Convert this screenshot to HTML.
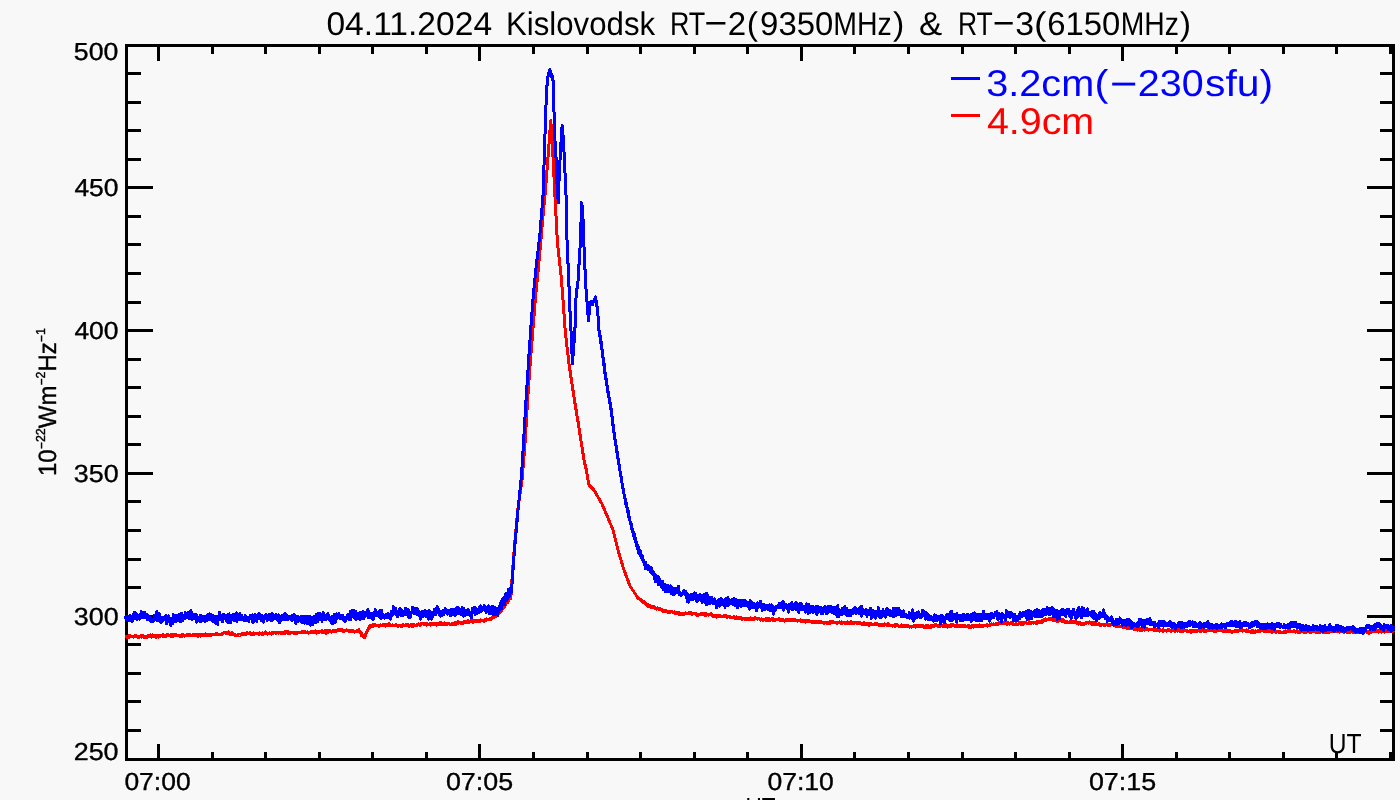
<!DOCTYPE html>
<html lang="en"><head><meta charset="utf-8"><title>04.11.2024 Kislovodsk RT-2 &amp; RT-3</title>
<style>html,body{margin:0;padding:0;background:#f8f8f8;overflow:hidden}svg{display:block;will-change:transform;-webkit-font-smoothing:antialiased}text{font-family:"Liberation Sans",Arial,sans-serif;text-rendering:geometricPrecision}</style>
</head><body>
<svg width="1400" height="800" viewBox="0 0 1400 800" font-family="Liberation Sans, Arial, sans-serif"><rect x="0" y="0" width="1400" height="800" fill="#f8f8f8"/>
<g fill="none" stroke="#000" stroke-width="3" shape-rendering="crispEdges">
<rect x="126.5" y="45.5" width="1267.0" height="714.0"/>
<path d="M158.5 45.5v15.5M158.5 759.5v-15.5M212.5 45.5v8M212.5 759.5v-8M265.5 45.5v8M265.5 759.5v-8M319.5 45.5v8M319.5 759.5v-8M372.5 45.5v8M372.5 759.5v-8M426.5 45.5v8M426.5 759.5v-8M479.5 45.5v15.5M479.5 759.5v-15.5M533.5 45.5v8M533.5 759.5v-8M587.5 45.5v8M587.5 759.5v-8M640.5 45.5v8M640.5 759.5v-8M694.5 45.5v8M694.5 759.5v-8M747.5 45.5v8M747.5 759.5v-8M801.5 45.5v15.5M801.5 759.5v-15.5M854.5 45.5v8M854.5 759.5v-8M908.5 45.5v8M908.5 759.5v-8M962.5 45.5v8M962.5 759.5v-8M1015.5 45.5v8M1015.5 759.5v-8M1069.5 45.5v8M1069.5 759.5v-8M1122.5 45.5v15.5M1122.5 759.5v-15.5M1176.5 45.5v8M1176.5 759.5v-8M1229.5 45.5v8M1229.5 759.5v-8M1283.5 45.5v8M1283.5 759.5v-8M1336.5 45.5v8M1336.5 759.5v-8M1390.5 45.5v8M1390.5 759.5v-8M126.5 73.5h14M1393.5 73.5h-14M126.5 102.5h14M1393.5 102.5h-14M126.5 130.5h14M1393.5 130.5h-14M126.5 159.5h14M1393.5 159.5h-14M126.5 187.5h26.5M1393.5 187.5h-26.5M126.5 216.5h14M1393.5 216.5h-14M126.5 244.5h14M1393.5 244.5h-14M126.5 273.5h14M1393.5 273.5h-14M126.5 302.5h14M1393.5 302.5h-14M126.5 330.5h26.5M1393.5 330.5h-26.5M126.5 359.5h14M1393.5 359.5h-14M126.5 387.5h14M1393.5 387.5h-14M126.5 416.5h14M1393.5 416.5h-14M126.5 444.5h14M1393.5 444.5h-14M126.5 473.5h26.5M1393.5 473.5h-26.5M126.5 501.5h14M1393.5 501.5h-14M126.5 530.5h14M1393.5 530.5h-14M126.5 559.5h14M1393.5 559.5h-14M126.5 587.5h14M1393.5 587.5h-14M126.5 616.5h26.5M1393.5 616.5h-26.5M126.5 644.5h14M1393.5 644.5h-14M126.5 673.5h14M1393.5 673.5h-14M126.5 701.5h14M1393.5 701.5h-14M126.5 730.5h14M1393.5 730.5h-14"/>
</g>
<g fill="none" stroke-width="3" stroke-linejoin="round" shape-rendering="crispEdges">
<polyline stroke="#ff0000" points="125.5,636.9 126.0,636.4 126.5,637.0 127.0,637.2 127.5,637.0 128.0,636.7 128.5,637.6 129.0,635.8 129.5,636.7 130.0,636.9 130.5,636.0 131.0,636.1 131.5,636.1 132.0,636.5 132.5,636.4 133.0,636.8 133.5,637.2 134.0,636.2 134.5,636.7 135.0,636.9 135.5,635.6 136.0,636.6 136.5,635.8 137.0,636.3 137.5,636.2 138.0,637.3 138.5,636.3 139.0,636.3 139.5,637.0 140.0,636.5 140.5,635.8 141.0,637.1 141.5,637.0 142.0,636.3 142.5,635.6 143.0,636.2 143.5,636.1 144.0,637.5 144.5,636.2 145.0,637.1 145.5,637.3 146.0,636.8 146.5,636.8 147.0,637.3 147.5,636.9 148.0,635.6 148.5,636.9 149.0,635.1 149.5,635.8 150.0,636.5 150.5,635.0 151.0,636.5 151.5,637.1 152.0,635.8 152.5,634.9 153.0,636.8 153.5,635.4 154.0,635.3 154.5,635.4 155.0,635.8 155.5,635.8 156.0,637.3 156.5,635.8 157.0,635.4 157.5,635.4 158.0,636.1 158.5,637.2 159.0,635.4 159.5,636.0 160.0,636.4 160.5,635.8 161.0,635.8 161.5,635.6 162.0,636.0 162.5,635.3 163.0,636.5 163.5,634.7 164.0,636.2 164.5,636.2 165.0,635.6 165.5,635.3 166.0,636.1 166.5,634.9 167.0,635.2 167.5,634.8 168.0,635.4 168.5,634.8 169.0,634.9 169.5,635.7 170.0,635.3 170.5,635.5 171.0,636.3 171.5,634.3 172.0,635.1 172.5,635.4 173.0,636.1 173.5,634.7 174.0,635.2 174.5,635.5 175.0,634.6 175.5,635.0 176.0,635.2 176.5,635.0 177.0,635.6 177.5,635.9 178.0,635.3 178.5,636.0 179.0,635.9 179.5,635.8 180.0,635.5 180.5,636.8 181.0,635.4 181.5,636.1 182.0,636.5 182.5,634.6 183.0,635.6 183.5,634.8 184.0,635.7 184.5,636.0 185.0,635.2 185.5,635.5 186.0,635.8 186.5,634.9 187.0,635.0 187.5,634.5 188.0,635.3 188.5,634.8 189.0,635.8 189.5,635.6 190.0,634.2 190.5,635.0 191.0,635.0 191.5,635.0 192.0,635.1 192.5,634.7 193.0,635.4 193.5,635.2 194.0,635.1 194.5,634.6 195.0,635.5 195.5,634.2 196.0,635.5 196.5,635.3 197.0,634.6 197.5,635.3 198.0,636.4 198.5,635.1 199.0,634.8 199.5,635.2 200.0,635.4 200.5,636.0 201.0,634.9 201.5,635.6 202.0,635.1 202.5,635.7 203.0,635.3 203.5,634.5 204.0,635.5 204.5,635.8 205.0,635.1 205.5,634.0 206.0,634.7 206.5,635.2 207.0,635.5 207.5,634.8 208.0,635.6 208.5,634.7 209.0,634.2 209.5,635.1 210.0,634.4 210.5,635.4 211.0,635.2 211.5,634.3 212.0,634.1 212.5,634.5 213.0,634.9 213.5,634.3 214.0,634.2 214.5,634.9 215.0,634.7 215.5,634.0 216.0,634.1 216.5,633.3 217.0,634.4 217.5,634.4 218.0,634.9 218.5,634.3 219.0,634.4 219.5,634.4 220.0,634.2 220.5,634.3 221.0,634.0 221.5,634.8 222.0,633.9 222.5,634.1 223.0,633.9 223.5,633.0 224.0,632.3 224.5,632.7 225.0,633.0 225.5,633.2 226.0,632.4 226.5,633.5 227.0,633.0 227.5,633.6 228.0,632.7 228.5,631.9 229.0,633.7 229.5,633.7 230.0,634.8 230.5,633.7 231.0,634.0 231.5,634.9 232.0,632.7 232.5,633.4 233.0,633.3 233.5,634.7 234.0,634.5 234.5,635.1 235.0,634.1 235.5,634.7 236.0,635.2 236.5,635.1 237.0,635.1 237.5,635.9 238.0,634.9 238.5,635.0 239.0,635.0 239.5,635.5 240.0,634.5 240.5,634.4 241.0,634.3 241.5,633.8 242.0,634.4 242.5,634.0 243.0,633.0 243.5,633.7 244.0,633.9 244.5,634.6 245.0,633.6 245.5,634.4 246.0,633.7 246.5,634.2 247.0,632.8 247.5,632.7 248.0,633.4 248.5,633.3 249.0,633.5 249.5,633.8 250.0,632.9 250.5,633.7 251.0,633.4 251.5,634.8 252.0,633.7 252.5,633.6 253.0,634.8 253.5,633.0 254.0,634.8 254.5,634.1 255.0,633.7 255.5,633.7 256.0,633.9 256.5,634.0 257.0,633.3 257.5,633.9 258.0,634.0 258.5,633.5 259.0,634.3 259.5,632.9 260.0,633.5 260.5,633.9 261.0,633.6 261.5,634.2 262.0,633.9 262.5,632.8 263.0,634.2 263.5,633.1 264.0,634.0 264.5,633.4 265.0,633.9 265.5,632.0 266.0,633.6 266.5,633.1 267.0,634.0 267.5,634.0 268.0,633.9 268.5,633.1 269.0,633.2 269.5,632.8 270.0,633.2 270.5,633.4 271.0,633.6 271.5,634.1 272.0,632.9 272.5,633.5 273.0,633.7 273.5,633.2 274.0,632.4 274.5,632.9 275.0,632.8 275.5,632.4 276.0,633.1 276.5,632.7 277.0,632.7 277.5,632.9 278.0,632.8 278.5,633.1 279.0,633.1 279.5,632.9 280.0,633.0 280.5,633.1 281.0,632.5 281.5,633.3 282.0,633.4 282.5,632.6 283.0,633.3 283.5,632.9 284.0,632.8 284.5,633.5 285.0,631.8 285.5,632.9 286.0,632.1 286.5,632.6 287.0,631.3 287.5,633.0 288.0,633.2 288.5,632.0 289.0,633.5 289.5,632.4 290.0,632.7 290.5,632.2 291.0,633.1 291.5,632.7 292.0,632.8 292.5,632.9 293.0,632.3 293.5,633.1 294.0,632.6 294.5,633.5 295.0,632.7 295.5,633.0 296.0,632.9 296.5,633.4 297.0,633.5 297.5,632.7 298.0,632.1 298.5,632.5 299.0,632.2 299.5,632.7 300.0,632.1 300.5,632.3 301.0,632.2 301.5,632.2 302.0,631.4 302.5,632.5 303.0,631.7 303.5,631.1 304.0,631.6 304.5,631.9 305.0,631.9 305.5,632.4 306.0,632.0 306.5,632.4 307.0,632.8 307.5,631.8 308.0,631.9 308.5,633.0 309.0,632.4 309.5,632.6 310.0,632.0 310.5,632.0 311.0,631.8 311.5,631.4 312.0,632.4 312.5,631.1 313.0,631.4 313.5,631.1 314.0,632.7 314.5,631.3 315.0,632.4 315.5,631.0 316.0,632.8 316.5,633.1 317.0,631.7 317.5,632.5 318.0,631.0 318.5,631.4 319.0,632.3 319.5,631.7 320.0,631.4 320.5,631.7 321.0,631.4 321.5,631.3 322.0,632.2 322.5,630.7 323.0,631.4 323.5,631.8 324.0,632.3 324.5,631.9 325.0,631.5 325.5,630.5 326.0,633.2 326.5,631.3 327.0,632.1 327.5,631.0 328.0,632.2 328.5,630.9 329.0,631.3 329.5,631.6 330.0,630.9 330.5,631.9 331.0,631.5 331.5,632.1 332.0,631.9 332.5,631.1 333.0,630.7 333.5,631.1 334.0,631.8 334.5,630.2 335.0,631.6 335.5,630.1 336.0,631.2 336.5,631.1 337.0,630.3 337.5,629.9 338.0,630.7 338.5,630.9 339.0,629.9 339.5,630.9 340.0,630.8 340.5,629.9 341.0,629.6 341.5,630.6 342.0,630.4 342.5,629.8 343.0,630.0 343.5,631.7 344.0,630.8 344.5,630.7 345.0,630.0 345.5,630.4 346.0,631.0 346.5,629.9 347.0,630.1 347.5,630.3 348.0,630.4 348.5,631.1 349.0,630.4 349.5,631.1 350.0,631.2 350.5,631.3 351.0,631.4 351.5,630.6 352.0,630.7 352.5,630.5 353.0,631.6 353.5,631.8 354.0,631.7 354.5,632.2 355.0,631.2 355.5,631.9 356.0,631.4 356.5,631.7 357.0,630.8 357.5,631.1 358.0,630.7 358.5,630.5 359.0,629.9 359.5,631.7 360.0,631.3 360.2,633.0 360.4,632.0 360.6,632.6 360.9,632.3 361.1,633.9 361.3,633.3 361.5,635.3 361.7,635.8 362.0,633.8 362.2,634.9 362.4,635.0 362.7,635.7 362.9,635.8 363.4,636.7 363.9,637.1 364.5,636.4 365.0,637.1 365.2,636.1 365.3,636.0 365.5,635.8 365.7,634.1 365.8,635.1 366.0,633.2 366.2,632.8 366.3,633.3 366.5,631.9 366.8,631.4 367.0,632.0 367.2,630.9 367.5,630.3 367.8,629.7 368.0,629.2 368.2,629.4 368.5,628.7 368.8,627.9 369.0,629.0 369.2,627.7 369.5,626.2 369.8,626.6 370.0,625.5 370.5,625.6 371.0,626.8 371.5,626.4 372.0,625.8 372.5,626.2 373.0,624.8 373.5,626.0 374.0,626.0 374.5,625.2 375.0,624.6 375.5,625.9 376.0,625.7 376.5,625.5 377.0,625.5 377.5,625.5 378.0,625.9 378.5,626.2 379.0,625.0 379.5,626.0 380.0,624.9 380.5,624.8 381.0,625.0 381.5,625.5 382.0,625.4 382.5,625.1 383.0,624.6 383.5,625.7 384.0,625.0 384.5,625.1 385.0,624.6 385.5,626.0 386.0,624.7 386.5,624.2 387.0,625.3 387.5,624.8 388.0,625.2 388.5,625.2 389.0,623.7 389.5,624.5 390.0,626.0 390.5,625.0 391.0,625.0 391.5,625.3 392.0,625.5 392.5,624.9 393.0,625.4 393.5,625.4 394.0,625.2 394.5,625.2 395.0,625.7 395.5,625.5 396.0,624.8 396.5,624.7 397.0,625.4 397.5,625.5 398.0,626.4 398.5,625.6 399.0,625.7 399.5,625.5 400.0,625.9 400.5,626.1 401.0,626.5 401.5,625.6 402.0,626.1 402.5,626.3 403.0,624.8 403.5,625.8 404.0,625.1 404.5,625.2 405.0,625.3 405.5,625.2 406.0,624.8 406.5,625.4 407.0,625.5 407.5,625.1 408.0,624.6 408.5,625.0 409.0,626.2 409.5,625.7 410.0,625.1 410.5,624.9 411.0,625.6 411.5,625.6 412.0,626.8 412.5,624.7 413.0,625.8 413.5,626.1 414.0,626.1 414.5,624.7 415.0,625.6 415.5,625.4 416.0,625.4 416.5,625.3 417.0,624.6 417.5,625.1 418.0,624.2 418.5,623.8 419.0,624.2 419.5,624.5 420.0,625.2 420.5,624.0 421.0,625.0 421.5,623.6 422.0,623.7 422.5,623.2 423.0,623.9 423.5,623.9 424.0,624.3 424.5,623.7 425.0,624.0 425.5,623.3 426.0,623.9 426.5,625.0 427.0,623.6 427.5,624.2 428.0,624.7 428.5,624.7 429.0,624.2 429.5,624.1 430.0,623.7 430.5,625.1 431.0,623.6 431.4,624.3 431.9,623.8 432.4,624.1 432.9,623.7 433.4,624.4 433.9,624.8 434.4,624.0 434.9,624.2 435.4,624.3 435.9,623.9 436.4,625.0 436.9,623.5 437.4,623.6 437.9,624.3 438.4,623.9 438.9,623.7 439.4,624.4 439.9,622.5 440.4,623.8 440.9,624.3 441.4,622.9 441.9,625.0 442.4,623.7 442.9,623.7 443.4,623.8 443.9,623.6 444.4,624.7 444.9,622.9 445.4,623.1 445.9,623.9 446.4,624.0 446.9,623.2 447.4,624.4 447.9,623.3 448.4,623.6 448.9,623.8 449.4,624.2 449.9,624.0 450.4,624.3 450.9,624.6 451.4,624.6 451.9,623.6 452.4,623.8 452.9,624.9 453.4,624.3 453.9,624.2 454.4,623.1 454.9,622.2 455.4,623.7 455.9,624.6 456.4,622.1 456.9,623.3 457.4,623.1 457.9,621.8 458.4,623.5 458.9,622.9 459.4,622.3 459.9,623.0 460.4,622.5 460.9,623.2 461.4,623.6 461.9,622.5 462.4,623.0 462.9,623.6 463.4,621.9 463.9,622.6 464.4,622.0 464.9,622.9 465.4,621.8 465.9,622.5 466.4,621.9 466.9,622.2 467.4,621.6 467.9,620.6 468.4,620.7 468.9,622.2 469.4,622.2 469.9,621.2 470.4,621.5 470.9,620.7 471.4,620.8 471.9,620.4 472.4,621.1 472.9,622.3 473.4,620.6 473.9,621.8 474.4,621.5 474.9,621.5 475.4,620.2 475.9,620.4 476.4,621.6 476.9,620.0 477.4,620.8 477.9,620.7 478.4,620.8 478.9,621.3 479.4,620.5 479.9,621.4 480.4,621.3 480.9,619.9 481.4,620.9 481.9,620.6 482.4,620.8 482.9,620.3 483.4,620.6 483.9,621.3 484.4,620.5 484.9,619.6 485.4,620.1 486.0,620.2 486.5,618.8 487.0,619.3 487.5,619.1 488.0,619.7 488.5,619.0 489.0,619.0 489.5,619.3 490.0,619.3 490.4,618.6 490.9,619.7 491.3,618.7 491.8,618.7 492.2,617.8 492.6,617.6 493.1,616.9 493.5,616.1 493.9,617.8 494.4,616.9 494.8,616.2 495.3,616.4 495.7,616.8 496.1,616.1 496.4,616.3 496.8,614.5 497.1,615.1 497.5,614.6 497.9,615.2 498.2,614.4 498.6,614.1 498.9,614.1 499.3,613.4 499.6,611.8 500.0,613.1 500.3,612.3 500.6,611.4 500.9,611.3 501.2,611.5 501.4,610.7 501.7,609.7 502.0,609.7 502.3,608.5 502.6,608.8 502.9,608.0 503.2,607.9 503.5,606.2 503.8,606.0 504.1,607.8 504.4,605.9 504.7,605.5 505.0,605.5 505.2,604.6 505.6,604.5 505.9,602.9 506.3,603.5 506.6,603.1 507.0,601.7 507.3,601.4 507.7,602.3 508.0,601.0 508.3,600.6 508.6,600.9 508.8,600.0 509.1,598.6 509.4,599.2 509.7,598.8 509.9,598.4 510.2,598.9 510.5,598.0 510.6,596.9 510.6,598.3 510.7,596.3 510.8,595.0 510.8,595.0 510.9,594.1 510.9,593.8 511.0,594.5 511.1,594.0 511.1,593.5 511.2,593.0 511.2,592.5 511.2,592.0 511.3,591.5 511.3,591.0 511.3,590.5 511.3,590.0 511.4,589.5 511.4,589.0 511.4,588.5 511.4,588.0 511.4,587.5 511.5,587.0 511.5,586.5 511.5,586.0 511.5,585.5 511.6,585.0 511.6,584.5 511.6,584.0 511.7,583.5 511.7,583.0 511.8,582.5 511.8,582.0 511.8,581.5 511.9,581.0 511.9,580.5 511.9,580.0 512.0,579.5 512.0,579.0 512.0,578.5 512.1,578.0 512.1,577.5 512.1,577.0 512.2,576.5 512.2,576.0 512.3,575.5 512.3,575.0 512.3,574.5 512.4,574.0 512.4,573.5 512.4,573.0 512.5,572.5 512.5,572.0 512.5,571.5 512.6,571.0 512.6,570.5 512.7,570.0 512.7,569.5 512.7,569.0 512.8,568.5 512.8,568.0 512.8,567.5 512.9,567.0 512.9,566.5 512.9,566.0 513.0,565.5 513.0,565.0 513.1,564.5 513.1,564.0 513.1,563.5 513.2,563.0 513.2,562.5 513.2,562.0 513.3,561.5 513.3,561.0 513.3,560.5 513.4,560.0 513.4,559.5 513.5,559.0 513.5,558.5 513.5,558.0 513.6,557.5 513.6,557.0 513.6,556.5 513.7,556.0 513.7,555.5 513.7,555.0 513.8,554.5 513.8,554.0 513.8,553.5 513.9,553.0 513.9,552.5 514.0,552.0 514.0,551.5 514.0,551.0 514.1,550.5 514.1,550.0 514.1,549.5 514.2,549.0 514.2,548.5 514.3,548.0 514.3,547.5 514.4,547.0 514.4,546.5 514.5,546.0 514.5,545.5 514.6,545.0 514.6,544.5 514.6,544.0 514.7,543.5 514.7,543.0 514.8,542.5 514.8,542.0 514.9,541.5 514.9,541.0 515.0,540.5 515.0,540.0 515.0,539.5 515.1,539.0 515.1,538.5 515.2,538.0 515.2,537.5 515.3,537.0 515.3,536.5 515.4,536.0 515.4,535.5 515.5,535.0 515.5,534.5 515.5,534.0 515.6,533.5 515.6,533.0 515.7,532.5 515.7,532.0 515.8,531.5 515.8,531.0 515.9,530.5 515.9,530.0 515.9,529.5 516.0,529.0 516.0,528.5 516.1,528.0 516.1,527.5 516.2,527.0 516.2,526.5 516.3,526.0 516.3,525.5 516.4,525.0 516.4,524.5 516.4,524.0 516.5,523.5 516.5,523.0 516.6,522.5 516.6,522.0 516.7,521.5 516.7,521.0 516.8,520.5 516.8,520.0 516.8,519.5 516.9,519.0 516.9,518.5 517.0,518.0 517.0,517.5 517.1,517.0 517.1,516.5 517.2,516.0 517.2,515.5 517.2,515.0 517.3,514.5 517.3,514.0 517.4,513.5 517.4,513.0 517.5,512.5 517.5,512.0 517.6,511.5 517.6,511.0 517.7,510.5 517.7,510.0 517.8,509.5 517.8,509.0 517.9,508.5 518.0,508.0 518.1,507.5 518.1,507.0 518.2,506.6 518.3,506.1 518.3,505.6 518.4,505.1 518.5,504.6 518.5,504.1 518.6,503.6 518.7,503.1 518.8,502.6 518.8,502.1 518.9,501.6 519.0,501.1 519.0,500.7 519.1,500.2 519.2,499.7 519.3,499.2 519.3,498.7 519.4,498.2 519.5,497.7 519.5,497.2 519.6,496.7 519.7,496.2 519.7,495.7 519.8,495.2 519.9,494.8 520.0,494.3 520.0,493.8 520.1,493.3 520.2,492.8 520.2,492.3 520.3,491.8 520.4,491.3 520.4,490.8 520.5,490.3 520.6,489.8 520.7,489.3 520.7,488.9 520.8,488.4 520.9,487.9 520.9,487.4 521.0,486.9 521.1,486.4 521.2,485.9 521.2,485.4 521.3,484.9 521.4,484.4 521.4,483.9 521.5,483.4 521.6,483.0 521.6,482.5 521.7,482.0 521.8,481.5 521.9,481.0 521.9,480.5 522.0,480.0 522.0,479.5 522.1,479.0 522.1,478.5 522.2,478.0 522.2,477.5 522.2,477.0 522.3,476.5 522.3,476.0 522.4,475.5 522.4,475.0 522.4,474.5 522.5,474.0 522.5,473.5 522.6,473.0 522.6,472.5 522.6,472.0 522.7,471.5 522.7,471.0 522.8,470.5 522.8,470.0 522.8,469.5 522.9,469.0 522.9,468.5 523.0,468.0 523.0,467.5 523.0,467.0 523.1,466.5 523.1,466.0 523.2,465.5 523.2,465.0 523.2,464.5 523.3,464.0 523.3,463.5 523.4,463.0 523.4,462.5 523.4,462.0 523.5,461.5 523.5,461.0 523.6,460.5 523.6,460.0 523.6,459.5 523.7,459.0 523.7,458.5 523.8,458.0 523.8,457.5 523.8,457.0 523.9,456.5 523.9,456.0 524.0,455.5 524.0,455.0 524.0,454.5 524.1,454.0 524.1,453.5 524.2,453.0 524.2,452.5 524.2,452.0 524.3,451.5 524.3,451.0 524.4,450.5 524.4,450.0 524.4,449.5 524.5,449.0 524.5,448.5 524.6,448.0 524.6,447.5 524.6,447.0 524.7,446.5 524.7,446.0 524.8,445.5 524.8,445.0 524.8,444.5 524.9,444.0 524.9,443.5 525.0,443.0 525.0,442.5 525.0,442.0 525.1,441.5 525.1,441.0 525.2,440.5 525.2,440.0 525.2,439.5 525.3,439.0 525.3,438.5 525.3,438.0 525.3,437.5 525.4,437.0 525.4,436.5 525.4,436.0 525.5,435.5 525.5,435.0 525.5,434.5 525.5,434.0 525.6,433.5 525.6,433.0 525.6,432.5 525.7,432.0 525.7,431.5 525.7,431.0 525.7,430.5 525.8,430.0 525.8,429.5 525.8,429.0 525.9,428.5 525.9,428.0 525.9,427.5 525.9,427.0 526.0,426.5 526.0,426.0 526.0,425.5 526.1,425.0 526.1,424.5 526.1,424.0 526.1,423.5 526.2,423.0 526.2,422.5 526.2,422.0 526.3,421.5 526.3,421.0 526.3,420.5 526.4,420.0 526.4,419.5 526.4,419.0 526.4,418.5 526.5,418.0 526.5,417.5 526.5,417.0 526.6,416.5 526.6,416.0 526.6,415.5 526.6,415.0 526.7,414.5 526.7,414.0 526.7,413.5 526.8,413.0 526.8,412.5 526.8,412.0 526.8,411.5 526.9,411.0 526.9,410.5 526.9,410.0 527.0,409.5 527.0,409.0 527.0,408.5 527.0,408.0 527.1,407.5 527.1,407.0 527.1,406.5 527.2,406.0 527.2,405.5 527.2,405.0 527.2,404.5 527.3,404.0 527.3,403.5 527.3,403.0 527.4,402.5 527.4,402.0 527.4,401.5 527.4,401.0 527.5,400.5 527.5,400.0 527.5,399.5 527.6,399.0 527.6,398.5 527.6,398.0 527.7,397.5 527.7,397.0 527.8,396.5 527.8,396.0 527.8,395.5 527.9,395.0 527.9,394.5 527.9,394.0 528.0,393.5 528.0,393.0 528.0,392.5 528.1,392.0 528.1,391.5 528.2,391.0 528.2,390.5 528.2,390.0 528.3,389.5 528.3,389.0 528.3,388.5 528.4,388.0 528.4,387.5 528.4,387.0 528.5,386.5 528.5,386.0 528.6,385.5 528.6,385.0 528.6,384.5 528.7,384.0 528.7,383.5 528.7,383.0 528.8,382.5 528.8,382.0 528.8,381.5 528.9,381.0 528.9,380.5 529.0,380.0 529.0,379.5 529.0,379.0 529.1,378.5 529.1,378.0 529.1,377.5 529.2,377.0 529.2,376.5 529.2,376.0 529.3,375.5 529.3,375.0 529.3,374.5 529.4,374.0 529.4,373.5 529.5,373.0 529.5,372.5 529.5,372.0 529.6,371.5 529.6,371.0 529.6,370.5 529.7,370.0 529.7,369.5 529.7,369.0 529.8,368.5 529.8,368.0 529.9,367.5 529.9,367.0 529.9,366.5 530.0,366.0 530.0,365.5 530.0,365.0 530.1,364.5 530.1,364.0 530.1,363.5 530.2,363.0 530.2,362.5 530.3,362.0 530.3,361.5 530.3,361.0 530.4,360.5 530.4,360.0 530.4,359.5 530.5,359.0 530.5,358.5 530.6,358.0 530.6,357.5 530.6,357.0 530.7,356.5 530.7,356.0 530.8,355.5 530.8,355.0 530.8,354.5 530.9,354.0 530.9,353.5 531.0,353.0 531.0,352.5 531.0,352.0 531.1,351.5 531.1,351.0 531.2,350.5 531.2,350.0 531.2,349.5 531.3,349.0 531.3,348.5 531.4,348.0 531.4,347.5 531.4,347.0 531.5,346.5 531.5,346.0 531.6,345.5 531.6,345.0 531.6,344.5 531.7,344.0 531.7,343.5 531.8,343.0 531.8,342.5 531.8,342.0 531.9,341.5 531.9,341.0 532.0,340.5 532.0,340.0 532.0,339.5 532.1,339.0 532.1,338.5 532.2,338.0 532.2,337.5 532.2,337.0 532.3,336.5 532.3,336.0 532.4,335.5 532.4,335.0 532.4,334.5 532.5,334.0 532.5,333.5 532.6,333.0 532.6,332.5 532.6,332.0 532.7,331.5 532.7,331.0 532.8,330.5 532.8,330.0 532.8,329.5 532.9,329.0 532.9,328.5 533.0,328.0 533.0,327.5 533.0,327.0 533.1,326.5 533.1,326.0 533.2,325.5 533.2,325.0 533.2,324.5 533.3,324.0 533.3,323.5 533.4,323.0 533.4,322.5 533.4,322.0 533.5,321.5 533.5,321.0 533.6,320.5 533.6,320.0 533.6,319.5 533.7,319.0 533.7,318.5 533.8,318.0 533.8,317.5 533.8,317.0 533.9,316.5 533.9,316.0 534.0,315.5 534.0,315.0 534.0,314.5 534.1,314.0 534.1,313.5 534.2,313.0 534.2,312.5 534.2,312.0 534.3,311.5 534.3,311.0 534.4,310.5 534.4,310.0 534.4,309.5 534.5,309.0 534.5,308.5 534.6,308.0 534.6,307.5 534.6,307.0 534.7,306.5 534.7,306.0 534.8,305.5 534.8,305.0 534.8,304.5 534.9,304.0 534.9,303.5 535.0,303.0 535.0,302.5 535.0,302.0 535.1,301.5 535.1,301.0 535.2,300.5 535.2,300.0 535.2,299.5 535.3,299.0 535.3,298.5 535.4,298.0 535.4,297.5 535.4,297.0 535.5,296.5 535.5,296.0 535.6,295.5 535.6,295.0 535.7,294.5 535.7,294.0 535.8,293.5 535.8,293.0 535.9,292.5 535.9,292.0 536.0,291.5 536.0,291.0 536.1,290.5 536.1,290.0 536.2,289.6 536.2,289.1 536.3,288.6 536.3,288.1 536.4,287.6 536.4,287.1 536.5,286.6 536.5,286.1 536.6,285.6 536.6,285.1 536.7,284.6 536.7,284.1 536.8,283.6 536.8,283.1 536.9,282.6 536.9,282.1 537.0,281.6 537.0,281.1 537.1,280.6 537.1,280.1 537.2,279.6 537.2,279.2 537.3,278.7 537.3,278.2 537.4,277.7 537.4,277.2 537.5,276.7 537.5,276.2 537.6,275.7 537.6,275.2 537.7,274.7 537.7,274.2 537.8,273.7 537.8,273.2 537.9,272.7 537.9,272.2 538.0,271.7 538.0,271.2 538.1,270.7 538.1,270.2 538.2,269.7 538.2,269.2 538.3,268.8 538.3,268.2 538.4,267.8 538.4,267.2 538.5,266.8 538.5,266.2 538.6,265.8 538.6,265.2 538.7,264.8 538.7,264.2 538.7,263.8 538.8,263.2 538.8,262.8 538.9,262.2 538.9,261.8 539.0,261.2 539.0,260.8 539.1,260.2 539.1,259.8 539.1,259.2 539.2,258.8 539.2,258.2 539.3,257.8 539.3,257.2 539.4,256.8 539.4,256.2 539.5,255.8 539.5,255.2 539.5,254.8 539.6,254.2 539.6,253.8 539.7,253.2 539.7,252.8 539.8,252.2 539.8,251.8 539.8,251.2 539.9,250.8 539.9,250.2 540.0,249.8 540.0,249.2 540.1,248.8 540.1,248.2 540.2,247.8 540.2,247.2 540.2,246.8 540.3,246.2 540.3,245.8 540.4,245.2 540.4,244.8 540.5,244.2 540.5,243.8 540.6,243.2 540.6,242.8 540.6,242.2 540.7,241.8 540.7,241.2 540.8,240.8 540.8,240.2 540.9,239.8 540.9,239.2 541.0,238.8 541.0,238.2 541.0,237.8 541.1,237.2 541.1,236.8 541.2,236.2 541.2,235.8 541.3,235.2 541.3,234.8 541.4,234.2 541.4,233.8 541.4,233.3 541.5,232.8 541.5,232.3 541.6,231.8 541.6,231.3 541.7,230.8 541.7,230.3 541.8,229.8 541.8,229.3 541.9,228.8 541.9,228.3 541.9,227.8 542.0,227.3 542.0,226.8 542.1,226.3 542.1,225.8 542.2,225.3 542.2,224.8 542.3,224.3 542.3,223.8 542.4,223.3 542.4,222.8 542.4,222.3 542.5,221.8 542.5,221.3 542.6,220.8 542.6,220.3 542.7,219.8 542.7,219.3 542.8,218.8 542.8,218.3 542.9,217.8 542.9,217.3 542.9,216.8 543.0,216.3 543.0,215.9 543.1,215.4 543.1,214.9 543.2,214.4 543.2,213.9 543.3,213.4 543.3,212.9 543.4,212.4 543.4,211.9 543.4,211.4 543.5,210.9 543.5,210.4 543.6,209.9 543.6,209.4 543.7,208.9 543.7,208.4 543.8,207.9 543.8,207.4 543.9,206.9 543.9,206.4 543.9,205.9 544.0,205.4 544.0,204.9 544.1,204.4 544.1,203.9 544.2,203.4 544.2,202.9 544.3,202.4 544.3,201.9 544.4,201.4 544.4,200.9 544.4,200.4 544.5,199.9 544.5,199.4 544.6,198.9 544.6,198.5 544.7,198.0 544.7,197.5 544.8,197.0 544.8,196.5 544.9,196.0 544.9,195.5 544.9,195.0 545.0,194.5 545.0,194.0 545.1,193.5 545.1,193.0 545.2,192.5 545.2,192.0 545.3,191.5 545.3,191.0 545.4,190.5 545.4,190.0 545.4,189.5 545.5,189.0 545.5,188.5 545.6,188.0 545.6,187.5 545.6,187.0 545.7,186.5 545.7,186.0 545.7,185.5 545.8,185.0 545.8,184.5 545.9,184.0 545.9,183.5 545.9,183.0 546.0,182.5 546.0,182.0 546.1,181.5 546.1,181.0 546.1,180.5 546.2,180.0 546.2,179.5 546.3,179.0 546.3,178.5 546.3,178.0 546.4,177.5 546.4,177.0 546.4,176.5 546.5,176.0 546.5,175.5 546.6,175.0 546.6,174.5 546.6,174.0 546.7,173.5 546.7,173.0 546.8,172.5 546.8,172.0 546.8,171.5 546.9,171.0 546.9,170.5 547.0,170.0 547.0,169.5 547.0,169.0 547.1,168.5 547.1,168.0 547.1,167.5 547.2,167.0 547.2,166.5 547.3,166.0 547.3,165.5 547.3,165.0 547.4,164.5 547.4,164.0 547.5,163.5 547.5,163.0 547.5,162.5 547.6,162.0 547.6,161.5 547.6,161.0 547.7,160.5 547.7,160.0 547.8,159.5 547.8,159.0 547.8,158.5 547.9,158.0 547.9,157.5 548.0,157.0 548.0,156.5 548.0,156.0 548.1,155.5 548.1,155.0 548.2,154.5 548.2,154.0 548.2,153.5 548.3,153.0 548.3,152.5 548.3,152.0 548.4,151.5 548.4,151.0 548.5,150.5 548.5,150.0 548.5,149.5 548.6,149.0 548.6,148.5 548.6,148.0 548.7,147.5 548.7,147.0 548.8,146.5 548.8,146.0 548.8,145.5 548.9,145.1 548.9,144.6 549.0,144.1 549.0,143.6 549.0,143.1 549.1,142.6 549.1,142.1 549.1,141.6 549.2,141.1 549.2,140.6 549.2,140.1 549.3,139.6 549.3,139.1 549.4,138.6 549.4,138.1 549.4,137.6 549.5,137.1 549.5,136.6 549.5,136.1 549.6,135.6 549.6,135.2 549.7,134.7 549.7,134.2 549.7,133.7 549.8,133.2 549.8,132.7 549.9,132.2 549.9,131.7 549.9,131.2 550.0,130.7 550.0,130.2 550.0,129.7 550.1,129.2 550.1,128.7 550.1,128.2 550.2,127.7 550.2,127.2 550.3,126.7 550.3,126.2 550.3,125.7 550.4,125.2 550.4,124.8 550.5,124.3 550.5,123.8 550.5,123.3 550.6,122.8 550.6,122.3 550.6,121.8 550.7,121.3 550.7,120.8 550.8,120.3 550.8,120.8 550.8,121.3 550.8,121.8 550.9,122.3 550.9,122.8 550.9,123.3 551.0,123.8 551.0,124.3 551.0,124.8 551.1,125.2 551.1,125.7 551.1,126.2 551.2,126.7 551.2,127.2 551.2,127.7 551.2,128.2 551.3,128.7 551.3,129.2 551.3,129.7 551.4,130.2 551.4,130.7 551.4,131.2 551.5,131.7 551.5,132.2 551.5,132.7 551.6,133.2 551.6,133.7 551.6,134.2 551.6,134.7 551.7,135.2 551.7,135.6 551.7,136.1 551.8,136.6 551.8,137.1 551.8,137.6 551.9,138.1 551.9,138.6 551.9,139.1 552.0,139.6 552.0,140.1 552.0,140.6 552.0,141.1 552.1,141.6 552.1,142.1 552.1,142.6 552.2,143.1 552.2,143.6 552.2,144.1 552.3,144.6 552.3,145.1 552.3,145.5 552.4,146.0 552.4,146.5 552.4,147.0 552.4,147.5 552.5,148.0 552.5,148.5 552.5,149.0 552.6,149.5 552.6,150.0 552.6,150.5 552.6,151.0 552.7,151.5 552.7,152.0 552.7,152.5 552.8,153.0 552.8,153.5 552.8,154.0 552.8,154.5 552.9,155.0 552.9,155.5 552.9,156.0 552.9,156.5 553.0,157.0 553.0,157.5 553.0,158.0 553.0,158.5 553.1,159.0 553.1,159.5 553.1,160.0 553.1,160.5 553.1,161.0 553.2,161.5 553.2,162.0 553.2,162.5 553.2,163.0 553.3,163.5 553.3,164.0 553.3,164.5 553.4,165.0 553.4,165.5 553.4,166.0 553.4,166.5 553.5,167.0 553.5,167.5 553.5,168.0 553.5,168.5 553.6,169.0 553.6,169.5 553.6,170.0 553.6,170.5 553.6,171.0 553.7,171.5 553.7,172.0 553.7,172.5 553.8,173.0 553.8,173.5 553.8,174.0 553.8,174.5 553.9,175.0 553.9,175.5 553.9,176.0 553.9,176.5 554.0,177.0 554.0,177.5 554.0,178.0 554.0,178.5 554.1,179.0 554.1,179.5 554.1,180.0 554.1,180.5 554.1,181.0 554.2,181.5 554.2,182.0 554.2,182.5 554.2,183.0 554.3,183.5 554.3,184.0 554.3,184.5 554.4,185.0 554.4,185.5 554.4,186.0 554.4,186.5 554.5,187.0 554.5,187.5 554.5,188.0 554.5,188.5 554.6,189.0 554.6,189.5 554.6,190.0 554.6,190.5 554.7,191.0 554.7,191.5 554.7,192.0 554.7,192.5 554.8,193.0 554.8,193.5 554.8,194.0 554.8,194.5 554.9,195.0 554.9,195.5 554.9,196.0 554.9,196.5 555.0,197.0 555.0,197.5 555.0,198.0 555.1,198.5 555.1,199.0 555.1,199.5 555.1,200.0 555.2,200.5 555.2,201.0 555.2,201.5 555.2,202.0 555.3,202.5 555.3,203.0 555.3,203.5 555.3,204.0 555.4,204.5 555.4,205.0 555.4,205.5 555.5,206.0 555.5,206.5 555.5,207.0 555.5,207.5 555.6,208.0 555.6,208.5 555.6,209.0 555.6,209.5 555.7,210.0 555.7,210.5 555.7,211.0 555.7,211.5 555.8,212.0 555.8,212.5 555.8,213.0 555.9,213.5 555.9,214.0 555.9,214.5 555.9,215.0 556.0,215.5 556.0,216.0 556.0,216.5 556.0,217.0 556.1,217.5 556.1,218.0 556.1,218.5 556.1,219.0 556.2,219.5 556.2,220.0 556.2,220.5 556.3,221.0 556.3,221.5 556.3,222.0 556.3,222.5 556.4,223.0 556.4,223.5 556.4,224.0 556.4,224.5 556.5,225.0 556.5,225.5 556.5,226.0 556.5,226.5 556.6,227.0 556.6,227.5 556.6,228.0 556.7,228.5 556.7,229.0 556.7,229.5 556.7,230.0 556.8,230.5 556.8,231.0 556.8,231.5 556.8,232.0 556.9,232.5 556.9,233.0 556.9,233.5 556.9,234.0 557.0,234.5 557.0,235.0 557.0,235.5 557.1,236.0 557.1,236.5 557.1,237.0 557.1,237.5 557.2,238.0 557.2,238.5 557.2,239.0 557.2,239.5 557.3,240.0 557.3,240.5 557.3,241.0 557.3,241.5 557.4,242.0 557.4,242.5 557.5,243.0 557.5,243.5 557.6,244.0 557.6,244.5 557.7,245.0 557.7,245.5 557.8,246.0 557.8,246.5 557.9,247.0 557.9,247.5 558.0,248.0 558.1,248.5 558.1,249.0 558.2,249.5 558.2,250.0 558.3,250.5 558.3,251.0 558.4,251.5 558.4,252.0 558.5,252.5 558.6,253.0 558.6,253.5 558.7,254.0 558.7,254.5 558.8,255.0 558.8,255.5 558.9,256.0 558.9,256.5 559.0,257.0 559.0,257.5 559.1,258.0 559.2,258.5 559.2,259.0 559.3,259.5 559.3,260.0 559.4,260.5 559.4,261.0 559.5,261.5 559.5,262.0 559.6,262.5 559.7,263.0 559.7,263.5 559.8,264.0 559.8,264.5 559.9,265.0 559.9,265.5 560.0,266.0 560.0,266.5 560.1,267.0 560.1,267.5 560.2,268.0 560.3,268.5 560.3,269.0 560.4,269.5 560.4,270.0 560.5,270.5 560.5,271.0 560.6,271.5 560.6,272.0 560.7,272.5 560.8,273.0 560.8,273.5 560.9,274.0 560.9,274.5 561.0,275.0 561.0,275.5 561.1,276.0 561.1,276.5 561.2,277.0 561.2,277.5 561.3,278.0 561.3,278.5 561.4,279.0 561.4,279.5 561.4,280.0 561.5,280.5 561.5,281.0 561.6,281.5 561.6,282.0 561.6,282.5 561.7,283.0 561.7,283.5 561.7,284.0 561.8,284.5 561.8,285.0 561.9,285.5 561.9,286.0 561.9,286.5 562.0,287.0 562.0,287.5 562.0,288.0 562.1,288.5 562.1,289.0 562.2,289.5 562.2,290.0 562.2,290.5 562.3,291.0 562.3,291.5 562.3,292.0 562.4,292.5 562.4,293.0 562.5,293.5 562.5,294.0 562.5,294.5 562.6,295.0 562.6,295.5 562.7,296.0 562.7,296.5 562.7,297.0 562.8,297.5 562.8,298.0 562.8,298.5 562.9,299.0 562.9,299.5 563.0,300.0 563.0,300.5 563.0,301.0 563.1,301.5 563.1,302.0 563.1,302.5 563.2,303.0 563.2,303.5 563.3,304.0 563.3,304.5 563.3,305.0 563.4,305.5 563.4,306.0 563.4,306.5 563.5,307.0 563.5,307.5 563.6,308.0 563.6,308.5 563.6,309.0 563.7,309.5 563.7,310.0 563.7,310.5 563.8,311.0 563.8,311.5 563.9,312.0 563.9,312.5 563.9,313.0 564.0,313.5 564.0,314.0 564.0,314.5 564.1,315.0 564.1,315.5 564.1,316.0 564.2,316.5 564.2,317.0 564.2,317.5 564.3,318.0 564.3,318.5 564.3,319.0 564.4,319.5 564.4,320.0 564.4,320.5 564.5,321.0 564.5,321.5 564.6,322.0 564.6,322.5 564.6,323.0 564.7,323.5 564.7,324.0 564.7,324.5 564.8,325.0 564.8,325.5 564.8,326.0 564.9,326.5 564.9,327.0 564.9,327.5 565.0,328.0 565.0,328.5 565.0,329.0 565.1,329.5 565.1,330.0 565.2,330.5 565.2,331.0 565.3,331.5 565.3,332.0 565.4,332.5 565.4,333.0 565.5,333.5 565.6,334.0 565.6,334.5 565.7,335.0 565.7,335.5 565.8,336.0 565.8,336.5 565.9,337.0 566.0,337.5 566.0,338.0 566.1,338.5 566.1,339.0 566.2,339.5 566.2,340.0 566.3,340.5 566.4,341.0 566.4,341.5 566.5,342.0 566.5,342.5 566.6,343.0 566.6,343.5 566.7,344.0 566.8,344.5 566.8,345.0 566.9,345.5 566.9,346.0 567.0,346.5 567.0,347.0 567.1,347.5 567.2,348.0 567.2,348.5 567.3,349.0 567.3,349.5 567.4,350.0 567.5,350.5 567.5,351.0 567.6,351.5 567.6,352.0 567.7,352.5 567.7,353.0 567.8,353.5 567.9,354.0 567.9,354.5 568.0,355.0 568.0,355.5 568.1,356.0 568.1,356.5 568.2,357.0 568.3,357.5 568.3,358.0 568.4,358.5 568.4,359.0 568.5,359.5 568.5,360.0 568.6,360.5 568.7,361.0 568.7,361.5 568.8,362.0 568.8,362.5 568.9,363.0 568.9,363.5 569.0,364.0 569.1,364.5 569.1,365.0 569.2,365.5 569.3,366.0 569.4,366.5 569.4,367.0 569.5,367.5 569.6,367.9 569.7,368.4 569.7,368.9 569.8,369.4 569.9,369.9 570.0,370.4 570.0,370.9 570.1,371.4 570.2,371.9 570.3,372.4 570.3,372.9 570.4,373.4 570.5,373.9 570.6,374.4 570.6,374.8 570.7,375.3 570.8,375.8 570.8,376.3 570.9,376.8 571.0,377.3 571.1,377.8 571.1,378.3 571.2,378.8 571.3,379.3 571.4,379.8 571.4,380.3 571.5,380.8 571.6,381.3 571.7,381.8 571.7,382.2 571.8,382.7 571.9,383.2 572.0,383.7 572.0,384.2 572.1,384.7 572.2,385.2 572.3,385.7 572.3,386.2 572.4,386.7 572.5,387.2 572.6,387.7 572.6,388.2 572.7,388.7 572.8,389.2 572.8,389.6 572.9,390.1 573.0,390.6 573.1,391.1 573.1,391.6 573.2,392.1 573.3,392.6 573.4,393.1 573.4,393.6 573.5,394.1 573.6,394.6 573.7,395.1 573.7,395.6 573.8,396.1 573.9,396.5 574.0,397.0 574.0,397.5 574.1,398.0 574.2,398.5 574.3,399.0 574.3,399.5 574.4,400.0 574.5,400.5 574.6,401.0 574.6,401.5 574.7,402.0 574.8,402.4 574.9,402.9 575.0,403.4 575.1,403.9 575.1,404.4 575.2,404.9 575.3,405.4 575.4,405.9 575.5,406.4 575.5,406.9 575.6,407.3 575.7,407.8 575.8,408.3 575.9,408.8 576.0,409.3 576.0,409.8 576.1,410.3 576.2,410.8 576.3,411.3 576.4,411.8 576.4,412.2 576.5,412.7 576.6,413.2 576.7,413.7 576.8,414.2 576.8,414.7 576.9,415.2 577.0,415.7 577.1,416.2 577.2,416.7 577.3,417.1 577.3,417.6 577.4,418.1 577.5,418.6 577.6,419.1 577.7,419.6 577.7,420.1 577.8,420.6 577.9,421.1 578.0,421.6 578.1,422.0 578.2,422.5 578.2,423.0 578.3,423.5 578.4,424.0 578.5,424.5 578.6,425.0 578.6,425.5 578.7,426.0 578.8,426.5 578.9,427.0 578.9,427.5 579.0,427.9 579.1,428.4 579.2,428.9 579.2,429.4 579.3,429.9 579.4,430.4 579.5,430.9 579.6,431.4 579.6,431.9 579.7,432.4 579.8,432.9 579.9,433.4 579.9,433.9 580.0,434.4 580.1,434.8 580.2,435.3 580.2,435.8 580.3,436.3 580.4,436.8 580.5,437.3 580.5,437.8 580.6,438.3 580.7,438.8 580.8,439.3 580.9,439.8 580.9,440.3 581.0,440.8 581.1,441.3 581.2,441.8 581.2,442.2 581.3,442.7 581.4,443.2 581.5,443.7 581.5,444.2 581.6,444.7 581.7,445.2 581.8,445.7 581.9,446.2 581.9,446.7 582.0,447.2 582.1,447.7 582.2,448.2 582.2,448.7 582.3,449.2 582.4,449.6 582.5,450.1 582.5,450.6 582.6,451.1 582.7,451.6 582.8,452.1 582.8,452.6 582.9,453.1 583.0,453.6 583.1,454.1 583.2,454.6 583.2,455.1 583.3,455.6 583.4,456.1 583.5,456.5 583.5,457.0 583.6,457.5 583.7,458.0 583.8,458.5 583.8,459.0 583.9,459.5 584.0,460.0 584.1,460.5 584.2,461.0 584.3,461.4 584.5,461.9 584.6,462.4 584.7,462.9 584.8,463.3 584.9,463.8 585.0,464.3 585.1,464.8 585.3,465.2 585.4,465.7 585.5,466.2 585.6,466.7 585.7,467.1 585.8,467.6 585.9,468.1 586.1,468.6 586.2,469.0 586.3,469.5 586.4,470.0 586.5,470.5 586.6,471.0 586.6,471.5 586.7,472.0 586.8,472.5 586.9,473.0 587.0,473.5 587.0,474.0 587.1,474.5 587.2,475.0 587.3,475.5 587.4,476.0 587.4,476.5 587.5,477.0 587.6,477.5 587.7,478.0 587.8,478.5 587.8,479.0 587.9,479.5 588.0,480.0 588.1,480.5 588.2,481.0 588.3,481.5 588.4,482.0 588.5,482.5 588.6,483.0 588.7,483.5 588.8,484.0 588.9,484.5 589.0,485.0 589.4,485.4 589.7,485.7 590.1,486.1 590.4,486.4 590.8,486.8 591.1,487.1 591.5,487.5 591.9,487.9 592.2,488.2 592.6,488.6 592.9,488.9 593.3,489.3 593.6,489.6 594.0,490.0 594.2,490.4 594.5,490.9 594.8,491.3 595.0,491.8 595.2,492.2 595.5,492.6 595.8,493.1 596.0,493.5 596.2,493.9 596.5,494.4 596.8,494.8 597.0,495.2 597.2,495.7 597.5,496.1 597.8,496.6 598.0,497.0 598.2,497.4 598.5,497.9 598.8,498.3 599.0,498.8 599.2,499.2 599.5,499.6 599.8,500.1 600.0,500.5 600.2,500.9 600.5,501.4 600.8,501.8 601.0,502.2 601.2,502.7 601.5,503.1 601.8,503.6 602.0,504.0 602.2,504.5 602.4,504.9 602.6,505.4 602.8,505.9 603.0,506.3 603.2,506.8 603.4,507.3 603.6,507.7 603.8,508.2 604.0,508.7 604.2,509.1 604.4,509.6 604.6,510.1 604.8,510.5 605.0,511.0 605.2,511.5 605.4,511.9 605.6,512.4 605.8,512.9 606.0,513.3 606.2,513.8 606.4,514.3 606.6,514.7 606.8,515.2 607.0,515.7 607.2,516.1 607.4,516.6 607.6,517.1 607.8,517.5 608.0,518.0 608.2,518.5 608.4,518.9 608.6,519.4 608.8,519.8 609.0,520.3 609.2,520.8 609.3,521.2 609.5,521.7 609.7,522.2 609.9,522.6 610.1,523.1 610.3,523.5 610.5,524.0 610.7,524.5 610.9,524.9 611.1,525.4 611.3,525.8 611.5,526.3 611.7,526.8 611.8,527.2 612.0,527.7 612.2,528.2 612.4,528.6 612.6,529.1 612.8,529.5 613.0,530.0 613.1,530.5 613.2,531.0 613.4,531.5 613.5,532.0 613.6,532.4 613.7,532.9 613.9,533.4 614.0,533.9 614.1,534.4 614.2,534.9 614.3,535.4 614.5,535.9 614.6,536.3 614.7,536.8 614.8,537.3 615.0,537.8 615.1,538.3 615.2,538.8 615.3,539.3 615.4,539.8 615.6,540.2 615.7,540.7 615.8,541.2 615.9,541.7 616.0,542.2 616.2,542.7 616.3,543.2 616.4,543.7 616.5,544.1 616.7,544.6 616.8,545.1 616.9,545.6 617.0,546.1 617.1,546.6 617.3,547.1 617.4,547.6 617.5,548.0 617.6,548.5 617.8,549.0 617.9,549.5 618.0,550.0 618.1,550.5 618.3,551.0 618.4,551.4 618.6,551.9 618.7,552.4 618.9,552.9 619.0,553.3 619.1,553.8 619.3,554.3 619.4,554.8 619.6,555.2 619.7,555.7 619.9,556.2 620.0,556.7 620.1,557.1 620.3,557.6 620.4,558.1 620.6,558.6 620.7,559.0 620.9,559.5 621.0,560.0 621.1,560.5 621.3,561.0 621.4,561.4 621.6,561.9 621.7,562.4 621.9,562.9 622.0,563.3 622.1,563.8 622.3,564.3 622.4,564.8 622.6,565.2 622.7,565.7 622.9,566.2 623.0,566.7 623.1,567.1 623.3,567.6 623.4,568.1 623.6,568.6 623.7,569.0 623.9,569.5 624.0,570.0 624.2,570.5 624.4,570.9 624.5,571.4 624.7,571.9 624.9,572.4 625.1,572.8 625.2,573.3 625.4,573.8 625.6,574.2 625.8,574.7 625.9,575.2 626.1,575.6 626.3,576.1 626.5,576.6 626.6,577.1 626.8,577.5 627.0,578.0 627.2,578.5 627.4,578.9 627.5,579.4 627.7,579.9 627.9,580.4 628.1,580.8 628.2,581.3 628.4,581.8 628.6,582.2 628.8,582.7 628.9,583.2 629.1,583.6 629.3,584.1 629.5,584.6 629.6,585.1 629.8,585.5 630.0,586.0 630.3,586.4 630.6,586.8 630.8,587.2 631.1,587.7 631.4,588.1 631.7,588.5 631.9,588.9 632.2,589.3 632.5,589.7 632.8,590.1 633.0,590.6 633.3,591.0 633.6,591.4 633.9,591.8 634.1,592.2 634.4,592.6 634.7,593.0 635.0,593.4 635.2,593.9 635.5,594.3 635.8,594.7 636.1,595.1 636.3,595.5 636.6,595.9 636.9,596.3 637.2,596.8 637.4,597.2 637.7,597.6 638.0,598.0 638.4,598.3 638.8,598.6 639.2,598.9 639.6,599.2 640.0,600.0 640.4,600.1 640.8,600.5 641.2,600.0 641.6,601.0 642.0,601.8 642.4,601.6 642.8,602.0 643.2,602.6 643.6,601.6 644.0,602.9 644.4,602.4 644.8,603.6 645.2,603.2 645.6,604.1 646.0,603.7 646.4,604.8 646.8,605.6 647.2,605.4 647.6,605.7 648.0,605.4 648.4,604.8 648.8,606.9 649.2,607.0 649.6,606.6 650.0,605.7 650.5,606.5 651.0,606.8 651.5,607.9 652.0,606.2 652.4,606.2 652.9,606.7 653.4,607.6 653.9,607.4 654.4,606.9 654.9,607.3 655.4,608.4 655.9,608.8 656.3,608.3 656.8,609.0 657.3,608.1 657.8,607.9 658.3,608.1 658.8,609.4 659.3,608.1 659.8,609.0 660.2,609.9 660.7,609.9 661.2,609.7 661.7,610.4 662.2,609.7 662.7,611.0 663.2,610.3 663.7,611.1 664.1,611.5 664.6,611.1 665.1,610.6 665.6,611.2 666.1,610.8 666.6,611.2 667.1,611.7 667.6,611.7 668.0,612.2 668.5,611.8 669.0,612.2 669.5,611.5 670.0,612.4 670.5,612.0 671.0,612.0 671.5,611.9 672.0,611.4 672.5,612.3 673.0,612.5 673.5,612.7 674.0,612.7 674.5,611.9 675.0,613.5 675.5,613.0 676.0,612.2 676.5,613.5 677.0,613.3 677.5,612.7 678.0,612.5 678.5,612.6 679.0,614.2 679.5,613.6 680.0,614.3 680.5,613.8 681.0,614.6 681.5,613.1 682.0,614.2 682.5,613.2 683.0,613.5 683.5,614.7 684.0,613.0 684.5,614.2 685.0,613.9 685.5,612.9 686.0,613.5 686.5,613.1 687.0,613.7 687.5,613.1 688.0,613.0 688.5,613.3 689.0,612.8 689.5,613.6 690.0,613.2 690.5,613.6 691.0,612.9 691.5,613.6 692.0,614.4 692.5,613.5 693.0,613.4 693.5,613.2 694.0,613.2 694.5,613.9 695.0,613.2 695.5,613.5 696.0,614.3 696.5,614.3 697.0,614.5 697.5,615.8 698.0,614.6 698.5,614.2 699.0,614.8 699.5,614.5 700.0,614.3 700.5,614.7 701.0,613.9 701.5,614.1 702.0,613.6 702.5,614.6 703.0,614.6 703.5,614.4 704.0,614.8 704.5,613.5 705.0,614.5 705.5,615.5 706.0,613.1 706.5,613.8 707.0,614.4 707.5,614.4 708.0,614.2 708.5,615.3 709.0,614.6 709.5,614.9 710.0,615.0 710.5,614.5 711.0,613.5 711.5,614.6 712.0,614.9 712.5,615.9 713.0,615.2 713.5,616.4 714.0,615.7 714.5,615.9 715.0,616.2 715.5,616.8 716.0,615.7 716.5,617.2 717.0,615.7 717.5,615.1 718.0,616.0 718.4,616.4 718.9,615.6 719.4,616.2 719.9,615.8 720.4,616.2 720.9,616.6 721.4,616.1 721.9,616.8 722.4,616.3 722.9,616.8 723.4,616.7 723.9,615.6 724.4,615.6 724.9,616.5 725.4,615.4 725.9,616.6 726.4,616.5 726.9,617.3 727.3,617.3 727.8,616.2 728.3,616.3 728.8,616.2 729.3,616.5 729.8,616.3 730.3,617.3 730.8,617.0 731.3,617.4 731.8,617.3 732.3,617.8 732.8,617.9 733.3,616.9 733.8,616.7 734.3,617.2 734.8,618.4 735.3,617.6 735.7,617.5 736.2,618.3 736.7,616.9 737.2,618.6 737.7,617.1 738.2,618.0 738.7,618.0 739.2,617.4 739.7,618.2 740.2,617.7 740.7,618.4 741.2,619.0 741.7,618.0 742.2,619.4 742.7,618.6 743.2,619.0 743.7,618.9 744.2,618.5 744.6,619.1 745.1,619.3 745.6,618.4 746.1,619.3 746.6,619.2 747.1,619.0 747.6,619.7 748.1,618.5 748.6,619.1 749.1,618.3 749.6,618.6 750.1,619.6 750.6,618.0 751.1,618.7 751.6,619.0 752.1,619.2 752.6,618.9 753.1,618.1 753.6,618.5 754.1,619.7 754.6,618.5 755.1,617.6 755.6,618.3 756.1,619.0 756.6,618.2 757.1,618.2 757.6,619.0 758.1,618.7 758.6,618.7 759.1,618.6 759.6,619.4 760.1,619.5 760.6,620.3 761.1,619.7 761.6,618.8 762.1,619.3 762.6,620.4 763.1,619.8 763.6,619.5 764.1,619.9 764.6,619.6 765.1,619.7 765.6,620.0 766.0,618.8 766.5,620.5 767.0,620.3 767.5,619.0 768.0,619.8 768.5,620.1 769.0,618.8 769.5,620.5 770.0,619.6 770.5,620.2 771.0,620.1 771.5,618.8 772.0,618.6 772.5,620.0 773.0,618.8 773.5,620.7 774.0,619.9 774.5,619.6 775.0,619.7 775.5,620.1 776.0,620.0 776.5,619.7 777.0,619.9 777.5,619.5 778.0,619.4 778.5,619.5 779.0,618.8 779.5,619.7 780.0,620.1 780.5,620.1 781.0,619.3 781.5,620.2 782.0,619.4 782.5,619.6 783.0,620.1 783.5,620.3 784.0,621.0 784.5,621.3 785.0,620.4 785.5,620.0 786.0,620.7 786.5,619.9 787.0,619.7 787.5,620.5 788.0,620.2 788.5,619.5 789.0,619.7 789.5,619.8 790.0,620.3 790.5,620.3 791.0,619.5 791.5,620.8 792.0,620.8 792.5,620.3 793.0,619.6 793.5,620.3 794.0,620.5 794.5,620.1 795.0,619.5 795.5,620.4 796.0,620.4 796.5,620.2 797.0,620.7 797.5,621.0 798.0,620.2 798.5,620.6 799.0,620.6 799.5,620.1 800.0,620.0 800.5,619.9 801.0,620.5 801.5,621.8 802.0,620.9 802.5,621.6 803.0,620.9 803.5,620.4 804.0,621.3 804.5,620.3 805.0,620.4 805.5,622.1 806.0,621.3 806.5,620.7 807.0,620.4 807.5,620.6 808.0,621.8 808.5,621.4 809.0,621.5 809.5,620.9 810.0,621.2 810.5,621.6 811.0,621.3 811.5,621.4 812.0,622.3 812.5,622.6 813.0,622.2 813.5,622.3 814.0,622.7 814.5,621.2 815.0,621.1 815.5,622.3 816.0,622.9 816.5,622.1 817.0,621.8 817.5,621.2 818.0,622.5 818.5,621.4 819.0,622.7 819.5,622.0 820.0,621.7 820.5,622.3 821.0,621.9 821.5,622.4 822.0,622.6 822.5,622.9 823.0,623.0 823.5,622.6 824.0,623.1 824.5,622.1 825.0,622.1 825.5,622.5 826.0,622.1 826.5,623.0 827.0,623.5 827.5,623.2 828.0,622.2 828.5,623.1 829.0,622.5 829.5,622.8 830.0,623.5 830.5,621.7 831.0,622.3 831.5,621.9 832.0,621.7 832.5,621.2 833.0,622.8 833.5,622.4 834.0,622.3 834.4,622.5 834.9,622.5 835.4,622.4 835.9,623.0 836.4,622.8 836.9,623.2 837.4,622.9 837.9,622.7 838.4,622.8 838.9,622.4 839.4,622.4 839.9,622.0 840.4,622.8 840.9,623.2 841.4,621.9 841.9,622.9 842.4,623.3 842.9,622.6 843.4,622.3 843.9,623.0 844.4,622.5 844.9,623.4 845.4,622.1 845.9,623.0 846.4,623.4 846.9,623.3 847.4,621.9 847.9,622.6 848.4,622.8 848.9,622.4 849.4,623.9 849.9,622.5 850.4,623.1 850.9,621.7 851.4,621.8 851.9,623.3 852.4,623.2 852.9,623.0 853.4,622.8 853.9,623.2 854.4,622.9 854.9,622.2 855.4,622.8 855.9,622.8 856.4,623.2 856.9,622.8 857.4,622.8 857.9,623.1 858.4,623.2 858.9,622.9 859.4,623.5 859.9,622.4 860.3,622.9 860.8,623.6 861.3,623.1 861.8,624.3 862.3,624.1 862.8,623.4 863.3,623.6 863.8,624.4 864.3,622.8 864.8,624.0 865.3,624.1 865.8,623.9 866.3,623.4 866.8,624.2 867.3,624.1 867.8,623.9 868.3,623.1 868.8,623.9 869.3,625.4 869.8,624.3 870.3,623.9 870.8,624.5 871.3,623.7 871.8,624.5 872.3,624.9 872.8,624.4 873.3,624.5 873.8,624.8 874.3,625.0 874.8,624.5 875.3,623.4 875.8,624.8 876.3,623.5 876.8,624.9 877.2,624.4 877.7,624.0 878.2,624.4 878.7,625.0 879.2,625.3 879.7,624.8 880.2,624.6 880.7,625.3 881.2,625.0 881.7,624.9 882.2,624.9 882.7,625.4 883.2,624.6 883.7,625.3 884.2,624.8 884.7,624.0 885.2,624.3 885.7,624.9 886.2,624.8 886.7,624.4 887.2,625.3 887.7,624.4 888.2,623.4 888.7,624.5 889.2,625.7 889.7,625.3 890.2,625.2 890.7,625.2 891.2,625.9 891.7,625.5 892.2,625.5 892.7,626.2 893.2,625.7 893.7,626.0 894.2,626.1 894.6,624.6 895.1,626.2 895.6,625.7 896.1,625.7 896.6,625.7 897.1,624.6 897.6,625.2 898.1,625.7 898.6,625.9 899.1,626.5 899.6,626.6 900.1,626.2 900.6,626.4 901.1,625.7 901.6,624.8 902.1,626.0 902.6,626.1 903.1,626.0 903.6,625.6 904.1,626.4 904.6,625.7 905.1,626.2 905.6,625.5 906.1,626.0 906.6,626.2 907.1,626.0 907.6,626.5 908.1,625.9 908.6,626.4 909.1,627.1 909.6,626.9 910.1,627.0 910.6,626.3 911.1,627.1 911.5,627.3 912.0,626.0 912.5,626.7 913.0,626.2 913.5,626.0 914.0,626.0 914.5,625.1 915.0,626.9 915.5,627.1 916.0,626.3 916.5,625.1 917.0,625.1 917.5,626.0 918.0,626.1 918.5,626.0 919.0,625.4 919.5,625.3 920.0,625.9 920.5,626.8 921.0,625.4 921.5,626.0 922.0,626.0 922.5,626.5 923.0,625.8 923.5,626.2 924.0,626.8 924.5,627.5 925.0,627.2 925.5,626.2 926.0,625.4 926.4,626.5 926.9,627.7 927.4,626.6 927.9,625.8 928.4,626.9 928.9,627.1 929.4,626.8 929.9,626.1 930.4,627.6 930.9,625.9 931.4,625.7 931.9,625.8 932.4,626.2 932.9,626.5 933.4,626.1 933.9,626.3 934.4,625.1 934.9,625.4 935.4,624.3 935.9,624.6 936.4,624.7 936.9,625.8 937.4,626.2 937.9,626.2 938.3,625.4 938.8,625.3 939.3,625.7 939.8,625.5 940.3,626.4 940.8,624.6 941.3,625.8 941.8,625.6 942.3,626.0 942.8,626.5 943.3,626.2 943.8,625.8 944.3,626.1 944.8,626.4 945.3,625.4 945.8,624.5 946.3,626.0 946.8,624.9 947.3,627.2 947.8,625.8 948.3,625.4 948.8,626.4 949.3,626.3 949.8,625.4 950.3,625.6 950.8,626.2 951.3,625.0 951.8,624.2 952.3,625.4 952.8,625.0 953.2,625.2 953.7,625.0 954.2,625.8 954.7,626.3 955.2,625.3 955.7,625.1 956.2,625.7 956.7,626.0 957.2,624.7 957.7,626.3 958.2,626.7 958.7,626.3 959.2,625.0 959.7,626.1 960.2,626.8 960.7,626.8 961.2,625.7 961.7,625.9 962.2,626.6 962.7,626.5 963.2,625.6 963.7,625.6 964.2,625.4 964.7,626.2 965.2,626.5 965.7,626.0 966.2,626.9 966.7,626.4 967.2,626.1 967.7,626.2 968.2,625.8 968.7,627.1 969.2,626.9 969.7,626.0 970.1,626.9 970.6,627.7 971.1,626.8 971.6,626.0 972.1,625.6 972.6,626.7 973.1,625.0 973.6,627.0 974.1,625.0 974.6,626.5 975.1,626.6 975.6,626.3 976.1,626.3 976.6,625.5 977.1,626.1 977.6,625.8 978.1,625.4 978.6,626.3 979.1,626.5 979.6,624.9 980.1,626.9 980.6,625.9 981.1,625.3 981.6,626.2 982.1,626.4 982.6,625.9 983.1,626.5 983.6,626.0 984.1,625.6 984.6,626.0 985.1,625.7 985.6,625.7 986.1,625.6 986.6,624.7 987.2,625.1 987.7,626.0 988.2,625.8 988.7,625.0 989.2,625.1 989.7,624.8 990.2,624.8 990.7,625.2 991.2,623.9 991.7,624.5 992.2,625.0 992.7,624.9 993.2,624.4 993.7,623.9 994.2,624.3 994.7,624.0 995.2,624.0 995.7,624.8 996.2,623.8 996.7,623.3 997.2,623.4 997.7,624.8 998.2,624.3 998.7,624.0 999.2,622.8 999.7,623.1 1000.2,622.5 1000.7,623.3 1001.2,623.0 1001.7,623.3 1002.2,623.5 1002.7,622.8 1003.2,622.6 1003.7,623.2 1004.2,623.5 1004.6,623.7 1005.1,622.6 1005.6,623.0 1006.1,623.4 1006.6,623.1 1007.1,624.6 1007.6,622.4 1008.1,623.8 1008.6,623.6 1009.1,623.6 1009.6,624.2 1010.1,623.1 1010.6,623.9 1011.1,622.9 1011.6,623.1 1012.1,623.6 1012.6,623.4 1013.1,623.1 1013.6,624.7 1014.1,624.9 1014.6,624.8 1015.1,624.3 1015.6,624.3 1016.1,623.5 1016.6,624.9 1017.1,624.4 1017.6,624.4 1018.1,624.3 1018.6,624.0 1019.1,622.8 1019.6,622.4 1020.1,623.6 1020.6,624.2 1021.1,623.1 1021.5,622.5 1022.0,624.3 1022.5,623.0 1023.0,624.3 1023.5,623.4 1024.0,622.9 1024.5,623.3 1025.0,622.7 1025.5,622.4 1026.0,623.0 1026.5,623.3 1027.0,623.7 1027.5,623.7 1028.0,623.7 1028.5,623.9 1029.0,621.8 1029.5,623.9 1030.0,622.3 1030.5,623.4 1031.0,622.6 1031.5,623.3 1032.0,622.9 1032.5,622.9 1033.0,622.7 1033.5,623.0 1034.0,623.1 1034.5,622.8 1035.0,622.1 1035.5,623.3 1036.0,622.9 1036.5,623.1 1037.0,621.3 1037.5,623.0 1038.0,621.8 1038.5,622.4 1039.0,621.9 1039.5,622.3 1040.0,622.5 1040.5,621.2 1041.0,621.8 1041.4,621.9 1041.9,620.9 1042.4,622.3 1042.9,620.7 1043.4,621.1 1043.9,620.3 1044.3,619.5 1044.8,620.5 1045.3,620.2 1045.8,619.0 1046.3,620.3 1046.7,619.9 1047.2,620.0 1047.7,619.5 1048.2,619.4 1048.7,619.2 1049.2,618.3 1049.6,619.2 1050.1,618.5 1050.6,618.3 1051.1,618.7 1051.6,619.6 1052.1,619.6 1052.6,618.5 1053.1,620.3 1053.6,619.8 1054.1,619.6 1054.6,620.6 1055.1,620.2 1055.6,619.5 1056.1,619.1 1056.6,620.4 1057.1,621.5 1057.5,620.0 1058.0,621.3 1058.5,620.2 1059.0,620.0 1059.5,619.8 1060.0,620.3 1060.5,620.4 1061.0,620.3 1061.5,621.0 1062.0,620.1 1062.5,619.6 1063.0,621.5 1063.5,621.4 1064.0,621.8 1064.5,621.0 1065.0,621.2 1065.5,622.5 1066.0,621.7 1066.5,622.8 1067.0,621.2 1067.5,621.7 1068.0,622.4 1068.5,622.5 1069.0,622.7 1069.5,622.0 1070.0,622.2 1070.5,622.0 1071.0,621.3 1071.5,622.6 1072.0,621.7 1072.5,621.8 1073.0,623.0 1073.5,621.4 1074.0,622.4 1074.5,622.1 1075.0,622.8 1075.5,621.4 1076.0,622.6 1076.5,622.8 1077.0,623.8 1077.5,622.3 1078.0,623.7 1078.5,624.3 1079.0,622.1 1079.5,622.5 1080.0,623.8 1080.5,623.7 1081.0,624.4 1081.5,623.6 1082.0,624.1 1082.5,623.1 1083.0,623.2 1083.5,623.6 1084.0,624.8 1084.5,623.3 1085.0,623.3 1085.5,623.2 1086.0,623.9 1086.5,622.5 1087.0,622.5 1087.5,622.6 1088.0,622.0 1088.5,623.1 1089.0,622.8 1089.5,621.9 1090.1,622.5 1090.6,622.9 1091.1,623.2 1091.6,622.8 1092.1,624.2 1092.6,623.0 1093.1,623.9 1093.6,622.5 1094.1,624.5 1094.6,623.3 1095.1,624.5 1095.6,624.3 1096.1,623.9 1096.6,623.9 1097.1,624.7 1097.6,624.2 1098.1,624.4 1098.6,624.2 1099.1,623.7 1099.6,625.0 1100.1,625.1 1100.6,624.6 1101.1,625.4 1101.6,625.0 1102.1,624.8 1102.6,624.8 1103.1,624.2 1103.6,624.8 1104.1,624.6 1104.6,625.6 1105.1,624.6 1105.6,624.5 1106.1,624.3 1106.6,624.6 1107.2,624.4 1107.7,625.2 1108.2,625.9 1108.7,624.0 1109.2,624.0 1109.7,624.6 1110.2,625.2 1110.7,624.8 1111.2,624.4 1111.7,624.7 1112.2,624.0 1112.7,624.8 1113.2,624.5 1113.7,625.6 1114.2,625.7 1114.7,626.0 1115.2,626.1 1115.7,626.0 1116.2,625.2 1116.7,625.1 1117.2,626.4 1117.7,626.9 1118.1,626.9 1118.6,626.4 1119.1,627.0 1119.6,626.7 1120.1,626.1 1120.6,626.2 1121.1,626.0 1121.6,626.9 1122.1,626.5 1122.5,626.5 1123.0,625.9 1123.5,627.5 1124.0,627.7 1124.5,627.5 1125.0,627.1 1125.5,627.1 1126.0,626.5 1126.4,627.4 1126.9,627.6 1127.4,628.4 1127.9,627.4 1128.4,627.2 1128.9,628.1 1129.4,627.5 1129.9,628.4 1130.4,627.6 1130.8,627.1 1131.3,628.6 1131.8,627.8 1132.3,627.8 1132.8,628.7 1133.3,628.1 1133.8,628.3 1134.3,629.3 1134.8,628.5 1135.3,628.4 1135.7,629.1 1136.2,628.8 1136.7,629.0 1137.2,629.1 1137.7,630.1 1138.2,629.4 1138.7,629.2 1139.2,628.8 1139.7,629.0 1140.2,630.3 1140.7,629.7 1141.2,628.9 1141.6,628.5 1142.1,630.2 1142.6,630.1 1143.1,629.3 1143.6,629.9 1144.1,629.9 1144.6,630.2 1145.1,628.9 1145.6,629.5 1146.1,630.0 1146.6,629.1 1147.1,628.8 1147.5,628.8 1148.0,629.3 1148.5,630.1 1149.0,629.1 1149.5,629.1 1150.0,629.7 1150.5,629.2 1151.0,629.0 1151.5,629.5 1152.0,629.9 1152.5,629.8 1153.0,629.3 1153.5,629.3 1154.0,630.4 1154.5,630.8 1155.0,629.9 1155.5,629.3 1156.0,630.0 1156.5,630.3 1157.0,630.6 1157.5,630.1 1158.0,629.9 1158.5,630.5 1159.0,630.4 1159.5,630.0 1160.0,631.1 1160.5,629.8 1161.0,630.0 1161.5,630.3 1162.0,630.9 1162.5,629.9 1163.0,631.1 1163.5,629.8 1164.0,630.0 1164.5,630.5 1165.0,630.7 1165.5,630.1 1166.0,630.2 1166.5,631.2 1167.0,630.6 1167.5,630.3 1168.0,629.4 1168.5,630.2 1169.0,629.5 1169.5,630.4 1170.0,630.3 1170.5,630.3 1171.0,631.1 1171.5,630.5 1172.0,630.6 1172.5,629.3 1173.0,630.4 1173.5,630.0 1174.0,629.5 1174.5,630.3 1175.0,631.2 1175.5,630.5 1176.0,629.9 1176.5,630.3 1177.0,629.3 1177.5,630.0 1178.0,631.1 1178.5,630.9 1179.0,629.7 1179.5,630.1 1180.0,631.5 1180.5,631.6 1181.0,630.8 1181.5,630.8 1182.0,630.8 1182.5,631.1 1183.0,629.5 1183.5,631.1 1184.0,629.6 1184.5,630.5 1185.0,630.4 1185.5,630.8 1186.0,630.6 1186.5,630.4 1187.0,631.2 1187.5,631.2 1188.0,631.2 1188.5,631.4 1189.0,631.2 1189.5,630.8 1190.0,630.5 1190.5,631.7 1191.0,632.1 1191.5,632.1 1192.0,630.2 1192.5,630.8 1193.0,631.0 1193.5,630.4 1194.0,631.9 1194.5,631.0 1195.0,631.1 1195.5,631.7 1196.0,630.9 1196.5,631.3 1197.0,631.1 1197.5,630.8 1198.0,630.9 1198.5,629.9 1199.0,631.0 1199.5,631.3 1200.0,631.4 1200.5,631.0 1201.0,631.3 1201.5,631.1 1202.0,630.9 1202.5,630.0 1203.0,630.3 1203.5,631.3 1204.0,631.0 1204.5,630.7 1205.0,631.4 1205.5,630.4 1206.0,631.5 1206.5,630.8 1207.0,630.9 1207.5,630.2 1208.0,629.8 1208.5,630.6 1209.0,629.9 1209.5,630.7 1210.0,628.9 1210.5,629.8 1211.0,630.8 1211.5,630.0 1212.0,629.9 1212.5,629.4 1213.0,630.1 1213.5,631.0 1214.0,630.1 1214.5,631.6 1215.0,629.8 1215.5,630.5 1216.0,630.8 1216.5,631.0 1217.0,629.5 1217.5,630.6 1218.0,629.5 1218.5,630.1 1219.0,630.1 1219.5,630.2 1220.0,629.7 1220.5,630.4 1221.0,630.5 1221.5,629.2 1222.0,630.2 1222.5,630.2 1223.0,631.2 1223.5,630.8 1224.0,630.3 1224.5,630.0 1225.0,631.6 1225.5,631.0 1226.0,631.4 1226.5,631.5 1227.0,631.9 1227.5,630.4 1228.0,631.7 1228.5,630.5 1229.0,631.2 1229.5,631.0 1230.0,630.0 1230.5,631.1 1231.0,631.4 1231.5,631.2 1232.0,632.3 1232.5,631.5 1233.0,631.3 1233.5,631.6 1234.0,631.1 1234.5,631.0 1235.0,631.2 1235.5,630.7 1236.0,630.5 1236.5,631.0 1237.0,630.6 1237.5,630.1 1238.0,631.0 1238.5,631.4 1239.0,630.0 1239.5,630.7 1240.0,630.0 1240.5,630.4 1241.0,629.7 1241.5,629.5 1242.0,630.9 1242.5,631.1 1243.0,631.1 1243.5,630.2 1244.0,630.5 1244.5,630.9 1245.0,630.1 1245.5,630.7 1246.0,631.2 1246.5,630.0 1247.0,630.6 1247.5,630.5 1248.0,631.6 1248.5,630.9 1249.0,631.4 1249.5,631.1 1250.0,631.1 1250.5,631.7 1251.0,632.1 1251.5,631.6 1252.0,632.1 1252.5,630.6 1253.0,631.7 1253.5,632.5 1254.0,631.8 1254.5,631.5 1255.0,632.6 1255.5,631.0 1256.0,631.8 1256.5,631.8 1257.0,631.4 1257.5,631.5 1258.0,631.8 1258.5,630.3 1259.0,630.4 1259.5,630.8 1260.0,631.2 1260.5,630.8 1261.0,630.3 1261.5,630.1 1262.0,630.5 1262.5,630.2 1263.0,630.9 1263.5,631.2 1264.0,630.3 1264.5,631.3 1265.0,630.6 1265.5,630.7 1266.0,631.2 1266.5,630.9 1267.0,631.1 1267.5,630.0 1268.0,631.4 1268.5,630.9 1269.0,630.9 1269.5,631.2 1270.0,630.9 1270.5,631.1 1271.0,630.1 1271.5,632.1 1272.0,630.3 1272.5,632.3 1273.0,631.9 1273.5,631.5 1274.0,631.5 1274.5,630.5 1275.0,631.3 1275.5,631.7 1276.0,632.6 1276.5,631.4 1277.0,631.0 1277.5,631.9 1278.0,631.7 1278.5,631.2 1279.0,631.9 1279.5,632.6 1280.0,632.6 1280.5,631.9 1281.0,632.2 1281.5,632.1 1282.0,632.1 1282.5,632.7 1283.0,632.9 1283.5,632.0 1284.0,633.0 1284.5,631.2 1285.0,632.5 1285.5,630.9 1286.0,632.0 1286.5,632.1 1287.0,631.4 1287.5,630.8 1288.0,630.5 1288.5,631.2 1289.0,631.3 1289.5,631.1 1290.0,630.5 1290.5,631.7 1291.0,631.5 1291.5,631.4 1292.0,631.4 1292.5,631.5 1293.0,631.3 1293.5,631.4 1294.0,630.9 1294.5,631.9 1295.0,631.4 1295.5,632.1 1296.0,631.6 1296.5,631.8 1297.0,630.8 1297.5,631.8 1298.0,632.6 1298.5,631.6 1299.0,632.6 1299.5,631.6 1300.0,632.6 1300.5,631.7 1301.0,632.0 1301.5,631.2 1302.0,630.7 1302.5,631.8 1303.0,631.1 1303.5,632.2 1304.0,631.6 1304.5,632.2 1305.0,632.1 1305.5,632.5 1306.0,631.2 1306.5,632.2 1307.0,631.3 1307.5,631.8 1308.0,631.7 1308.5,630.3 1309.0,631.8 1309.5,631.7 1310.0,631.1 1310.5,632.5 1311.0,631.2 1311.5,631.7 1312.0,630.9 1312.5,631.4 1313.0,631.6 1313.5,631.2 1314.0,631.5 1314.5,631.1 1315.0,630.5 1315.5,631.9 1316.0,631.9 1316.5,632.6 1317.0,631.5 1317.5,631.1 1318.0,631.4 1318.5,631.1 1319.0,632.2 1319.5,631.8 1320.0,631.6 1320.5,632.2 1321.0,631.0 1321.5,631.2 1322.0,631.7 1322.5,631.5 1323.0,632.3 1323.5,632.2 1324.0,632.4 1324.5,632.2 1325.0,632.0 1325.5,632.5 1326.0,631.9 1326.5,630.9 1327.0,632.3 1327.5,632.7 1328.0,632.2 1328.5,631.6 1329.0,632.4 1329.5,631.6 1330.0,630.9 1330.5,631.2 1331.0,631.1 1331.5,629.9 1332.0,631.3 1332.5,630.9 1333.0,630.1 1333.5,631.3 1334.0,630.5 1334.5,631.7 1335.0,630.3 1335.5,631.6 1336.0,631.9 1336.5,630.4 1337.0,631.2 1337.5,630.9 1338.0,631.1 1338.5,631.0 1339.0,632.0 1339.5,632.1 1340.0,631.3 1340.5,631.9 1341.0,631.3 1341.5,631.5 1342.0,631.1 1342.5,630.9 1343.0,632.0 1343.5,632.1 1344.0,632.3 1344.5,631.8 1345.0,631.9 1345.5,631.8 1346.0,631.7 1346.5,631.7 1347.0,632.8 1347.5,632.5 1348.0,632.4 1348.5,631.7 1349.0,633.0 1349.5,632.2 1350.0,632.2 1350.5,631.8 1351.0,632.0 1351.5,631.9 1352.0,631.6 1352.5,631.5 1353.0,632.9 1353.5,632.4 1354.0,631.5 1354.5,632.8 1355.0,632.3 1355.5,632.7 1356.0,632.3 1356.5,632.8 1357.0,632.5 1357.5,632.4 1358.0,631.7 1358.5,632.2 1359.0,633.0 1359.5,632.0 1360.0,632.1 1360.5,631.3 1361.0,631.5 1361.5,631.9 1362.0,630.9 1362.5,631.8 1363.0,632.0 1363.5,630.8 1364.0,631.6 1364.5,630.9 1365.0,631.6 1365.5,631.7 1366.0,631.5 1366.5,632.0 1367.0,631.8 1367.5,632.4 1368.0,632.2 1368.5,632.0 1369.0,631.6 1369.5,633.3 1370.0,632.3 1370.5,632.4 1371.0,632.1 1371.5,631.6 1372.0,631.8 1372.5,631.4 1373.0,631.3 1373.5,631.2 1374.0,631.4 1374.5,631.9 1375.0,630.4 1375.5,630.7 1376.0,630.5 1376.5,630.4 1377.0,630.9 1377.5,631.8 1378.0,631.4 1378.5,632.2 1379.0,630.9 1379.5,630.7 1380.0,630.8 1380.5,631.3 1381.0,631.9 1381.5,632.3 1382.0,631.6 1382.5,631.3 1383.0,631.1 1383.5,630.5 1384.0,631.6 1384.5,632.1 1385.0,630.3 1385.5,631.5 1386.0,630.9 1386.5,630.9 1387.0,630.8 1387.5,630.4 1388.0,631.9 1388.5,630.6 1389.0,630.7 1389.5,630.3 1390.0,631.8 1390.5,631.1 1391.0,631.2 1391.5,630.8 1392.0,630.3 1392.5,631.0 1393.0,630.7 1393.5,631.3 1394.0,630.6"/>
<polyline stroke="#0000ff" points="125.5,615.5 125.8,618.2 126.1,616.8 126.4,616.7 126.7,617.2 127.0,619.4 127.3,618.5 127.6,616.3 127.9,618.8 128.2,618.5 128.5,619.2 128.8,617.8 129.1,620.6 129.4,619.3 129.7,616.0 130.0,615.7 130.3,615.4 130.6,619.2 130.9,616.7 131.2,617.3 131.5,617.6 131.8,620.2 132.1,622.0 132.4,616.7 132.7,621.0 133.0,617.6 133.3,618.8 133.6,615.3 133.9,613.0 134.2,616.6 134.5,618.2 134.8,612.0 135.1,615.2 135.4,615.8 135.7,616.7 136.0,613.2 136.3,614.5 136.6,617.8 136.9,619.9 137.2,616.4 137.5,618.4 137.8,616.9 138.1,617.6 138.4,615.9 138.7,616.3 139.0,615.6 139.3,617.1 139.6,619.2 139.9,617.3 140.2,618.2 140.5,615.3 140.8,618.2 141.1,611.0 141.4,613.4 141.7,615.6 142.0,612.3 142.3,617.4 142.6,616.5 142.9,614.0 143.2,616.1 143.5,612.6 143.8,613.8 144.1,614.9 144.4,612.3 144.7,618.0 145.0,614.3 145.3,618.0 145.6,615.5 145.9,616.5 146.2,614.0 146.5,615.4 146.8,615.2 147.1,616.8 147.4,619.5 147.7,615.5 148.0,616.6 148.3,618.0 148.6,619.4 148.9,617.6 149.2,617.3 149.5,617.2 149.8,618.9 150.1,619.7 150.4,618.0 150.7,619.1 151.0,621.7 151.3,620.1 151.6,619.1 151.9,622.0 152.2,622.0 152.5,621.7 152.8,621.8 153.1,619.4 153.4,620.5 153.7,620.5 154.0,619.9 154.3,615.6 154.6,619.0 154.9,619.5 155.2,619.5 155.5,617.5 155.8,617.9 156.1,613.6 156.4,614.1 156.7,611.5 157.0,616.4 157.3,620.4 157.6,620.6 157.9,614.4 158.2,618.4 158.5,619.8 158.8,616.6 159.1,613.2 159.4,620.8 159.7,617.2 160.0,617.4 160.3,622.2 160.6,619.7 160.9,620.8 161.2,622.5 161.5,618.9 161.8,617.3 162.1,621.1 162.4,619.4 162.8,621.0 163.1,620.3 163.4,617.7 163.7,619.3 164.0,618.4 164.3,618.5 164.6,618.9 164.9,619.6 165.2,619.2 165.5,616.0 165.8,620.0 166.1,615.6 166.4,623.5 166.7,617.1 167.0,618.6 167.3,621.7 167.6,618.5 167.9,616.3 168.2,616.0 168.5,619.8 168.8,620.2 169.1,621.2 169.4,620.0 169.7,618.5 170.0,620.7 170.3,622.8 170.6,618.1 170.9,625.4 171.2,619.1 171.5,622.7 171.8,624.2 172.1,622.2 172.4,620.9 172.7,621.8 173.0,623.2 173.3,614.6 173.6,621.3 173.9,619.4 174.2,618.7 174.5,620.4 174.8,620.4 175.1,621.0 175.4,618.5 175.7,622.0 176.0,614.9 176.3,617.2 176.6,616.4 176.9,619.1 177.2,617.6 177.5,619.7 177.8,616.7 178.1,621.0 178.4,619.8 178.7,617.0 179.0,614.4 179.3,615.4 179.6,614.6 179.9,620.6 180.2,619.5 180.5,615.2 180.8,622.0 181.1,617.3 181.4,613.1 181.7,620.3 182.0,620.8 182.3,618.1 182.6,616.1 182.9,620.7 183.2,617.0 183.5,618.0 183.8,619.0 184.1,618.5 184.4,616.7 184.7,615.3 185.0,619.0 185.3,612.4 185.6,617.6 185.9,617.3 186.2,617.5 186.5,615.3 186.8,616.3 187.1,617.3 187.4,613.1 187.7,615.3 188.0,615.8 188.3,612.2 188.6,612.8 188.9,618.2 189.2,617.1 189.5,613.3 189.8,616.6 190.1,616.0 190.4,618.3 190.7,617.9 191.0,610.4 191.3,615.2 191.6,619.0 191.9,619.7 192.2,615.0 192.5,613.9 192.8,617.3 193.1,615.5 193.4,617.0 193.7,614.6 194.0,618.9 194.3,618.6 194.6,618.5 194.9,615.3 195.2,614.1 195.5,615.1 195.8,619.1 196.1,614.2 196.4,619.6 196.7,622.2 197.0,617.1 197.3,618.2 197.6,620.8 197.9,620.8 198.2,617.6 198.5,618.6 198.8,619.3 199.1,618.5 199.4,620.3 199.7,619.8 200.0,621.9 200.3,615.3 200.6,621.5 200.9,620.7 201.2,618.6 201.5,619.8 201.8,621.0 202.1,619.5 202.4,618.3 202.7,619.4 203.0,617.3 203.3,616.0 203.6,616.9 203.9,617.1 204.2,619.1 204.5,620.3 204.8,619.1 205.1,621.6 205.4,618.2 205.7,617.0 206.0,616.7 206.3,616.3 206.6,617.5 206.9,621.0 207.2,614.9 207.5,619.2 207.8,617.9 208.1,619.7 208.4,616.9 208.7,619.5 209.0,616.8 209.3,619.2 209.6,613.7 209.9,618.9 210.2,619.5 210.5,614.5 210.8,619.7 211.1,615.5 211.4,620.1 211.7,618.0 212.0,619.5 212.3,618.9 212.6,615.6 212.9,621.6 213.2,621.0 213.5,616.2 213.8,619.7 214.1,619.6 214.4,617.2 214.7,616.6 215.0,621.6 215.3,618.1 215.6,620.9 215.9,623.1 216.2,620.1 216.5,617.1 216.8,621.1 217.1,616.0 217.4,617.0 217.7,624.3 218.0,617.1 218.3,619.5 218.6,616.3 218.9,618.2 219.2,618.8 219.5,612.5 219.8,616.7 220.1,619.4 220.4,619.7 220.7,618.4 221.0,615.5 221.3,618.2 221.6,616.2 221.9,615.5 222.2,617.1 222.5,622.0 222.8,615.1 223.1,619.3 223.4,617.7 223.7,614.0 224.0,615.2 224.3,616.9 224.6,616.4 224.9,618.0 225.2,615.4 225.5,615.4 225.8,619.8 226.1,617.6 226.4,615.9 226.7,617.8 227.0,621.8 227.3,616.6 227.6,614.7 227.9,620.0 228.2,622.3 228.5,620.9 228.8,615.4 229.1,613.9 229.4,621.2 229.7,618.3 230.0,619.9 230.3,618.5 230.6,622.6 230.9,619.3 231.2,618.5 231.5,619.5 231.8,616.6 232.1,619.6 232.4,619.0 232.7,614.5 233.0,616.5 233.3,616.2 233.6,615.4 233.9,619.4 234.2,620.9 234.5,619.0 234.8,615.0 235.1,614.2 235.4,619.6 235.7,617.1 236.0,617.4 236.3,614.7 236.6,613.0 236.9,622.0 237.2,615.8 237.5,616.5 237.8,614.4 238.1,620.0 238.4,615.9 238.7,616.3 239.0,616.7 239.3,616.6 239.6,619.8 239.9,612.9 240.2,618.3 240.5,615.7 240.8,616.4 241.1,616.1 241.4,618.5 241.7,615.0 242.0,616.8 242.3,619.3 242.6,617.1 242.9,617.4 243.2,619.4 243.5,618.9 243.8,618.1 244.1,619.0 244.4,617.0 244.7,620.8 245.0,616.7 245.3,615.6 245.6,619.9 245.9,616.2 246.2,617.0 246.5,618.6 246.8,620.5 247.1,618.0 247.4,618.0 247.7,618.0 248.0,619.7 248.3,617.7 248.6,619.2 248.9,621.5 249.2,618.0 249.5,617.6 249.8,616.3 250.1,616.6 250.4,615.5 250.7,615.7 251.0,616.7 251.3,618.6 251.6,618.9 251.9,616.9 252.2,618.4 252.5,614.9 252.8,622.1 253.1,623.0 253.4,617.4 253.7,618.8 254.0,617.9 254.3,619.3 254.6,616.3 254.9,614.4 255.1,619.4 255.4,615.4 255.7,618.5 256.0,615.8 256.3,616.1 256.6,619.9 256.9,621.3 257.2,617.5 257.5,617.0 257.8,618.5 258.1,616.7 258.4,614.2 258.7,617.8 259.0,613.1 259.3,618.8 259.6,616.8 259.9,618.3 260.2,614.7 260.5,616.3 260.8,619.1 261.1,620.8 261.4,619.7 261.7,618.8 262.0,615.6 262.3,619.3 262.6,618.4 262.9,617.6 263.2,621.1 263.5,616.7 263.8,622.2 264.1,617.0 264.4,617.0 264.7,618.2 265.0,615.6 265.3,617.4 265.6,618.5 265.9,614.7 266.2,616.5 266.5,615.3 266.8,617.3 267.1,620.6 267.4,617.2 267.7,617.7 268.0,618.6 268.3,615.7 268.6,618.5 268.9,616.9 269.2,616.5 269.5,614.2 269.8,616.4 270.1,619.9 270.4,620.2 270.7,616.8 271.0,617.5 271.3,616.3 271.6,614.7 271.9,613.0 272.2,620.4 272.5,614.5 272.8,616.9 273.1,619.7 273.4,615.5 273.7,615.9 274.0,616.7 274.3,615.4 274.6,616.8 274.9,615.6 275.2,618.9 275.5,617.7 275.8,614.3 276.1,614.2 276.4,615.9 276.7,616.3 277.0,616.3 277.3,620.2 277.6,617.0 277.9,617.9 278.2,619.4 278.5,615.0 278.8,620.4 279.1,620.9 279.4,622.6 279.7,617.5 280.0,618.6 280.3,619.9 280.6,618.5 280.9,616.0 281.2,620.7 281.5,617.9 281.8,618.9 282.1,615.6 282.4,619.6 282.7,616.5 283.0,615.4 283.3,618.4 283.6,618.9 283.9,614.3 284.2,618.3 284.5,619.6 284.8,616.6 285.1,613.0 285.4,617.4 285.7,618.5 286.0,614.1 286.3,620.0 286.6,616.1 286.9,616.4 287.2,619.1 287.5,617.3 287.8,619.6 288.1,616.9 288.4,617.8 288.7,617.0 289.0,617.5 289.3,618.2 289.6,617.9 289.9,616.2 290.2,618.9 290.5,616.8 290.8,619.6 291.1,618.4 291.4,617.0 291.7,615.7 292.0,617.5 292.3,620.6 292.6,618.2 292.9,620.1 293.2,618.1 293.5,617.8 293.8,617.2 294.1,614.7 294.4,619.7 294.7,619.3 295.0,619.3 295.3,621.2 295.6,617.5 295.9,623.3 296.2,616.5 296.5,620.2 296.8,617.1 297.1,619.0 297.4,621.9 297.7,616.1 298.0,619.6 298.3,619.3 298.6,619.3 298.9,619.4 299.2,620.5 299.5,619.8 299.8,619.5 300.1,620.5 300.4,620.1 300.7,618.4 301.0,616.1 301.3,620.6 301.6,618.3 301.9,622.7 302.2,618.1 302.5,616.9 302.8,622.1 303.1,618.2 303.4,616.8 303.7,622.7 304.0,617.1 304.3,623.1 304.6,618.3 304.9,621.3 305.2,620.9 305.5,616.4 305.8,620.2 306.1,619.3 306.4,620.3 306.7,621.1 307.0,623.2 307.3,619.2 307.6,619.4 307.9,624.1 308.2,621.0 308.5,621.0 308.8,616.0 309.1,616.3 309.4,618.1 309.7,619.0 310.0,620.5 310.3,625.1 310.6,616.9 310.9,618.7 311.2,621.0 311.5,620.3 311.8,622.2 312.1,619.2 312.4,617.9 312.7,624.3 313.0,620.8 313.3,617.2 313.6,619.0 313.9,619.6 314.2,616.4 314.5,621.2 314.8,619.8 315.1,618.6 315.4,617.9 315.7,622.7 316.0,618.9 316.3,617.2 316.6,614.4 316.9,616.3 317.2,620.0 317.5,621.5 317.8,615.7 318.1,613.6 318.4,618.0 318.7,617.6 319.0,619.5 319.3,616.0 319.6,617.7 319.9,613.4 320.2,614.7 320.5,616.2 320.8,616.4 321.1,618.6 321.4,620.1 321.7,614.5 322.0,621.2 322.3,616.0 322.6,616.7 322.9,620.1 323.2,612.5 323.5,614.5 323.8,615.8 324.1,617.7 324.4,619.7 324.7,619.6 325.0,615.2 325.3,618.7 325.6,616.1 325.9,620.1 326.2,616.3 326.5,619.1 326.8,614.6 327.1,618.5 327.4,614.0 327.7,617.2 328.0,613.6 328.3,616.9 328.6,615.6 328.9,615.4 329.2,618.1 329.5,619.4 329.8,618.1 330.1,618.7 330.4,619.7 330.7,620.9 331.0,620.6 331.3,619.3 331.6,622.9 331.9,617.6 332.2,620.4 332.5,616.3 332.8,624.0 333.1,618.3 333.4,619.1 333.7,621.7 334.0,618.3 334.3,616.8 334.6,614.5 334.9,617.7 335.2,622.5 335.5,618.2 335.8,621.4 336.1,619.2 336.4,616.2 336.7,613.9 337.0,616.4 337.3,618.0 337.6,616.1 337.9,616.9 338.2,617.7 338.5,615.8 338.8,613.5 339.1,616.0 339.4,618.2 339.7,615.4 340.0,615.1 340.3,615.4 340.6,617.3 340.9,617.8 341.2,618.2 341.5,615.8 341.8,618.8 342.1,617.5 342.4,617.0 342.7,615.2 343.0,616.9 343.3,618.0 343.6,619.7 343.9,620.4 344.2,619.6 344.5,620.0 344.8,617.1 345.1,621.3 345.4,621.2 345.7,620.9 346.0,618.3 346.3,619.0 346.6,618.1 346.9,616.1 347.2,618.0 347.5,615.1 347.8,614.4 348.1,619.1 348.4,618.8 348.7,619.0 349.0,616.0 349.3,616.6 349.6,617.3 349.9,615.0 350.2,611.0 350.5,619.9 350.8,617.4 351.1,617.1 351.4,614.4 351.7,612.3 352.0,613.9 352.3,614.3 352.6,610.6 352.9,612.5 353.2,614.7 353.5,616.7 353.8,614.8 354.1,612.7 354.4,610.9 354.7,618.1 355.0,614.1 355.3,615.7 355.6,614.3 355.9,611.6 356.2,619.3 356.5,616.3 356.8,617.8 357.1,613.7 357.4,615.5 357.7,618.7 358.0,615.2 358.3,614.5 358.6,613.7 358.9,613.3 359.2,618.1 359.5,616.2 359.8,612.4 360.1,619.6 360.4,619.0 360.7,618.7 361.0,612.2 361.3,616.3 361.6,618.8 361.9,613.7 362.2,614.1 362.5,615.2 362.8,611.3 363.1,616.1 363.4,617.6 363.7,616.8 364.0,618.5 364.3,615.4 364.6,615.0 364.9,614.5 365.2,613.2 365.5,612.3 365.8,612.8 366.1,614.1 366.4,613.0 366.7,614.2 367.0,614.1 367.3,615.2 367.6,612.7 367.9,609.3 368.2,611.6 368.5,617.9 368.8,615.4 369.1,612.9 369.4,613.5 369.7,613.8 370.0,613.1 370.3,614.6 370.6,615.8 370.9,617.1 371.2,613.8 371.5,614.1 371.8,614.1 372.1,614.9 372.4,617.2 372.7,613.3 373.0,619.7 373.3,616.1 373.6,617.2 373.9,612.8 374.2,613.8 374.5,613.3 374.8,614.4 375.1,609.8 375.4,615.0 375.7,610.1 376.0,614.4 376.3,615.6 376.6,613.2 376.9,612.8 377.2,612.7 377.5,612.5 377.8,613.5 378.1,614.9 378.4,614.4 378.7,616.3 379.0,613.3 379.3,612.1 379.6,612.3 379.9,610.8 380.2,612.8 380.5,612.6 380.8,617.9 381.1,615.3 381.4,618.3 381.7,610.5 382.0,615.5 382.3,617.3 382.6,615.9 382.9,614.5 383.2,616.0 383.5,616.0 383.8,616.2 384.1,616.6 384.4,618.1 384.7,616.7 385.0,616.8 385.3,616.2 385.6,617.2 385.9,614.7 386.2,617.4 386.5,615.4 386.8,617.8 387.1,614.7 387.4,615.8 387.7,615.4 388.0,613.5 388.3,617.8 388.7,616.2 389.0,615.4 389.3,617.7 389.6,614.2 389.9,614.6 390.2,616.8 390.5,619.3 390.8,613.9 391.1,616.9 391.4,613.5 391.7,611.1 392.0,613.6 392.3,614.9 392.6,612.4 392.9,612.8 393.2,609.3 393.5,606.7 393.8,611.9 394.1,608.3 394.4,611.2 394.7,610.0 395.0,611.8 395.3,613.5 395.6,608.2 395.9,611.7 396.2,611.9 396.5,615.3 396.8,612.7 397.1,611.0 397.4,611.7 397.7,616.9 398.0,611.3 398.3,613.3 398.6,613.8 398.9,610.8 399.2,611.5 399.5,608.9 399.8,611.1 400.1,614.4 400.4,613.4 400.7,608.8 401.0,615.9 401.3,609.9 401.6,610.6 401.9,616.1 402.2,613.6 402.5,612.4 402.8,615.7 403.1,612.4 403.4,613.2 403.7,611.3 404.0,612.2 404.3,612.4 404.6,614.9 404.9,611.3 405.2,612.2 405.5,608.1 405.8,609.2 406.1,614.5 406.4,612.3 406.7,612.5 407.0,614.7 407.3,612.9 407.6,613.9 407.9,613.3 408.2,609.7 408.5,615.4 408.8,617.3 409.1,616.7 409.4,614.3 409.7,614.7 410.0,614.9 410.3,617.2 410.6,616.4 410.9,612.9 411.2,613.2 411.5,612.8 411.8,611.8 412.1,611.5 412.4,612.3 412.7,607.2 413.0,612.9 413.3,610.9 413.6,609.1 413.9,611.1 414.2,609.7 414.5,613.7 414.8,608.7 415.1,611.1 415.4,611.6 415.7,609.1 416.0,608.2 416.3,611.8 416.6,610.2 416.9,609.2 417.2,608.3 417.5,612.8 417.8,614.9 418.1,610.9 418.4,613.4 418.7,614.8 419.0,614.9 419.3,611.8 419.6,614.4 419.9,615.0 420.2,619.1 420.5,614.2 420.8,616.1 421.1,615.7 421.4,615.3 421.7,611.7 422.0,614.4 422.3,616.7 422.6,612.6 422.9,613.6 423.2,611.3 423.5,613.3 423.8,613.2 424.1,613.8 424.4,611.4 424.7,611.2 425.0,610.9 425.3,612.7 425.6,612.6 425.9,617.0 426.2,611.1 426.5,614.0 426.8,611.6 427.1,612.0 427.4,615.4 427.7,614.2 428.0,614.6 428.3,610.8 428.6,619.1 428.9,618.1 429.2,612.3 429.5,611.0 429.8,612.3 430.1,614.3 430.4,611.8 430.7,614.2 431.0,612.2 431.3,619.1 431.6,612.9 431.9,612.4 432.2,617.4 432.5,613.8 432.8,612.9 433.1,612.7 433.4,613.8 433.7,611.5 434.0,612.5 434.3,611.0 434.6,609.1 434.9,611.1 435.2,612.0 435.5,614.9 435.8,612.0 436.1,610.7 436.4,611.7 436.7,612.6 437.0,606.7 437.3,610.5 437.6,606.9 437.9,607.8 438.2,609.9 438.5,611.2 438.8,611.6 439.1,611.8 439.4,614.4 439.7,612.7 440.0,612.6 440.3,611.3 440.6,616.2 440.9,615.0 441.2,611.2 441.5,611.4 441.8,614.3 442.1,614.9 442.4,612.3 442.7,615.3 443.0,610.6 443.3,612.6 443.6,615.0 443.9,611.6 444.2,612.9 444.5,612.4 444.8,611.6 445.1,608.0 445.4,611.0 445.7,611.8 446.0,611.7 446.3,612.7 446.6,612.9 446.9,610.1 447.2,610.3 447.5,614.3 447.8,612.6 448.1,610.9 448.4,610.5 448.7,613.3 449.0,613.4 449.3,611.2 449.6,612.5 449.9,611.8 450.2,611.8 450.5,616.0 450.8,609.6 451.1,614.0 451.4,610.3 451.7,611.1 452.0,614.4 452.3,609.9 452.6,610.6 452.9,610.2 453.2,611.2 453.5,613.0 453.8,614.6 454.1,610.7 454.4,613.7 454.7,609.1 455.0,615.9 455.3,610.3 455.6,610.1 455.9,611.5 456.2,611.0 456.5,610.4 456.8,607.2 457.1,612.5 457.4,612.3 457.7,610.1 458.0,608.6 458.3,611.7 458.6,613.7 458.9,607.9 459.2,609.3 459.5,612.0 459.8,610.3 460.1,611.4 460.4,612.0 460.7,613.9 461.0,613.9 461.3,614.4 461.6,614.2 461.9,611.0 462.2,607.2 462.5,612.9 462.8,613.2 463.1,613.1 463.4,610.8 463.7,616.2 464.0,608.7 464.3,613.9 464.6,613.6 464.9,614.2 465.2,615.3 465.5,613.5 465.8,613.2 466.1,612.0 466.4,614.3 466.7,613.5 467.0,614.5 467.3,610.5 467.6,609.8 467.9,613.2 468.2,614.2 468.5,609.9 468.8,611.1 469.1,612.5 469.4,613.8 469.7,613.9 470.0,615.3 470.3,612.8 470.6,614.0 470.9,615.7 471.2,612.4 471.5,617.6 471.8,611.9 472.1,612.9 472.4,608.5 472.7,612.2 473.0,611.1 473.3,610.8 473.6,612.7 473.9,609.7 474.2,612.4 474.5,607.6 474.8,610.7 475.1,614.5 475.4,611.8 475.7,612.7 476.0,609.5 476.3,608.5 476.6,614.0 476.9,613.0 477.2,612.5 477.5,610.5 477.8,612.8 478.1,609.2 478.4,611.4 478.7,611.1 479.0,607.7 479.3,612.4 479.6,609.6 479.9,610.9 480.2,605.9 480.5,606.5 480.8,608.0 481.1,609.9 481.4,611.2 481.7,609.6 482.0,608.5 482.3,610.0 482.6,608.3 482.9,609.1 483.2,609.6 483.5,607.4 483.8,609.7 484.1,605.8 484.4,607.2 484.7,610.4 485.0,607.7 485.3,610.2 485.6,609.8 485.9,609.0 486.2,612.6 486.5,610.5 486.8,608.4 487.1,608.6 487.4,609.9 487.7,606.6 488.0,612.1 488.3,609.5 488.6,606.0 488.9,607.5 489.2,612.5 489.5,609.9 489.8,613.9 490.1,609.3 490.4,610.2 490.7,613.3 491.0,613.6 491.3,607.3 491.6,611.1 491.9,607.2 492.2,608.6 492.5,606.1 492.8,611.2 493.1,608.1 493.4,609.0 493.7,615.0 494.0,613.1 494.3,611.2 494.6,608.1 494.9,612.8 495.2,607.5 495.5,610.6 495.8,614.1 496.1,614.4 496.4,613.0 496.7,614.4 497.0,613.1 497.2,610.8 497.5,612.2 497.8,615.5 498.0,611.4 498.2,611.9 498.5,612.2 498.8,607.8 499.0,608.3 499.1,606.9 499.2,610.6 499.3,608.8 499.4,606.7 499.5,606.3 499.6,610.2 499.7,610.1 499.8,609.0 499.9,607.9 500.0,608.6 500.1,607.3 500.2,607.7 500.3,605.8 500.4,604.3 500.5,604.6 500.6,606.4 500.7,609.1 500.8,603.5 500.9,602.7 501.0,606.3 501.1,606.0 501.2,602.7 501.3,602.7 501.4,602.4 501.5,604.1 501.6,608.8 501.7,601.4 501.8,603.3 501.9,601.3 502.0,602.4 502.1,602.7 502.2,602.2 502.4,599.3 502.6,599.1 502.7,602.9 502.9,601.3 503.1,601.0 503.3,601.6 503.4,598.6 503.6,602.5 503.8,598.0 504.0,597.3 504.1,597.2 504.3,598.8 504.5,604.4 504.7,598.7 504.8,599.0 505.0,601.4 505.2,597.1 505.5,594.7 505.7,596.1 506.0,596.4 506.2,593.4 506.5,596.0 506.7,596.5 507.0,600.3 507.2,597.3 507.5,595.6 507.7,593.9 508.0,593.1 508.2,590.5 508.5,593.8 508.7,589.0 509.0,593.2 509.2,596.8 509.5,592.4 509.7,593.9 510.0,591.0 510.1,588.7 510.2,592.9 510.3,591.6 510.4,592.9 510.5,592.0 510.6,592.8 510.8,590.3 510.9,592.2 511.0,593.0 511.1,589.5 511.2,589.7 511.3,592.4 511.3,589.7 511.4,589.4 511.4,589.1 511.5,588.8 511.5,588.5 511.5,588.2 511.6,587.8 511.6,587.5 511.6,587.2 511.7,586.9 511.7,586.6 511.8,586.3 511.8,586.0 511.8,585.7 511.8,585.4 511.9,585.1 511.9,584.8 511.9,584.5 511.9,584.2 512.0,583.9 512.0,583.6 512.0,583.3 512.0,583.0 512.0,582.7 512.1,582.4 512.1,582.1 512.1,581.8 512.1,581.5 512.1,581.2 512.2,580.9 512.2,580.6 512.2,580.3 512.2,580.0 512.3,579.7 512.3,579.4 512.3,579.1 512.3,578.8 512.3,578.5 512.4,578.2 512.4,577.9 512.4,577.6 512.4,577.3 512.5,577.0 512.5,576.7 512.5,576.4 512.5,576.1 512.5,575.8 512.6,575.5 512.6,575.2 512.6,574.9 512.6,574.6 512.6,574.3 512.7,574.0 512.7,573.7 512.7,573.4 512.7,573.1 512.8,572.8 512.8,572.5 512.8,572.2 512.8,571.9 512.8,571.6 512.9,571.3 512.9,571.0 512.9,570.7 512.9,570.4 512.9,570.1 513.0,569.8 513.0,569.5 513.0,569.2 513.0,568.9 513.1,568.6 513.1,568.3 513.1,568.0 513.1,567.7 513.1,567.4 513.2,567.1 513.2,566.8 513.2,566.5 513.2,566.2 513.3,565.9 513.3,565.6 513.3,565.3 513.3,565.0 513.3,564.7 513.4,564.4 513.4,564.1 513.4,563.8 513.4,563.5 513.4,563.2 513.5,562.9 513.5,562.6 513.5,562.3 513.5,562.0 513.6,561.7 513.6,561.4 513.6,561.1 513.6,560.8 513.6,560.5 513.7,560.2 513.7,559.9 513.7,559.6 513.7,559.3 513.8,559.0 513.8,558.7 513.8,558.4 513.8,558.1 513.8,557.8 513.9,557.5 513.9,557.2 513.9,556.9 513.9,556.6 513.9,556.3 514.0,556.0 514.0,555.7 514.0,555.4 514.0,555.1 514.1,554.8 514.1,554.5 514.1,554.2 514.1,553.9 514.1,553.6 514.2,553.3 514.2,553.0 514.2,552.7 514.2,552.4 514.2,552.1 514.3,551.8 514.3,551.5 514.3,551.2 514.3,550.9 514.4,550.6 514.4,550.3 514.4,550.0 514.4,549.7 514.5,549.4 514.5,549.1 514.5,548.8 514.5,548.5 514.6,548.2 514.6,547.9 514.6,547.6 514.6,547.3 514.7,547.0 514.7,546.7 514.7,546.4 514.7,546.1 514.8,545.8 514.8,545.5 514.8,545.2 514.9,544.9 514.9,544.6 514.9,544.3 514.9,544.0 515.0,543.7 515.0,543.4 515.0,543.1 515.0,542.8 515.1,542.5 515.1,542.2 515.1,541.9 515.2,541.6 515.2,541.3 515.2,541.0 515.2,540.7 515.3,540.4 515.3,540.1 515.3,539.9 515.3,539.6 515.4,539.3 515.4,539.0 515.4,538.7 515.4,538.4 515.5,538.1 515.5,537.8 515.5,537.5 515.6,537.2 515.6,536.9 515.6,536.6 515.6,536.3 515.7,536.0 515.7,535.7 515.7,535.4 515.7,535.1 515.8,534.8 515.8,534.5 515.8,534.2 515.9,533.9 515.9,533.6 515.9,533.3 515.9,533.0 516.0,532.7 516.0,532.4 516.0,532.1 516.0,531.8 516.1,531.5 516.1,531.2 516.1,530.9 516.1,530.6 516.2,530.3 516.2,530.0 516.2,529.7 516.3,529.4 516.3,529.1 516.3,528.8 516.3,528.5 516.4,528.2 516.4,527.9 516.4,527.6 516.4,527.3 516.5,527.0 516.5,526.7 516.5,526.4 516.5,526.1 516.6,525.8 516.6,525.5 516.6,525.2 516.7,524.9 516.7,524.6 516.7,524.3 516.7,524.0 516.8,523.7 516.8,523.4 516.8,523.1 516.8,522.8 516.9,522.5 516.9,522.2 516.9,521.9 517.0,521.6 517.0,521.3 517.0,521.0 517.0,520.7 517.1,520.4 517.1,520.1 517.1,519.9 517.1,519.6 517.2,519.3 517.2,519.0 517.2,518.7 517.2,518.4 517.3,518.1 517.3,517.8 517.3,517.5 517.4,517.2 517.4,516.9 517.4,516.6 517.4,516.3 517.5,516.0 517.5,515.7 517.5,515.4 517.5,515.1 517.6,514.8 517.6,514.5 517.6,514.2 517.7,513.9 517.7,513.6 517.7,513.3 517.7,513.0 517.8,512.7 517.8,512.4 517.8,512.1 517.8,511.8 517.9,511.5 517.9,511.2 517.9,510.9 517.9,510.6 518.0,510.3 518.0,510.0 518.0,509.7 518.1,509.4 518.1,509.1 518.1,508.8 518.1,508.5 518.2,508.2 518.2,507.9 518.2,507.6 518.3,507.3 518.3,507.0 518.3,506.7 518.4,506.4 518.4,506.1 518.4,505.8 518.4,505.5 518.5,505.2 518.5,504.9 518.5,504.6 518.6,504.3 518.6,504.0 518.6,503.7 518.7,503.4 518.7,503.1 518.7,502.8 518.7,502.5 518.8,502.2 518.8,501.9 518.8,501.6 518.9,501.3 518.9,501.0 518.9,500.7 519.0,500.4 519.0,500.1 519.0,499.8 519.0,499.5 519.1,499.2 519.1,498.9 519.1,498.6 519.2,498.3 519.2,498.0 519.2,497.7 519.3,497.4 519.3,497.1 519.3,496.8 519.3,496.5 519.4,496.2 519.4,495.9 519.4,495.6 519.5,495.3 519.5,495.0 519.5,494.7 519.6,494.4 519.6,494.1 519.6,493.8 519.6,493.5 519.7,493.2 519.7,492.9 519.7,492.6 519.8,492.4 519.8,492.1 519.8,491.8 519.9,491.5 519.9,491.2 519.9,490.9 519.9,490.6 520.0,490.3 520.0,490.0 520.0,489.7 520.1,489.4 520.1,489.1 520.1,488.8 520.2,488.5 520.2,488.2 520.2,487.9 520.2,487.6 520.3,487.3 520.3,487.0 520.3,486.7 520.4,486.4 520.4,486.1 520.4,485.8 520.5,485.5 520.5,485.2 520.5,484.9 520.5,484.6 520.6,484.3 520.6,484.0 520.6,483.7 520.7,483.4 520.7,483.1 520.7,482.8 520.8,482.5 520.8,482.2 520.8,481.9 520.8,481.6 520.9,481.3 520.9,481.0 520.9,480.7 521.0,480.4 521.0,480.1 521.0,479.8 521.1,479.5 521.1,479.2 521.1,478.9 521.1,478.6 521.2,478.3 521.2,478.0 521.2,477.7 521.3,477.4 521.3,477.1 521.3,476.8 521.4,476.5 521.4,476.2 521.4,475.9 521.4,475.6 521.5,475.3 521.5,475.0 521.5,474.7 521.5,474.4 521.6,474.1 521.6,473.8 521.6,473.5 521.6,473.2 521.6,472.9 521.6,472.6 521.7,472.3 521.7,472.0 521.7,471.7 521.7,471.4 521.7,471.1 521.8,470.8 521.8,470.5 521.8,470.2 521.8,469.9 521.8,469.6 521.8,469.3 521.9,469.0 521.9,468.7 521.9,468.4 521.9,468.1 521.9,467.8 521.9,467.5 522.0,467.2 522.0,466.9 522.0,466.6 522.0,466.3 522.0,466.0 522.1,465.7 522.1,465.4 522.1,465.1 522.1,464.8 522.1,464.5 522.1,464.2 522.2,463.9 522.2,463.6 522.2,463.3 522.2,463.0 522.2,462.7 522.3,462.4 522.3,462.1 522.3,461.8 522.3,461.5 522.3,461.2 522.3,460.9 522.4,460.6 522.4,460.3 522.4,460.0 522.4,459.7 522.4,459.4 522.5,459.1 522.5,458.8 522.5,458.5 522.5,458.2 522.5,457.9 522.5,457.6 522.6,457.4 522.6,457.1 522.6,456.8 522.6,456.5 522.6,456.2 522.6,455.9 522.7,455.6 522.7,455.3 522.7,455.0 522.7,454.7 522.7,454.4 522.8,454.1 522.8,453.8 522.8,453.5 522.8,453.2 522.8,452.9 522.8,452.6 522.9,452.3 522.9,452.0 522.9,451.7 522.9,451.4 522.9,451.1 523.0,450.8 523.0,450.5 523.0,450.2 523.0,449.9 523.0,449.6 523.0,449.3 523.1,449.0 523.1,448.7 523.1,448.4 523.1,448.1 523.1,447.8 523.2,447.5 523.2,447.2 523.2,446.9 523.2,446.6 523.2,446.3 523.2,446.0 523.3,445.7 523.3,445.4 523.3,445.1 523.3,444.8 523.3,444.5 523.3,444.2 523.4,443.9 523.4,443.6 523.4,443.3 523.4,443.0 523.4,442.7 523.5,442.4 523.5,442.1 523.5,441.8 523.5,441.5 523.5,441.2 523.5,440.9 523.6,440.6 523.6,440.3 523.6,440.0 523.6,439.7 523.6,439.4 523.7,439.1 523.7,438.8 523.7,438.5 523.7,438.2 523.7,437.9 523.7,437.6 523.8,437.3 523.8,437.0 523.8,436.7 523.8,436.4 523.8,436.1 523.9,435.8 523.9,435.5 523.9,435.2 523.9,434.9 523.9,434.6 523.9,434.3 524.0,434.0 524.0,433.7 524.0,433.4 524.0,433.1 524.0,432.8 524.0,432.5 524.1,432.2 524.1,431.9 524.1,431.6 524.1,431.3 524.1,431.0 524.2,430.7 524.2,430.4 524.2,430.1 524.2,429.9 524.2,429.6 524.2,429.3 524.3,429.0 524.3,428.7 524.3,428.4 524.3,428.1 524.3,427.8 524.4,427.5 524.4,427.2 524.4,426.9 524.4,426.6 524.4,426.3 524.4,426.0 524.5,425.7 524.5,425.4 524.5,425.1 524.5,424.8 524.5,424.5 524.5,424.2 524.6,423.9 524.6,423.6 524.6,423.3 524.6,423.0 524.6,422.7 524.7,422.4 524.7,422.1 524.7,421.8 524.7,421.5 524.7,421.2 524.7,420.9 524.8,420.6 524.8,420.3 524.8,420.0 524.8,419.7 524.8,419.4 524.9,419.1 524.9,418.8 524.9,418.5 524.9,418.2 524.9,417.9 524.9,417.6 525.0,417.3 525.0,417.0 525.0,416.7 525.0,416.4 525.0,416.1 525.1,415.8 525.1,415.5 525.1,415.2 525.1,414.9 525.1,414.6 525.1,414.3 525.2,414.0 525.2,413.7 525.2,413.4 525.2,413.1 525.2,412.8 525.2,412.5 525.3,412.2 525.3,411.9 525.3,411.6 525.3,411.3 525.3,411.0 525.4,410.7 525.4,410.4 525.4,410.1 525.4,409.9 525.4,409.6 525.4,409.3 525.5,409.0 525.5,408.7 525.5,408.4 525.5,408.1 525.5,407.8 525.6,407.5 525.6,407.2 525.6,406.9 525.6,406.6 525.6,406.3 525.6,406.0 525.7,405.7 525.7,405.4 525.7,405.1 525.7,404.8 525.7,404.5 525.7,404.2 525.8,403.9 525.8,403.6 525.8,403.3 525.8,403.0 525.8,402.7 525.9,402.4 525.9,402.1 525.9,401.8 525.9,401.5 525.9,401.2 525.9,400.9 526.0,400.6 526.0,400.3 526.0,400.0 526.0,399.7 526.0,399.4 526.1,399.1 526.1,398.8 526.1,398.5 526.1,398.2 526.1,397.9 526.2,397.6 526.2,397.3 526.2,397.0 526.2,396.7 526.2,396.4 526.3,396.1 526.3,395.8 526.3,395.5 526.3,395.2 526.3,394.9 526.3,394.6 526.4,394.3 526.4,394.0 526.4,393.7 526.4,393.4 526.4,393.1 526.5,392.8 526.5,392.5 526.5,392.2 526.5,391.9 526.5,391.6 526.6,391.3 526.6,391.0 526.6,390.7 526.6,390.4 526.6,390.1 526.7,389.9 526.7,389.6 526.7,389.3 526.7,389.0 526.7,388.7 526.8,388.4 526.8,388.1 526.8,387.8 526.8,387.5 526.8,387.2 526.9,386.9 526.9,386.6 526.9,386.3 526.9,386.0 526.9,385.7 527.0,385.4 527.0,385.1 527.0,384.8 527.0,384.5 527.0,384.2 527.0,383.9 527.1,383.6 527.1,383.3 527.1,383.0 527.1,382.7 527.1,382.4 527.2,382.1 527.2,381.8 527.2,381.5 527.2,381.2 527.2,380.9 527.3,380.6 527.3,380.3 527.3,380.0 527.3,379.7 527.3,379.4 527.4,379.1 527.4,378.8 527.4,378.5 527.4,378.2 527.4,377.9 527.5,377.6 527.5,377.3 527.5,377.0 527.5,376.7 527.5,376.4 527.6,376.1 527.6,375.8 527.6,375.5 527.6,375.2 527.6,374.9 527.6,374.6 527.7,374.3 527.7,374.0 527.7,373.7 527.7,373.4 527.7,373.1 527.8,372.8 527.8,372.5 527.8,372.2 527.8,371.9 527.8,371.6 527.9,371.3 527.9,371.0 527.9,370.7 527.9,370.4 527.9,370.1 528.0,369.9 528.0,369.6 528.0,369.3 528.0,369.0 528.0,368.7 528.1,368.4 528.1,368.1 528.1,367.8 528.1,367.5 528.1,367.2 528.2,366.9 528.2,366.6 528.2,366.3 528.2,366.0 528.2,365.7 528.3,365.4 528.3,365.1 528.3,364.8 528.3,364.5 528.3,364.2 528.3,363.9 528.4,363.6 528.4,363.3 528.4,363.0 528.4,362.7 528.4,362.4 528.5,362.1 528.5,361.8 528.5,361.5 528.5,361.2 528.5,360.9 528.6,360.6 528.6,360.3 528.6,360.0 528.6,359.7 528.6,359.4 528.7,359.1 528.7,358.8 528.7,358.5 528.7,358.2 528.7,357.9 528.8,357.6 528.8,357.3 528.8,357.0 528.8,356.7 528.8,356.4 528.9,356.1 528.9,355.8 528.9,355.5 528.9,355.2 528.9,354.9 529.0,354.6 529.0,354.3 529.0,354.0 529.0,353.7 529.1,353.4 529.1,353.1 529.1,352.8 529.1,352.5 529.1,352.2 529.2,351.9 529.2,351.6 529.2,351.3 529.2,351.0 529.2,350.7 529.3,350.4 529.3,350.1 529.3,349.8 529.3,349.5 529.3,349.2 529.4,348.9 529.4,348.6 529.4,348.3 529.4,348.0 529.4,347.7 529.5,347.4 529.5,347.1 529.5,346.8 529.5,346.5 529.5,346.2 529.6,345.9 529.6,345.6 529.6,345.3 529.6,345.0 529.6,344.7 529.7,344.4 529.7,344.1 529.7,343.8 529.7,343.5 529.7,343.2 529.8,342.9 529.8,342.6 529.8,342.4 529.8,342.1 529.9,341.8 529.9,341.5 529.9,341.2 529.9,340.9 529.9,340.6 530.0,340.3 530.0,340.0 530.0,339.7 530.0,339.4 530.0,339.1 530.1,338.8 530.1,338.5 530.1,338.2 530.1,337.9 530.1,337.6 530.2,337.3 530.2,337.0 530.2,336.7 530.2,336.4 530.2,336.1 530.3,335.8 530.3,335.5 530.3,335.2 530.3,334.9 530.3,334.6 530.4,334.3 530.4,334.0 530.4,333.7 530.4,333.4 530.4,333.1 530.5,332.8 530.5,332.5 530.5,332.2 530.5,331.9 530.5,331.6 530.6,331.3 530.6,331.0 530.6,330.7 530.6,330.4 530.7,330.1 530.7,329.8 530.7,329.5 530.7,329.2 530.7,328.9 530.8,328.6 530.8,328.3 530.8,328.0 530.8,327.7 530.8,327.4 530.9,327.1 530.9,326.8 530.9,326.5 530.9,326.2 530.9,325.9 531.0,325.6 531.0,325.3 531.0,325.0 531.0,324.7 531.0,324.4 531.1,324.1 531.1,323.8 531.1,323.5 531.1,323.2 531.2,322.9 531.2,322.6 531.2,322.3 531.2,322.0 531.2,321.7 531.3,321.4 531.3,321.1 531.3,320.8 531.3,320.5 531.4,320.2 531.4,319.9 531.4,319.6 531.4,319.3 531.5,319.0 531.5,318.7 531.5,318.4 531.5,318.1 531.5,317.8 531.6,317.5 531.6,317.2 531.6,316.9 531.6,316.6 531.7,316.3 531.7,316.0 531.7,315.7 531.7,315.4 531.7,315.1 531.8,314.8 531.8,314.5 531.8,314.2 531.8,313.9 531.9,313.6 531.9,313.3 531.9,313.0 531.9,312.7 531.9,312.4 532.0,312.1 532.0,311.8 532.0,311.5 532.0,311.2 532.1,310.9 532.1,310.6 532.1,310.3 532.1,310.0 532.1,309.7 532.2,309.4 532.2,309.1 532.2,308.8 532.2,308.5 532.3,308.2 532.3,307.9 532.3,307.6 532.3,307.3 532.4,307.0 532.4,306.7 532.4,306.4 532.4,306.1 532.4,305.8 532.5,305.5 532.5,305.2 532.5,304.9 532.5,304.6 532.6,304.3 532.6,304.0 532.6,303.7 532.6,303.4 532.6,303.1 532.7,302.8 532.7,302.5 532.7,302.2 532.7,301.9 532.8,301.6 532.8,301.3 532.8,301.0 532.8,300.7 532.8,300.4 532.9,300.1 532.9,299.8 532.9,299.5 532.9,299.2 533.0,298.9 533.0,298.6 533.0,298.3 533.0,298.0 533.0,297.7 533.1,297.4 533.1,297.1 533.1,296.8 533.1,296.5 533.2,296.2 533.2,295.9 533.2,295.6 533.2,295.3 533.2,295.0 533.3,294.7 533.3,294.4 533.3,294.1 533.4,293.8 533.4,293.5 533.4,293.2 533.5,292.9 533.5,292.6 533.5,292.3 533.6,292.0 533.6,291.7 533.6,291.4 533.6,291.1 533.7,290.8 533.7,290.5 533.7,290.2 533.8,289.9 533.8,289.6 533.8,289.3 533.9,289.0 533.9,288.7 533.9,288.4 533.9,288.1 534.0,287.8 534.0,287.5 534.0,287.2 534.1,286.9 534.1,286.6 534.1,286.3 534.2,286.1 534.2,285.8 534.2,285.5 534.2,285.2 534.3,284.9 534.3,284.6 534.3,284.3 534.4,284.0 534.4,283.7 534.4,283.4 534.5,283.1 534.5,282.8 534.5,282.5 534.5,282.2 534.6,281.9 534.6,281.6 534.6,281.3 534.7,281.0 534.7,280.7 534.7,280.4 534.8,280.1 534.8,279.8 534.8,279.5 534.8,279.2 534.9,278.9 534.9,278.6 534.9,278.3 535.0,278.0 535.0,277.7 535.0,277.4 535.1,277.1 535.1,276.8 535.1,276.5 535.1,276.2 535.2,275.9 535.2,275.6 535.2,275.3 535.3,275.0 535.3,274.7 535.3,274.4 535.4,274.1 535.4,273.8 535.4,273.5 535.4,273.2 535.5,272.9 535.5,272.6 535.5,272.3 535.6,272.0 535.6,271.7 535.6,271.4 535.7,271.1 535.7,270.8 535.7,270.5 535.7,270.2 535.8,269.9 535.8,269.6 535.8,269.3 535.9,269.0 535.9,268.8 535.9,268.5 536.0,268.2 536.0,267.9 536.0,267.6 536.1,267.3 536.1,267.0 536.1,266.7 536.2,266.4 536.2,266.1 536.2,265.8 536.3,265.5 536.3,265.2 536.3,264.9 536.4,264.6 536.4,264.3 536.4,264.0 536.5,263.7 536.5,263.4 536.5,263.1 536.6,262.8 536.6,262.5 536.7,262.2 536.7,261.9 536.7,261.6 536.8,261.3 536.8,261.0 536.8,260.7 536.9,260.4 536.9,260.1 536.9,259.8 537.0,259.5 537.0,259.2 537.0,258.9 537.1,258.6 537.1,258.3 537.1,258.0 537.2,257.7 537.2,257.4 537.2,257.1 537.3,256.8 537.3,256.5 537.3,256.2 537.4,255.9 537.4,255.6 537.4,255.3 537.5,255.0 537.5,254.7 537.5,254.4 537.6,254.1 537.6,253.8 537.6,253.5 537.7,253.2 537.7,252.9 537.7,252.6 537.8,252.3 537.8,252.0 537.8,251.7 537.9,251.4 537.9,251.1 538.0,250.8 538.0,250.5 538.0,250.2 538.1,249.9 538.1,249.6 538.1,249.3 538.2,249.0 538.2,248.7 538.2,248.4 538.3,248.1 538.3,247.8 538.3,247.5 538.4,247.2 538.4,246.9 538.4,246.6 538.5,246.3 538.5,246.0 538.5,245.7 538.6,245.4 538.6,245.1 538.6,244.8 538.7,244.5 538.7,244.2 538.7,243.9 538.8,243.6 538.8,243.3 538.8,243.0 538.9,242.7 538.9,242.4 538.9,242.1 539.0,241.8 539.0,241.5 539.0,241.2 539.1,240.9 539.1,240.6 539.1,240.3 539.2,240.0 539.2,239.7 539.3,239.4 539.3,239.1 539.3,238.8 539.4,238.5 539.4,238.2 539.4,237.9 539.5,237.6 539.5,237.3 539.5,237.0 539.6,236.7 539.6,236.4 539.6,236.1 539.7,235.8 539.7,235.5 539.7,235.2 539.8,234.9 539.8,234.6 539.8,234.3 539.9,234.0 539.9,233.8 539.9,233.5 539.9,233.2 540.0,232.9 540.0,232.6 540.0,232.3 540.0,232.0 540.1,231.7 540.1,231.4 540.1,231.1 540.1,230.8 540.2,230.5 540.2,230.2 540.2,229.9 540.2,229.6 540.3,229.3 540.3,229.0 540.3,228.7 540.3,228.4 540.4,228.1 540.4,227.8 540.4,227.5 540.4,227.2 540.4,226.9 540.5,226.6 540.5,226.3 540.5,226.0 540.5,225.7 540.6,225.4 540.6,225.1 540.6,224.8 540.6,224.5 540.7,224.2 540.7,223.9 540.7,223.6 540.7,223.3 540.8,223.0 540.8,222.7 540.8,222.4 540.8,222.1 540.9,221.8 540.9,221.5 540.9,221.2 540.9,220.9 540.9,220.6 541.0,220.3 541.0,220.0 541.0,219.7 541.0,219.4 541.1,219.1 541.1,218.8 541.1,218.5 541.1,218.2 541.2,218.0 541.2,217.7 541.2,217.4 541.2,217.1 541.3,216.8 541.3,216.5 541.3,216.2 541.3,215.9 541.4,215.6 541.4,215.3 541.4,215.0 541.4,214.7 541.5,214.4 541.5,214.1 541.5,213.8 541.5,213.5 541.5,213.2 541.6,212.9 541.6,212.6 541.6,212.3 541.6,212.0 541.7,211.7 541.7,211.4 541.7,211.1 541.7,210.8 541.8,210.5 541.8,210.2 541.8,209.9 541.8,209.6 541.9,209.3 541.9,209.0 541.9,208.7 541.9,208.4 542.0,208.1 542.0,207.8 542.0,207.5 542.0,207.2 542.0,206.9 542.1,206.6 542.1,206.3 542.1,206.0 542.1,205.7 542.2,205.4 542.2,205.1 542.2,204.8 542.2,204.5 542.3,204.2 542.3,203.9 542.3,203.6 542.3,203.3 542.4,203.0 542.4,202.8 542.4,202.5 542.4,202.2 542.5,201.9 542.5,201.6 542.5,201.3 542.5,201.0 542.5,200.7 542.6,200.4 542.6,200.1 542.6,199.8 542.6,199.5 542.7,199.2 542.7,198.9 542.7,198.6 542.7,198.3 542.8,198.0 542.8,197.7 542.8,197.4 542.8,197.1 542.9,196.8 542.9,196.5 542.9,196.2 542.9,195.9 543.0,195.6 543.0,195.3 543.0,195.0 543.0,194.7 543.0,194.4 543.0,194.1 543.0,193.8 543.0,193.5 543.1,193.2 543.1,192.9 543.1,192.6 543.1,192.3 543.1,192.0 543.1,191.7 543.1,191.4 543.1,191.1 543.1,190.8 543.1,190.5 543.2,190.2 543.2,189.9 543.2,189.6 543.2,189.3 543.2,189.0 543.2,188.7 543.2,188.4 543.2,188.1 543.2,187.8 543.2,187.5 543.2,187.2 543.3,186.9 543.3,186.6 543.3,186.3 543.3,186.0 543.3,185.7 543.3,185.4 543.3,185.1 543.3,184.8 543.3,184.5 543.3,184.2 543.4,183.9 543.4,183.6 543.4,183.3 543.4,183.0 543.4,182.7 543.4,182.4 543.4,182.1 543.4,181.8 543.4,181.5 543.4,181.2 543.5,180.9 543.5,180.6 543.5,180.3 543.5,180.0 543.5,179.7 543.5,179.4 543.5,179.1 543.5,178.8 543.5,178.5 543.5,178.2 543.5,177.9 543.6,177.6 543.6,177.3 543.6,177.0 543.6,176.7 543.6,176.4 543.6,176.1 543.6,175.8 543.6,175.5 543.6,175.2 543.6,174.9 543.7,174.6 543.7,174.3 543.7,174.0 543.7,173.7 543.7,173.4 543.7,173.1 543.7,172.8 543.7,172.5 543.7,172.2 543.7,171.9 543.7,171.6 543.8,171.3 543.8,171.0 543.8,170.7 543.8,170.4 543.8,170.1 543.8,169.8 543.8,169.5 543.8,169.2 543.8,168.9 543.8,168.6 543.9,168.3 543.9,168.0 543.9,167.7 543.9,167.4 543.9,167.1 543.9,166.8 543.9,166.5 543.9,166.2 543.9,165.9 543.9,165.6 543.9,165.3 544.0,165.0 544.0,164.7 544.0,164.4 544.0,164.1 544.0,163.8 544.0,163.5 544.0,163.2 544.0,162.9 544.0,162.6 544.0,162.3 544.1,162.0 544.1,161.7 544.1,161.4 544.1,161.1 544.1,160.8 544.1,160.5 544.1,160.2 544.1,159.9 544.1,159.6 544.1,159.3 544.1,159.0 544.2,158.7 544.2,158.4 544.2,158.1 544.2,157.8 544.2,157.5 544.2,157.2 544.2,156.9 544.2,156.6 544.2,156.3 544.2,156.0 544.3,155.7 544.3,155.4 544.3,155.1 544.3,154.8 544.3,154.5 544.3,154.2 544.3,153.9 544.3,153.6 544.3,153.3 544.3,153.0 544.4,152.7 544.4,152.4 544.4,152.1 544.4,151.8 544.4,151.5 544.4,151.2 544.4,150.9 544.4,150.6 544.4,150.3 544.4,150.0 544.4,149.7 544.5,149.4 544.5,149.1 544.5,148.8 544.5,148.5 544.5,148.2 544.5,147.9 544.5,147.6 544.5,147.3 544.5,147.0 544.5,146.7 544.6,146.4 544.6,146.1 544.6,145.8 544.6,145.5 544.6,145.2 544.6,144.9 544.6,144.6 544.6,144.3 544.6,144.0 544.6,143.7 544.6,143.4 544.7,143.1 544.7,142.8 544.7,142.5 544.7,142.2 544.7,141.9 544.7,141.6 544.7,141.3 544.7,141.0 544.7,140.7 544.7,140.4 544.8,140.1 544.8,139.8 544.8,139.5 544.8,139.2 544.8,138.9 544.8,138.6 544.8,138.3 544.8,138.0 544.8,137.7 544.8,137.4 544.8,137.1 544.9,136.8 544.9,136.5 544.9,136.2 544.9,135.9 544.9,135.6 544.9,135.3 544.9,135.0 544.9,134.7 544.9,134.4 544.9,134.1 545.0,133.8 545.0,133.5 545.0,133.2 545.0,132.9 545.0,132.6 545.0,132.3 545.0,132.0 545.0,131.7 545.0,131.4 545.0,131.1 545.1,130.8 545.1,130.5 545.1,130.2 545.1,129.9 545.1,129.6 545.1,129.3 545.1,129.0 545.1,128.7 545.1,128.4 545.1,128.1 545.1,127.8 545.2,127.5 545.2,127.2 545.2,126.9 545.2,126.6 545.2,126.3 545.2,126.0 545.2,125.7 545.2,125.4 545.2,125.1 545.2,124.8 545.3,124.5 545.3,124.2 545.3,123.9 545.3,123.6 545.3,123.3 545.3,123.0 545.3,122.7 545.3,122.4 545.3,122.1 545.3,121.8 545.4,121.5 545.4,121.2 545.4,120.9 545.4,120.6 545.4,120.3 545.4,120.0 545.4,119.7 545.4,119.4 545.4,119.1 545.5,118.8 545.5,118.5 545.5,118.2 545.5,117.9 545.5,117.6 545.5,117.3 545.5,117.0 545.5,116.7 545.5,116.4 545.6,116.1 545.6,115.8 545.6,115.5 545.6,115.2 545.6,114.9 545.6,114.6 545.6,114.3 545.6,114.0 545.6,113.7 545.7,113.4 545.7,113.1 545.7,112.8 545.7,112.5 545.7,112.2 545.7,111.9 545.7,111.6 545.7,111.3 545.7,111.0 545.8,110.7 545.8,110.4 545.8,110.1 545.8,109.8 545.8,109.5 545.8,109.2 545.8,108.9 545.8,108.6 545.8,108.3 545.8,108.0 545.9,107.7 545.9,107.4 545.9,107.1 545.9,106.8 545.9,106.5 545.9,106.2 545.9,105.9 545.9,105.6 545.9,105.3 546.0,105.0 546.0,104.7 546.0,104.4 546.0,104.1 546.0,103.8 546.0,103.5 546.0,103.2 546.0,102.9 546.0,102.6 546.1,102.3 546.1,102.0 546.1,101.7 546.1,101.4 546.1,101.1 546.1,100.8 546.1,100.5 546.1,100.2 546.1,99.9 546.2,99.6 546.2,99.3 546.2,99.0 546.2,98.7 546.2,98.4 546.2,98.1 546.2,97.8 546.2,97.5 546.2,97.2 546.3,96.9 546.3,96.6 546.3,96.3 546.3,96.0 546.3,95.7 546.3,95.4 546.3,95.1 546.3,94.8 546.3,94.5 546.4,94.2 546.4,93.9 546.4,93.6 546.4,93.3 546.4,93.0 546.4,92.7 546.4,92.4 546.5,92.1 546.5,91.8 546.5,91.5 546.5,91.2 546.6,90.9 546.6,90.6 546.6,90.3 546.6,90.0 546.6,89.7 546.7,89.4 546.7,89.1 546.7,88.8 546.7,88.5 546.8,88.2 546.8,87.9 546.8,87.6 546.8,87.3 546.8,87.0 546.9,86.7 546.9,86.4 546.9,86.1 546.9,85.8 547.0,85.5 547.0,85.2 547.0,84.9 547.0,84.6 547.0,84.3 547.1,84.0 547.1,83.7 547.1,83.4 547.1,83.1 547.1,82.8 547.2,82.5 547.2,82.2 547.2,81.9 547.2,81.6 547.3,81.3 547.3,81.0 547.3,80.7 547.3,80.4 547.3,80.1 547.4,79.8 547.4,79.5 547.4,79.2 547.4,78.9 547.5,78.6 547.5,78.3 547.5,78.0 547.6,77.7 547.7,77.4 547.7,77.1 547.8,76.9 547.9,76.6 548.0,76.3 548.1,76.0 548.1,75.7 548.2,75.4 548.3,75.1 548.4,74.8 548.5,74.6 548.5,74.3 548.6,74.0 548.7,73.7 548.8,73.4 548.9,73.1 548.9,72.8 549.0,72.6 549.1,72.3 549.2,72.0 549.3,71.7 549.3,71.4 549.4,71.1 549.5,70.8 549.6,70.5 549.7,70.3 549.7,70.0 549.8,69.7 549.9,69.4 549.9,69.7 550.0,70.0 550.0,70.3 550.1,70.6 550.1,70.9 550.2,71.2 550.2,71.4 550.3,71.7 550.4,72.0 550.4,72.3 550.5,72.6 550.5,72.9 550.5,73.2 550.6,73.5 550.6,73.8 550.7,74.1 550.8,74.4 550.8,74.7 550.9,75.0 550.9,75.2 551.0,75.5 551.0,75.8 551.1,76.1 551.1,76.4 551.2,76.7 551.2,77.0 551.3,76.7 551.4,76.4 551.5,76.2 551.6,75.9 551.6,75.6 551.7,75.3 551.8,75.1 551.9,74.8 552.0,74.5 552.0,74.8 552.1,75.1 552.1,75.4 552.2,75.7 552.2,76.0 552.3,76.3 552.4,76.6 552.4,76.9 552.5,77.2 552.5,77.4 552.5,77.7 552.6,78.0 552.6,78.3 552.7,78.6 552.8,78.9 552.8,79.2 552.9,79.5 552.9,79.8 552.9,80.1 553.0,80.4 553.0,80.7 553.1,81.0 553.1,81.3 553.2,81.6 553.2,81.9 553.3,82.2 553.4,82.5 553.4,82.8 553.4,83.0 553.4,83.3 553.4,83.6 553.4,83.9 553.4,84.2 553.4,84.5 553.4,84.8 553.4,85.1 553.5,85.4 553.5,85.7 553.5,86.0 553.5,86.3 553.5,86.6 553.5,86.9 553.5,87.2 553.5,87.5 553.5,87.8 553.5,88.1 553.5,88.4 553.5,88.7 553.5,89.0 553.5,89.3 553.5,89.6 553.5,89.9 553.5,90.2 553.5,90.5 553.6,90.8 553.6,91.1 553.6,91.4 553.6,91.7 553.6,92.0 553.6,92.3 553.6,92.6 553.6,92.9 553.6,93.2 553.6,93.5 553.6,93.8 553.6,94.1 553.6,94.4 553.6,94.7 553.6,95.0 553.6,95.3 553.6,95.6 553.7,95.9 553.7,96.2 553.7,96.5 553.7,96.8 553.7,97.1 553.7,97.4 553.7,97.7 553.7,98.0 553.7,98.3 553.7,98.6 553.7,98.9 553.7,99.2 553.7,99.5 553.7,99.8 553.7,100.1 553.7,100.4 553.7,100.7 553.7,101.0 553.8,101.3 553.8,101.6 553.8,101.9 553.8,102.2 553.8,102.5 553.8,102.8 553.8,103.1 553.8,103.4 553.8,103.7 553.8,104.0 553.8,104.3 553.8,104.6 553.8,104.9 553.8,105.2 553.8,105.5 553.8,105.8 553.8,106.1 553.8,106.4 553.9,106.7 553.9,107.0 553.9,107.3 553.9,107.6 553.9,107.9 553.9,108.2 553.9,108.5 553.9,108.8 553.9,109.1 553.9,109.4 553.9,109.7 553.9,110.0 553.9,110.3 553.9,110.6 553.9,110.9 553.9,111.2 553.9,111.5 554.0,111.8 554.0,112.1 554.0,112.4 554.0,112.7 554.0,113.0 554.0,113.3 554.0,113.6 554.0,113.9 554.0,114.2 554.0,114.4 554.0,114.7 554.0,115.0 554.0,115.3 554.0,115.6 554.0,115.9 554.0,116.2 554.0,116.5 554.0,116.8 554.1,117.1 554.1,117.4 554.1,117.7 554.1,118.0 554.1,118.3 554.1,118.6 554.1,118.9 554.1,119.2 554.1,119.5 554.1,119.8 554.1,120.1 554.1,120.4 554.1,120.7 554.1,121.0 554.1,121.3 554.1,121.6 554.1,121.9 554.2,122.2 554.2,122.5 554.2,122.8 554.2,123.1 554.2,123.4 554.2,123.7 554.2,124.0 554.2,124.3 554.2,124.6 554.2,124.9 554.2,125.2 554.2,125.5 554.2,125.8 554.2,126.1 554.2,126.4 554.2,126.7 554.2,127.0 554.2,127.3 554.3,127.6 554.3,127.9 554.3,128.2 554.3,128.5 554.3,128.8 554.3,129.1 554.3,129.4 554.3,129.7 554.3,130.0 554.3,130.3 554.3,130.6 554.4,130.9 554.4,131.2 554.4,131.5 554.4,131.8 554.4,132.1 554.4,132.4 554.5,132.7 554.5,133.0 554.5,133.3 554.5,133.6 554.5,133.9 554.6,134.2 554.6,134.5 554.6,134.8 554.6,135.1 554.6,135.4 554.6,135.7 554.7,136.0 554.7,136.3 554.7,136.6 554.7,136.9 554.7,137.1 554.8,137.4 554.8,137.7 554.8,138.0 554.8,138.3 554.8,138.6 554.8,138.9 554.9,139.2 554.9,139.5 554.9,139.8 554.9,140.1 554.9,140.4 555.0,140.7 555.0,141.0 555.0,141.3 555.0,141.6 555.0,141.9 555.0,142.2 555.1,142.5 555.1,142.8 555.1,143.1 555.1,143.4 555.1,143.7 555.1,144.0 555.2,144.3 555.2,144.6 555.2,144.9 555.2,145.2 555.2,145.5 555.3,145.8 555.3,146.1 555.3,146.4 555.3,146.7 555.3,147.0 555.3,147.3 555.4,147.6 555.4,147.9 555.4,148.2 555.4,148.5 555.4,148.8 555.5,149.1 555.5,149.4 555.5,149.7 555.5,150.0 555.5,150.3 555.5,150.6 555.6,150.9 555.6,151.1 555.6,151.4 555.6,151.7 555.6,152.0 555.7,152.3 555.7,152.6 555.7,152.9 555.7,153.2 555.7,153.5 555.7,153.8 555.8,154.1 555.8,154.4 555.8,154.7 555.8,155.0 555.8,155.3 555.9,155.6 555.9,155.9 555.9,156.2 555.9,156.5 555.9,156.8 555.9,157.1 556.0,157.4 556.0,157.7 556.0,158.0 556.0,158.3 556.0,158.6 556.0,158.9 556.0,159.2 556.1,159.5 556.1,159.8 556.1,160.1 556.1,160.4 556.1,160.7 556.1,161.0 556.1,161.3 556.1,161.6 556.1,161.9 556.2,162.2 556.2,162.5 556.2,162.8 556.2,163.1 556.2,163.4 556.2,163.7 556.2,164.0 556.2,164.3 556.2,164.6 556.3,164.9 556.3,165.2 556.3,165.5 556.3,165.8 556.3,166.1 556.3,166.4 556.3,166.7 556.3,167.0 556.3,167.3 556.4,167.6 556.4,167.9 556.4,168.2 556.4,168.5 556.4,168.8 556.4,169.1 556.4,169.4 556.4,169.7 556.4,170.0 556.5,170.2 556.5,170.5 556.5,170.8 556.5,171.1 556.5,171.4 556.5,171.7 556.5,172.0 556.5,172.3 556.5,172.6 556.5,172.9 556.6,173.2 556.6,173.5 556.6,173.8 556.6,174.1 556.6,174.4 556.6,174.7 556.6,175.0 556.6,175.3 556.6,175.6 556.7,175.9 556.7,176.2 556.7,176.5 556.7,176.8 556.7,177.1 556.7,177.4 556.7,177.7 556.7,178.0 556.7,178.3 556.8,178.6 556.8,178.9 556.8,179.2 556.8,179.5 556.8,179.8 556.8,180.1 556.8,180.4 556.8,180.7 556.8,181.0 556.9,181.3 556.9,181.6 556.9,181.9 556.9,182.2 556.9,182.5 556.9,182.8 556.9,183.1 557.0,183.4 557.0,183.7 557.0,184.0 557.0,184.3 557.0,184.6 557.1,184.9 557.1,185.2 557.1,185.5 557.1,185.8 557.1,186.1 557.1,186.4 557.2,186.7 557.2,187.0 557.2,187.3 557.2,187.6 557.2,187.9 557.3,188.2 557.3,188.5 557.3,188.8 557.3,189.1 557.3,189.4 557.4,189.7 557.4,190.0 557.4,190.3 557.4,190.6 557.4,190.9 557.5,191.2 557.5,191.5 557.5,191.8 557.5,192.1 557.5,192.4 557.5,192.8 557.6,193.1 557.6,193.4 557.6,193.7 557.6,194.0 557.6,194.3 557.7,194.6 557.7,194.9 557.7,195.2 557.7,195.5 557.7,195.8 557.8,196.1 557.8,196.4 557.8,196.7 557.8,197.0 557.8,197.3 557.9,197.6 557.9,197.9 557.9,198.2 557.9,198.5 557.9,198.8 558.0,199.1 558.0,199.4 558.0,199.7 558.0,200.0 558.0,200.3 558.0,200.6 558.1,200.9 558.1,201.2 558.1,201.5 558.1,201.8 558.1,202.1 558.2,202.4 558.2,202.7 558.2,203.0 558.2,202.7 558.2,202.4 558.2,202.1 558.2,201.8 558.3,201.5 558.3,201.2 558.3,200.9 558.3,200.6 558.3,200.3 558.3,200.0 558.3,199.7 558.3,199.4 558.3,199.1 558.3,198.8 558.4,198.5 558.4,198.2 558.4,197.9 558.4,197.6 558.4,197.3 558.4,197.0 558.4,196.7 558.4,196.4 558.4,196.1 558.4,195.8 558.5,195.5 558.5,195.2 558.5,194.9 558.5,194.6 558.5,194.3 558.5,194.0 558.5,193.7 558.5,193.4 558.5,193.1 558.5,192.8 558.6,192.4 558.6,192.1 558.6,191.8 558.6,191.5 558.6,191.2 558.6,190.9 558.6,190.6 558.6,190.3 558.6,190.0 558.7,189.7 558.7,189.4 558.7,189.1 558.7,188.8 558.7,188.5 558.7,188.2 558.7,187.9 558.7,187.6 558.7,187.3 558.7,187.0 558.8,186.7 558.8,186.4 558.8,186.1 558.8,185.8 558.8,185.5 558.8,185.2 558.8,184.9 558.8,184.6 558.8,184.3 558.8,184.0 558.9,183.7 558.9,183.4 558.9,183.1 558.9,182.8 558.9,182.5 558.9,182.2 558.9,181.9 558.9,181.6 559.0,181.3 559.0,181.0 559.0,180.7 559.0,180.4 559.0,180.1 559.0,179.8 559.0,179.5 559.1,179.2 559.1,178.9 559.1,178.6 559.1,178.3 559.1,178.0 559.1,177.7 559.1,177.4 559.2,177.1 559.2,176.8 559.2,176.5 559.2,176.2 559.2,175.9 559.2,175.6 559.2,175.3 559.3,175.0 559.3,174.7 559.3,174.4 559.3,174.1 559.3,173.8 559.3,173.5 559.3,173.2 559.4,172.9 559.4,172.6 559.4,172.3 559.4,172.0 559.4,171.7 559.4,171.4 559.4,171.1 559.5,170.8 559.5,170.5 559.5,170.2 559.5,169.9 559.5,169.6 559.5,169.3 559.5,169.0 559.6,168.7 559.6,168.4 559.6,168.1 559.6,167.8 559.6,167.5 559.6,167.2 559.6,166.9 559.7,166.6 559.7,166.3 559.7,166.0 559.7,165.7 559.7,165.4 559.7,165.1 559.7,164.8 559.8,164.5 559.8,164.2 559.8,163.9 559.8,163.6 559.8,163.3 559.8,163.0 559.8,162.7 559.9,162.4 559.9,162.1 559.9,161.8 559.9,161.5 559.9,161.2 559.9,160.9 559.9,160.6 560.0,160.3 560.0,160.0 560.0,159.7 560.0,159.4 560.0,159.1 560.0,158.8 560.0,158.5 560.1,158.2 560.1,157.9 560.1,157.6 560.1,157.3 560.1,157.0 560.1,156.7 560.1,156.4 560.2,156.1 560.2,155.8 560.2,155.5 560.2,155.2 560.2,154.9 560.2,154.6 560.2,154.3 560.3,154.0 560.3,153.7 560.3,153.4 560.3,153.1 560.3,152.8 560.3,152.5 560.3,152.2 560.4,151.9 560.4,151.6 560.4,151.3 560.4,151.0 560.4,150.7 560.4,150.4 560.5,150.1 560.5,149.8 560.5,149.5 560.5,149.2 560.5,148.9 560.6,148.6 560.6,148.3 560.6,148.0 560.6,147.7 560.6,147.4 560.7,147.1 560.7,146.8 560.7,146.5 560.7,146.2 560.7,145.9 560.8,145.6 560.8,145.3 560.8,145.0 560.8,144.7 560.8,144.4 560.9,144.1 560.9,143.8 560.9,143.5 560.9,143.2 560.9,142.9 561.0,142.6 561.0,142.3 561.0,142.0 561.0,141.7 561.0,141.4 561.1,141.1 561.1,140.8 561.1,140.5 561.1,140.2 561.1,139.9 561.2,139.6 561.2,139.3 561.2,139.0 561.2,138.7 561.2,138.4 561.2,138.1 561.3,137.8 561.3,137.5 561.3,137.2 561.3,136.9 561.3,136.6 561.4,136.3 561.4,136.0 561.4,135.7 561.4,135.4 561.4,135.1 561.5,134.8 561.5,134.5 561.5,134.2 561.5,133.9 561.5,133.6 561.6,133.3 561.6,133.0 561.6,132.7 561.6,132.4 561.6,132.1 561.7,131.8 561.7,131.5 561.7,131.2 561.7,130.9 561.7,130.6 561.8,130.3 561.8,130.0 561.8,129.7 561.8,129.4 561.8,129.1 561.9,128.8 561.9,128.5 561.9,128.2 561.9,127.9 561.9,127.6 562.0,127.3 562.0,127.0 562.0,126.7 562.0,126.4 562.0,126.1 562.1,125.8 562.1,125.5 562.1,125.2 562.1,125.5 562.1,125.8 562.2,126.1 562.2,126.4 562.2,126.7 562.2,127.0 562.3,127.3 562.3,127.6 562.3,127.9 562.4,128.2 562.4,128.5 562.4,128.8 562.4,129.1 562.5,129.4 562.5,129.7 562.5,130.0 562.5,130.3 562.6,130.6 562.6,130.9 562.6,131.2 562.6,131.5 562.6,131.8 562.7,132.1 562.7,132.4 562.7,132.7 562.8,133.0 562.8,133.3 562.8,133.6 562.8,133.9 562.9,134.2 562.9,134.5 562.9,134.8 562.9,135.1 563.0,135.4 563.0,135.7 563.0,136.0 563.0,136.3 563.0,136.6 563.1,136.9 563.1,137.2 563.1,137.5 563.1,137.8 563.2,138.1 563.2,138.4 563.2,138.7 563.2,139.0 563.3,139.3 563.3,139.6 563.3,139.9 563.4,140.2 563.4,140.5 563.4,140.8 563.4,141.1 563.5,141.4 563.5,141.7 563.5,142.0 563.5,142.3 563.5,142.6 563.5,142.9 563.6,143.2 563.6,143.5 563.6,143.8 563.6,144.1 563.6,144.4 563.6,144.7 563.6,145.0 563.7,145.3 563.7,145.6 563.7,145.9 563.7,146.2 563.7,146.5 563.7,146.8 563.7,147.1 563.8,147.4 563.8,147.7 563.8,148.0 563.8,148.3 563.8,148.6 563.8,148.9 563.8,149.2 563.9,149.5 563.9,149.8 563.9,150.1 563.9,150.4 563.9,150.7 563.9,151.0 563.9,151.3 564.0,151.6 564.0,151.9 564.0,152.2 564.0,152.5 564.0,152.8 564.0,153.1 564.0,153.4 564.1,153.7 564.1,154.0 564.1,154.3 564.1,154.6 564.1,154.9 564.1,155.2 564.1,155.6 564.2,155.9 564.2,156.2 564.2,156.5 564.2,156.8 564.2,157.1 564.2,157.4 564.2,157.7 564.3,158.0 564.3,158.3 564.3,158.6 564.3,158.9 564.3,159.2 564.3,159.5 564.3,159.8 564.4,160.1 564.4,160.4 564.4,160.7 564.4,161.0 564.4,161.3 564.4,161.6 564.4,161.9 564.5,162.2 564.5,162.5 564.5,162.8 564.5,163.1 564.5,163.4 564.5,163.7 564.5,164.0 564.6,164.3 564.6,164.6 564.6,164.9 564.6,165.2 564.6,165.5 564.6,165.8 564.6,166.1 564.7,166.4 564.7,166.7 564.7,167.0 564.7,167.3 564.7,167.6 564.7,167.9 564.7,168.2 564.8,168.5 564.8,168.8 564.8,169.1 564.8,169.4 564.8,169.7 564.8,170.0 564.8,170.3 564.8,170.6 564.9,170.9 564.9,171.2 564.9,171.5 564.9,171.8 564.9,172.1 564.9,172.4 564.9,172.7 565.0,173.0 565.0,173.3 565.0,173.6 565.0,173.9 565.0,174.2 565.0,174.5 565.0,174.8 565.1,175.1 565.1,175.4 565.1,175.7 565.1,176.0 565.1,176.3 565.1,176.6 565.1,176.9 565.2,177.2 565.2,177.5 565.2,177.8 565.2,178.1 565.2,178.4 565.2,178.7 565.2,179.0 565.2,179.3 565.3,179.6 565.3,179.9 565.3,180.2 565.3,180.5 565.3,180.8 565.3,181.1 565.3,181.4 565.4,181.7 565.4,182.0 565.4,182.3 565.4,182.6 565.4,182.9 565.4,183.2 565.4,183.5 565.5,183.8 565.5,184.1 565.5,184.4 565.5,184.7 565.5,185.0 565.5,185.3 565.5,185.6 565.6,185.9 565.6,186.2 565.6,186.5 565.6,186.8 565.6,187.1 565.6,187.4 565.6,187.7 565.6,188.0 565.7,188.3 565.7,188.6 565.7,188.9 565.7,189.2 565.7,189.5 565.7,189.8 565.7,190.1 565.8,190.4 565.8,190.7 565.8,191.0 565.8,191.3 565.8,191.6 565.8,191.9 565.8,192.2 565.9,192.5 565.9,192.8 565.9,193.1 565.9,193.4 565.9,193.7 565.9,194.0 565.9,194.3 566.0,194.6 566.0,194.9 566.0,195.2 566.0,195.5 566.0,195.8 566.0,196.1 566.0,196.4 566.0,196.7 566.1,197.0 566.1,197.3 566.1,197.6 566.1,197.9 566.1,198.2 566.1,198.5 566.1,198.8 566.2,199.1 566.2,199.4 566.2,199.7 566.2,200.0 566.2,200.3 566.2,200.6 566.2,200.9 566.2,201.2 566.2,201.5 566.2,201.8 566.2,202.1 566.2,202.4 566.3,202.7 566.3,203.0 566.3,203.3 566.3,203.6 566.3,203.9 566.3,204.2 566.3,204.5 566.3,204.8 566.3,205.1 566.3,205.4 566.3,205.7 566.3,206.0 566.3,206.3 566.3,206.6 566.3,206.9 566.3,207.2 566.3,207.5 566.3,207.8 566.4,208.1 566.4,208.4 566.4,208.7 566.4,209.0 566.4,209.3 566.4,209.6 566.4,209.9 566.4,210.2 566.4,210.5 566.4,210.8 566.4,211.1 566.4,211.4 566.4,211.7 566.4,212.0 566.4,212.3 566.4,212.6 566.4,212.9 566.4,213.2 566.5,213.5 566.5,213.8 566.5,214.1 566.5,214.4 566.5,214.7 566.5,215.0 566.5,215.3 566.5,215.6 566.5,215.9 566.5,216.2 566.5,216.5 566.5,216.8 566.5,217.1 566.5,217.4 566.5,217.7 566.5,218.0 566.5,218.3 566.5,218.6 566.6,218.9 566.6,219.2 566.6,219.5 566.6,219.8 566.6,220.1 566.6,220.4 566.6,220.7 566.6,221.0 566.6,221.2 566.6,221.5 566.6,221.8 566.6,222.1 566.6,222.4 566.6,222.7 566.6,223.0 566.6,223.3 566.6,223.6 566.7,223.9 566.7,224.2 566.7,224.5 566.7,224.8 566.7,225.1 566.7,225.4 566.7,225.7 566.7,226.0 566.7,226.3 566.7,226.6 566.7,226.9 566.7,227.2 566.7,227.5 566.7,227.8 566.7,228.1 566.7,228.4 566.7,228.7 566.7,229.0 566.8,229.3 566.8,229.6 566.8,229.9 566.8,230.2 566.8,230.5 566.8,230.8 566.8,231.1 566.8,231.4 566.8,231.7 566.8,232.0 566.8,232.3 566.8,232.6 566.8,232.9 566.8,233.2 566.8,233.5 566.8,233.8 566.8,234.1 566.8,234.4 566.9,234.7 566.9,235.0 566.9,235.3 566.9,235.6 566.9,235.9 566.9,236.2 566.9,236.5 566.9,236.8 566.9,237.1 566.9,237.4 566.9,237.7 566.9,238.0 566.9,238.3 566.9,238.6 566.9,238.9 566.9,239.2 566.9,239.5 566.9,239.8 567.0,240.1 567.0,240.4 567.0,240.7 567.0,241.0 567.0,241.3 567.0,241.6 567.0,241.9 567.0,242.2 567.0,242.5 567.0,242.8 567.0,243.1 567.0,243.4 567.1,243.7 567.1,244.0 567.1,244.3 567.1,244.6 567.1,244.9 567.1,245.2 567.1,245.5 567.2,245.8 567.2,246.1 567.2,246.4 567.2,246.7 567.2,247.0 567.2,247.3 567.2,247.6 567.2,247.9 567.3,248.2 567.3,248.5 567.3,248.8 567.3,249.1 567.3,249.4 567.3,249.7 567.3,250.0 567.4,250.3 567.4,250.6 567.4,250.9 567.4,251.2 567.4,251.5 567.4,251.8 567.4,252.1 567.5,252.4 567.5,252.7 567.5,253.0 567.5,253.3 567.5,253.6 567.5,253.9 567.5,254.2 567.5,254.5 567.6,254.8 567.6,255.1 567.6,255.4 567.6,255.7 567.6,256.0 567.6,256.3 567.6,256.6 567.7,256.9 567.7,257.2 567.7,257.5 567.7,257.8 567.7,258.1 567.7,258.4 567.7,258.7 567.8,259.0 567.8,259.3 567.8,259.6 567.8,259.9 567.8,260.1 567.8,260.4 567.8,260.7 567.8,261.0 567.9,261.3 567.9,261.6 567.9,261.9 567.9,262.2 567.9,262.5 567.9,262.8 567.9,263.1 568.0,263.4 568.0,263.7 568.0,264.0 568.0,264.3 568.0,264.6 568.0,264.9 568.0,265.2 568.1,265.5 568.1,265.8 568.1,266.1 568.1,266.4 568.1,266.7 568.1,267.0 568.1,267.3 568.1,267.6 568.2,267.9 568.2,268.2 568.2,268.5 568.2,268.8 568.2,269.1 568.2,269.4 568.2,269.7 568.3,270.0 568.3,270.3 568.3,270.6 568.3,270.9 568.3,271.2 568.3,271.5 568.3,271.8 568.4,272.1 568.4,272.4 568.4,272.7 568.4,273.0 568.4,273.3 568.4,273.6 568.4,273.9 568.4,274.2 568.5,274.5 568.5,274.8 568.5,275.1 568.5,275.4 568.5,275.7 568.5,276.0 568.5,276.3 568.6,276.6 568.6,276.9 568.6,277.2 568.6,277.5 568.6,277.8 568.6,278.1 568.6,278.4 568.6,278.7 568.7,279.0 568.7,279.3 568.7,279.6 568.7,279.9 568.7,280.2 568.7,280.5 568.7,280.8 568.7,281.1 568.8,281.4 568.8,281.7 568.8,282.0 568.8,282.3 568.8,282.6 568.8,282.9 568.8,283.2 568.8,283.5 568.9,283.8 568.9,284.1 568.9,284.4 568.9,284.7 568.9,285.0 568.9,285.3 568.9,285.6 568.9,285.9 568.9,286.2 569.0,286.5 569.0,286.8 569.0,287.1 569.0,287.4 569.0,287.7 569.0,288.0 569.0,288.3 569.0,288.6 569.1,288.9 569.1,289.2 569.1,289.5 569.1,289.8 569.1,290.1 569.1,290.4 569.1,290.7 569.1,291.0 569.2,291.3 569.2,291.6 569.2,291.9 569.2,292.2 569.2,292.5 569.2,292.8 569.2,293.1 569.2,293.4 569.2,293.7 569.3,294.0 569.3,294.3 569.3,294.6 569.3,294.9 569.3,295.1 569.3,295.4 569.3,295.7 569.3,296.0 569.4,296.3 569.4,296.6 569.4,296.9 569.4,297.2 569.4,297.5 569.4,297.8 569.4,298.1 569.4,298.4 569.4,298.7 569.5,299.0 569.5,299.3 569.5,299.6 569.5,299.9 569.5,300.2 569.5,300.5 569.5,300.8 569.5,301.1 569.6,301.4 569.6,301.7 569.6,302.0 569.6,302.3 569.6,302.6 569.6,302.9 569.6,303.2 569.6,303.5 569.7,303.8 569.7,304.1 569.7,304.4 569.7,304.7 569.7,305.0 569.7,305.3 569.7,305.6 569.7,305.9 569.7,306.2 569.8,306.5 569.8,306.8 569.8,307.1 569.8,307.4 569.8,307.7 569.8,308.0 569.8,308.3 569.8,308.6 569.9,308.9 569.9,309.2 569.9,309.5 569.9,309.8 569.9,310.1 569.9,310.4 569.9,310.7 569.9,311.0 570.0,311.3 570.0,311.6 570.0,311.9 570.0,312.2 570.0,312.5 570.0,312.8 570.0,313.1 570.0,313.4 570.1,313.7 570.1,314.0 570.1,314.3 570.1,314.6 570.1,314.9 570.1,315.2 570.2,315.5 570.2,315.8 570.2,316.1 570.2,316.4 570.2,316.7 570.2,317.0 570.2,317.3 570.3,317.6 570.3,317.9 570.3,318.2 570.3,318.5 570.3,318.8 570.3,319.1 570.4,319.4 570.4,319.7 570.4,320.0 570.4,320.3 570.4,320.6 570.4,320.9 570.5,321.2 570.5,321.6 570.5,321.9 570.5,322.2 570.5,322.5 570.5,322.8 570.5,323.1 570.6,323.4 570.6,323.7 570.6,324.0 570.6,324.3 570.6,324.6 570.6,324.9 570.7,325.2 570.7,325.5 570.7,325.8 570.7,326.1 570.7,326.4 570.7,326.7 570.7,327.0 570.8,327.3 570.8,327.6 570.8,327.9 570.8,328.2 570.8,328.5 570.8,328.8 570.9,329.1 570.9,329.4 570.9,329.7 570.9,330.0 570.9,330.3 570.9,330.6 570.9,330.9 571.0,331.2 571.0,331.5 571.0,331.8 571.0,332.1 571.0,332.4 571.0,332.7 571.0,333.0 571.0,333.3 571.1,333.6 571.1,333.9 571.1,334.2 571.1,334.5 571.1,334.8 571.1,335.1 571.1,335.4 571.2,335.7 571.2,336.0 571.2,336.3 571.2,336.6 571.2,336.9 571.2,337.2 571.2,337.5 571.2,337.8 571.3,338.1 571.3,338.4 571.3,338.7 571.3,339.0 571.3,339.3 571.3,339.6 571.3,339.9 571.4,340.2 571.4,340.5 571.4,340.8 571.4,341.1 571.4,341.4 571.4,341.7 571.4,342.0 571.4,342.3 571.5,342.6 571.5,342.9 571.5,343.2 571.5,343.5 571.5,343.8 571.5,344.1 571.5,344.4 571.6,344.7 571.6,345.0 571.6,345.3 571.6,345.6 571.6,345.9 571.6,346.2 571.6,346.5 571.6,346.8 571.7,347.2 571.7,347.5 571.7,347.8 571.7,348.1 571.7,348.4 571.7,348.7 571.7,349.0 571.7,349.3 571.8,349.6 571.8,349.9 571.8,350.2 571.8,350.5 571.8,350.8 571.8,351.1 571.8,351.4 571.9,351.7 571.9,352.0 571.9,352.3 571.9,352.6 571.9,352.9 571.9,353.2 571.9,353.5 571.9,353.8 572.0,354.1 572.0,354.4 572.0,354.7 572.0,355.0 572.0,355.3 572.0,355.6 572.0,355.9 572.1,356.2 572.1,356.5 572.1,356.8 572.1,357.1 572.1,357.4 572.1,357.7 572.1,358.0 572.1,358.3 572.2,358.6 572.2,358.9 572.2,359.2 572.2,359.5 572.2,359.8 572.2,360.1 572.2,360.4 572.3,360.7 572.3,361.0 572.3,361.3 572.3,361.6 572.3,361.9 572.3,362.2 572.3,362.5 572.3,362.8 572.4,363.1 572.4,363.4 572.4,363.7 572.4,364.0 572.4,363.7 572.4,363.4 572.5,363.1 572.5,362.8 572.5,362.5 572.5,362.2 572.6,361.9 572.6,361.6 572.6,361.3 572.6,361.0 572.6,360.7 572.7,360.4 572.7,360.1 572.7,359.8 572.7,359.5 572.8,359.2 572.8,358.9 572.8,358.6 572.8,358.3 572.8,358.0 572.9,357.7 572.9,357.4 572.9,357.1 572.9,356.8 572.9,356.5 573.0,356.2 573.0,355.9 573.0,355.6 573.0,355.4 573.1,355.1 573.1,354.8 573.1,354.5 573.1,354.2 573.1,353.9 573.2,353.6 573.2,353.3 573.2,353.0 573.2,352.7 573.3,352.4 573.3,352.1 573.3,351.8 573.3,351.5 573.3,351.2 573.4,350.9 573.4,350.6 573.4,350.3 573.4,350.0 573.5,349.7 573.5,349.4 573.5,349.1 573.5,348.8 573.5,348.5 573.6,348.2 573.6,347.9 573.6,347.6 573.6,347.3 573.6,347.0 573.7,346.7 573.7,346.4 573.7,346.1 573.7,345.8 573.8,345.5 573.8,345.2 573.8,344.9 573.8,344.6 573.8,344.3 573.9,344.0 573.9,343.7 573.9,343.4 573.9,343.1 574.0,342.8 574.0,342.5 574.0,342.2 574.0,341.9 574.0,341.6 574.1,341.3 574.1,341.0 574.1,340.7 574.1,340.4 574.2,340.1 574.2,339.8 574.2,339.5 574.2,339.2 574.2,338.9 574.3,338.6 574.3,338.4 574.3,338.1 574.3,337.8 574.4,337.5 574.4,337.2 574.4,336.9 574.4,336.6 574.4,336.3 574.5,336.0 574.5,335.7 574.5,335.4 574.5,335.1 574.5,334.8 574.6,334.5 574.6,334.2 574.6,333.9 574.6,333.6 574.7,333.3 574.7,333.0 574.7,332.7 574.7,332.4 574.7,332.1 574.8,331.8 574.8,331.5 574.8,331.2 574.8,330.9 574.9,330.6 574.9,330.3 574.9,330.0 574.9,329.7 574.9,329.4 574.9,329.1 574.9,328.8 574.9,328.5 574.9,328.2 574.9,327.9 575.0,327.6 575.0,327.3 575.0,327.0 575.0,326.7 575.0,326.4 575.0,326.1 575.0,325.8 575.0,325.5 575.0,325.2 575.0,324.9 575.0,324.6 575.0,324.3 575.0,324.0 575.0,323.7 575.1,323.4 575.1,323.1 575.1,322.8 575.1,322.5 575.1,322.2 575.1,321.9 575.1,321.6 575.1,321.2 575.1,320.9 575.1,320.6 575.1,320.3 575.1,320.0 575.1,319.7 575.1,319.4 575.1,319.1 575.2,318.8 575.2,318.5 575.2,318.2 575.2,317.9 575.2,317.6 575.2,317.3 575.2,317.0 575.2,316.7 575.2,316.4 575.2,316.1 575.2,315.8 575.2,315.5 575.2,315.2 575.2,314.9 575.3,314.6 575.3,314.3 575.3,314.0 575.3,313.7 575.3,313.4 575.3,313.1 575.3,312.8 575.3,312.5 575.3,312.2 575.3,311.9 575.3,311.6 575.4,311.3 575.4,311.0 575.4,310.7 575.4,310.4 575.4,310.1 575.4,309.8 575.4,309.5 575.5,309.2 575.5,308.9 575.5,308.6 575.5,308.3 575.5,308.0 575.5,307.7 575.5,307.4 575.5,307.1 575.6,306.8 575.6,306.5 575.6,306.2 575.6,305.9 575.6,305.6 575.6,305.3 575.6,305.0 575.7,304.7 575.7,304.4 575.7,304.1 575.7,303.8 575.7,303.4 575.7,303.1 575.7,302.8 575.8,302.5 575.8,302.2 575.8,301.9 575.8,301.6 575.8,301.3 575.8,301.0 575.8,300.7 575.9,300.4 575.9,300.1 575.9,299.8 575.9,299.5 575.9,299.2 575.9,298.9 575.9,298.6 575.9,298.3 576.0,298.0 576.0,297.7 576.0,297.4 576.0,297.1 576.0,296.8 576.0,296.5 576.0,296.2 576.1,295.9 576.1,295.6 576.1,295.3 576.1,295.0 576.1,294.7 576.2,294.4 576.2,294.1 576.3,293.8 576.3,293.5 576.3,293.2 576.4,292.9 576.4,292.6 576.5,292.3 576.5,292.0 576.5,291.7 576.6,291.4 576.6,291.1 576.6,290.8 576.7,290.6 576.7,290.3 576.8,290.0 576.8,289.7 576.8,289.4 576.9,289.1 576.9,288.8 577.0,288.5 577.0,288.2 577.0,287.9 577.1,287.6 577.1,287.3 577.2,287.0 577.2,286.7 577.2,286.4 577.3,286.1 577.3,285.8 577.3,285.5 577.4,285.2 577.4,284.9 577.5,284.6 577.5,284.3 577.5,284.0 577.6,283.7 577.6,283.4 577.7,283.1 577.7,282.8 577.7,282.5 577.8,282.2 577.8,281.9 577.9,281.7 577.9,281.4 577.9,281.1 578.0,280.8 578.0,280.5 578.0,280.2 578.1,279.9 578.1,279.6 578.2,279.3 578.2,279.0 578.2,278.7 578.3,278.4 578.3,278.1 578.4,277.8 578.4,277.5 578.4,277.2 578.4,276.9 578.4,276.6 578.5,276.3 578.5,276.0 578.5,275.7 578.5,275.4 578.5,275.1 578.5,274.8 578.5,274.5 578.5,274.2 578.6,273.9 578.6,273.6 578.6,273.3 578.6,273.0 578.6,272.7 578.6,272.4 578.6,272.1 578.6,271.8 578.7,271.5 578.7,271.2 578.7,270.9 578.7,270.6 578.7,270.3 578.7,270.0 578.7,269.7 578.7,269.4 578.8,269.1 578.8,268.8 578.8,268.5 578.8,268.2 578.8,267.9 578.8,267.6 578.8,267.3 578.9,267.0 578.9,266.7 578.9,266.4 578.9,266.1 578.9,265.8 578.9,265.5 578.9,265.2 578.9,264.9 579.0,264.6 579.0,264.3 579.0,264.0 579.0,263.7 579.0,263.4 579.0,263.1 579.0,262.8 579.0,262.5 579.1,262.2 579.1,261.9 579.1,261.6 579.1,261.3 579.1,261.0 579.1,260.7 579.1,260.4 579.2,260.1 579.2,259.8 579.2,259.5 579.2,259.2 579.2,258.9 579.2,258.6 579.2,258.3 579.2,258.0 579.3,257.7 579.3,257.4 579.3,257.1 579.3,256.8 579.3,256.5 579.3,256.2 579.3,255.9 579.3,255.6 579.4,255.3 579.4,255.0 579.4,254.7 579.4,254.4 579.4,254.1 579.4,253.8 579.4,253.5 579.4,253.2 579.5,252.9 579.5,252.6 579.5,252.3 579.5,252.0 579.5,251.7 579.6,251.4 579.6,251.1 579.7,250.8 579.7,250.5 579.7,250.2 579.8,249.9 579.8,249.6 579.9,249.3 579.9,249.0 579.9,248.7 580.0,248.4 580.0,248.1 580.1,247.9 580.1,247.6 580.2,247.3 580.2,247.0 580.2,246.7 580.3,246.4 580.3,246.1 580.4,245.8 580.4,245.5 580.4,245.2 580.5,244.9 580.5,244.6 580.6,244.3 580.6,244.0 580.6,243.7 580.6,243.4 580.6,243.1 580.6,242.8 580.6,242.5 580.6,242.2 580.6,241.9 580.6,241.6 580.6,241.3 580.6,241.0 580.7,240.7 580.7,240.4 580.7,240.1 580.7,239.8 580.7,239.5 580.7,239.2 580.7,238.9 580.7,238.6 580.7,238.3 580.7,238.0 580.7,237.7 580.7,237.4 580.7,237.1 580.7,236.8 580.7,236.5 580.7,236.2 580.7,235.9 580.7,235.6 580.7,235.3 580.7,235.0 580.7,234.7 580.8,234.3 580.8,234.0 580.8,233.7 580.8,233.4 580.8,233.1 580.8,232.8 580.8,232.5 580.8,232.2 580.8,231.9 580.8,231.6 580.8,231.3 580.8,231.0 580.8,230.7 580.8,230.4 580.8,230.1 580.8,229.8 580.8,229.5 580.8,229.2 580.8,228.9 580.8,228.6 580.8,228.3 580.9,228.0 580.9,227.7 580.9,227.4 580.9,227.1 580.9,226.8 580.9,226.5 580.9,226.2 580.9,225.9 580.9,225.6 580.9,225.3 580.9,225.0 580.9,224.7 580.9,224.4 580.9,224.1 580.9,223.8 580.9,223.5 580.9,223.2 580.9,222.9 581.0,222.6 581.0,222.3 581.0,222.0 581.0,221.7 581.0,221.4 581.0,221.1 581.0,220.8 581.0,220.5 581.0,220.2 581.0,219.9 581.0,219.6 581.0,219.3 581.0,219.0 581.0,218.7 581.0,218.4 581.1,218.1 581.1,217.8 581.1,217.5 581.1,217.2 581.1,216.9 581.1,216.6 581.1,216.3 581.1,216.0 581.1,215.7 581.1,215.4 581.1,215.1 581.1,214.8 581.1,214.5 581.1,214.2 581.1,213.9 581.2,213.7 581.2,213.4 581.2,213.1 581.2,212.8 581.2,212.5 581.2,212.2 581.2,211.9 581.2,211.6 581.2,211.3 581.2,211.0 581.2,210.7 581.2,210.4 581.2,210.1 581.2,209.8 581.2,209.5 581.3,209.2 581.3,208.9 581.3,208.6 581.3,208.3 581.3,208.0 581.3,207.7 581.3,207.4 581.3,207.1 581.3,206.8 581.3,206.5 581.3,206.2 581.3,205.9 581.3,205.6 581.3,205.3 581.3,205.0 581.4,204.7 581.4,204.4 581.4,204.1 581.4,203.8 581.4,203.5 581.4,203.2 581.4,202.9 581.4,202.6 581.5,202.9 581.5,203.2 581.6,203.5 581.7,203.8 581.8,204.0 581.8,204.3 581.9,204.6 582.0,204.9 582.0,205.2 582.1,205.5 582.2,205.8 582.2,206.1 582.3,206.3 582.4,206.6 582.5,206.9 582.5,207.2 582.6,207.5 582.6,207.8 582.6,208.1 582.6,208.4 582.6,208.7 582.6,209.0 582.7,209.3 582.7,209.6 582.7,209.9 582.7,210.2 582.7,210.5 582.7,210.8 582.7,211.1 582.7,211.4 582.7,211.7 582.7,212.0 582.8,212.3 582.8,212.6 582.8,212.9 582.8,213.2 582.8,213.5 582.8,213.8 582.8,214.1 582.8,214.4 582.8,214.7 582.8,215.0 582.9,215.3 582.9,215.6 582.9,215.9 582.9,216.2 582.9,216.5 582.9,216.8 582.9,217.1 582.9,217.4 582.9,217.7 582.9,218.0 582.9,218.3 583.0,218.6 583.0,218.9 583.0,219.2 583.0,219.5 583.0,219.8 583.0,220.1 583.0,220.4 583.0,220.7 583.0,221.0 583.0,221.3 583.1,221.7 583.1,222.0 583.1,222.3 583.1,222.6 583.1,222.9 583.1,223.2 583.1,223.5 583.1,223.8 583.1,224.1 583.1,224.4 583.2,224.7 583.2,225.0 583.2,225.3 583.2,225.6 583.2,225.9 583.2,226.2 583.2,226.5 583.2,226.8 583.2,227.1 583.2,227.4 583.2,227.7 583.3,228.0 583.3,228.3 583.3,228.6 583.3,228.9 583.3,229.2 583.3,229.5 583.3,229.8 583.3,230.1 583.3,230.4 583.3,230.7 583.4,231.0 583.4,231.3 583.4,231.6 583.4,231.9 583.4,232.2 583.4,232.5 583.4,232.8 583.4,233.1 583.4,233.4 583.4,233.7 583.5,234.0 583.5,234.3 583.5,234.6 583.5,234.9 583.5,235.2 583.5,235.5 583.5,235.8 583.5,236.1 583.5,236.4 583.5,236.7 583.6,237.0 583.6,237.3 583.6,237.6 583.6,237.9 583.6,238.2 583.6,238.5 583.6,238.8 583.6,239.1 583.7,239.4 583.7,239.7 583.7,240.0 583.7,240.3 583.7,240.6 583.7,240.9 583.7,241.2 583.7,241.5 583.8,241.8 583.8,242.1 583.8,242.4 583.8,242.7 583.8,243.0 583.8,243.3 583.8,243.6 583.8,243.9 583.9,244.2 583.9,244.5 583.9,244.8 583.9,245.1 583.9,245.4 583.9,245.7 583.9,246.0 583.9,246.3 584.0,246.6 584.0,246.9 584.0,247.2 584.0,247.5 584.0,247.8 584.0,248.0 584.0,248.3 584.0,248.6 584.0,248.9 584.1,249.2 584.1,249.5 584.1,249.8 584.1,250.1 584.1,250.4 584.1,250.7 584.1,251.0 584.1,251.3 584.2,251.6 584.2,251.9 584.2,252.2 584.2,252.5 584.2,252.8 584.2,253.1 584.2,253.4 584.2,253.7 584.3,254.0 584.3,254.3 584.3,254.6 584.3,254.9 584.3,255.2 584.3,255.5 584.3,255.8 584.3,256.1 584.4,256.4 584.4,256.7 584.4,257.0 584.4,257.3 584.4,257.6 584.4,257.9 584.4,258.2 584.4,258.5 584.5,258.8 584.5,259.1 584.5,259.4 584.5,259.7 584.5,260.0 584.5,260.3 584.5,260.6 584.5,260.9 584.6,261.2 584.6,261.5 584.6,261.8 584.6,262.1 584.6,262.4 584.6,262.7 584.6,263.0 584.7,263.3 584.7,263.6 584.7,263.9 584.7,264.2 584.7,264.5 584.7,264.8 584.7,265.1 584.8,265.4 584.8,265.7 584.8,266.0 584.8,266.3 584.8,266.6 584.8,266.9 584.8,267.2 584.9,267.5 584.9,267.8 584.9,268.1 584.9,268.4 584.9,268.7 584.9,268.9 584.9,269.2 585.0,269.5 585.0,269.8 585.0,270.1 585.0,270.4 585.0,270.7 585.0,271.0 585.0,271.3 585.1,271.6 585.1,271.9 585.1,272.2 585.1,272.5 585.1,272.8 585.1,273.1 585.1,273.4 585.2,273.7 585.2,274.0 585.2,274.3 585.2,274.6 585.2,274.9 585.2,275.2 585.2,275.5 585.3,275.8 585.3,276.1 585.3,276.4 585.3,276.7 585.3,277.0 585.3,277.3 585.3,277.6 585.4,277.9 585.4,278.2 585.4,278.5 585.4,278.8 585.4,279.1 585.4,279.4 585.4,279.7 585.5,280.0 585.5,280.3 585.5,280.6 585.5,280.9 585.5,281.2 585.5,281.5 585.5,281.8 585.6,282.1 585.6,282.4 585.6,282.7 585.6,283.0 585.6,283.3 585.6,283.6 585.6,283.9 585.7,284.2 585.7,284.5 585.7,284.8 585.7,285.1 585.7,285.4 585.7,285.7 585.7,286.0 585.8,286.2 585.8,286.5 585.8,286.8 585.8,287.1 585.8,287.4 585.9,287.7 585.9,288.0 585.9,288.3 585.9,288.6 586.0,288.9 586.0,289.2 586.0,289.5 586.0,289.8 586.1,290.1 586.1,290.4 586.1,290.7 586.1,291.0 586.2,291.3 586.2,291.6 586.2,291.9 586.2,292.2 586.2,292.5 586.3,292.8 586.3,293.1 586.3,293.4 586.3,293.7 586.4,294.0 586.4,294.3 586.4,294.6 586.4,294.9 586.5,295.2 586.5,295.5 586.5,295.8 586.5,296.1 586.6,296.4 586.6,296.7 586.6,296.9 586.6,297.2 586.6,297.5 586.7,297.8 586.7,298.1 586.7,298.4 586.7,298.7 586.8,299.0 586.8,299.3 586.8,299.6 586.8,299.9 586.9,300.2 586.9,300.5 586.9,300.8 586.9,301.1 587.0,301.4 587.0,301.7 587.0,302.0 587.0,302.3 587.0,302.6 587.1,302.9 587.1,303.2 587.1,303.5 587.1,303.8 587.2,304.1 587.2,304.4 587.2,304.7 587.2,305.0 587.2,305.3 587.3,305.6 587.3,305.9 587.3,306.2 587.3,306.5 587.4,306.7 587.4,307.0 587.4,307.3 587.4,307.6 587.5,307.9 587.5,308.2 587.5,308.5 587.5,308.8 587.5,309.1 587.6,309.4 587.6,309.7 587.6,310.0 587.6,310.3 587.7,310.6 587.7,310.9 587.7,311.2 587.7,311.5 587.7,311.8 587.8,312.1 587.8,312.4 587.8,312.7 587.8,313.0 587.9,313.3 587.9,313.6 587.9,313.9 587.9,314.2 587.9,314.5 588.0,314.8 588.0,315.1 588.0,315.4 588.0,315.7 588.1,315.9 588.1,316.2 588.1,316.5 588.1,316.8 588.2,317.1 588.2,317.4 588.2,317.7 588.2,318.0 588.2,318.3 588.3,318.6 588.3,318.9 588.3,319.2 588.3,319.5 588.4,319.8 588.4,320.1 588.4,320.4 588.4,320.1 588.5,319.8 588.5,319.5 588.5,319.2 588.5,318.9 588.6,318.6 588.6,318.3 588.6,318.0 588.7,317.7 588.7,317.4 588.7,317.1 588.8,316.8 588.8,316.5 588.8,316.2 588.8,315.9 588.9,315.6 588.9,315.3 588.9,315.0 589.0,314.7 589.0,314.4 589.0,314.1 589.0,313.8 589.1,313.5 589.1,313.2 589.1,312.9 589.2,312.6 589.2,312.3 589.2,312.0 589.2,311.7 589.3,311.4 589.3,311.1 589.3,310.8 589.4,310.5 589.4,310.2 589.4,309.9 589.4,309.6 589.5,309.3 589.5,309.0 589.5,308.7 589.6,308.4 589.6,308.1 589.6,307.8 589.7,307.5 589.7,307.2 589.7,306.9 589.7,306.6 589.8,306.3 589.8,306.0 589.9,305.7 589.9,305.4 590.0,305.1 590.1,304.8 590.2,304.5 590.2,304.2 590.3,303.9 590.4,303.6 590.4,303.4 590.5,303.1 590.6,302.8 590.6,302.5 590.7,302.2 590.8,301.9 590.9,301.6 590.9,301.3 591.0,301.0 591.1,301.3 591.2,301.6 591.3,301.9 591.4,302.1 591.5,302.4 591.6,302.7 591.6,303.0 591.7,303.3 591.8,303.6 591.9,303.9 592.0,304.1 592.1,304.4 592.2,304.7 592.3,305.0 592.4,304.7 592.5,304.4 592.6,304.1 592.7,303.9 592.8,303.6 592.9,303.3 593.0,303.0 593.2,302.7 593.3,302.4 593.4,302.2 593.5,301.9 593.6,301.6 593.7,301.3 593.8,301.0 593.9,300.7 594.0,300.4 594.1,300.2 594.2,299.9 594.3,299.6 594.4,299.3 594.5,299.0 594.7,298.7 594.8,298.5 594.9,298.2 595.0,297.9 595.1,297.6 595.2,297.3 595.3,297.0 595.4,296.8 595.4,297.0 595.5,297.3 595.5,297.6 595.6,297.9 595.6,298.2 595.7,298.5 595.8,298.8 595.8,299.1 595.9,299.4 595.9,299.7 595.9,300.0 596.0,300.3 596.0,300.6 596.1,300.9 596.1,301.2 596.2,301.5 596.2,301.8 596.3,302.1 596.3,302.3 596.4,302.6 596.4,302.9 596.5,303.2 596.5,303.5 596.6,303.8 596.6,304.1 596.7,304.4 596.8,304.7 596.8,305.0 596.8,305.3 596.9,305.6 596.9,305.9 596.9,306.2 597.0,306.5 597.0,306.8 597.0,307.1 597.1,307.4 597.1,307.7 597.1,308.0 597.2,308.3 597.2,308.6 597.2,308.9 597.3,309.2 597.3,309.5 597.3,309.8 597.4,310.1 597.4,310.4 597.4,310.6 597.4,310.9 597.5,311.2 597.5,311.5 597.5,311.8 597.6,312.1 597.6,312.4 597.6,312.7 597.7,313.0 597.7,313.3 597.7,313.6 597.8,313.9 597.8,314.2 597.8,314.5 597.9,314.8 597.9,315.1 597.9,315.4 598.0,315.7 598.0,316.0 598.0,316.3 598.0,316.6 598.0,316.9 598.1,317.2 598.1,317.5 598.1,317.8 598.1,318.1 598.1,318.4 598.1,318.7 598.1,319.0 598.2,319.3 598.2,319.6 598.2,319.9 598.2,320.2 598.2,320.5 598.2,320.8 598.3,321.1 598.3,321.4 598.3,321.7 598.3,322.0 598.3,322.3 598.3,322.6 598.3,322.9 598.4,323.2 598.4,323.5 598.4,323.8 598.4,324.1 598.4,324.4 598.4,324.7 598.5,325.0 598.5,325.3 598.5,325.6 598.5,325.9 598.5,326.2 598.5,326.5 598.5,326.8 598.6,327.1 598.6,327.4 598.6,327.7 598.6,328.0 598.6,328.3 598.7,328.6 598.7,328.9 598.8,329.2 598.8,329.5 598.9,329.8 598.9,330.1 599.0,330.4 599.0,330.7 599.1,331.0 599.1,331.2 599.2,331.5 599.2,331.8 599.3,332.1 599.3,332.4 599.4,332.7 599.4,333.0 599.5,333.3 599.5,333.6 599.6,333.9 599.6,334.2 599.7,334.5 599.7,334.8 599.8,335.1 599.8,335.4 599.9,335.7 599.9,336.0 600.0,336.3 600.0,336.4 600.1,335.5 600.1,335.9 600.2,336.7 600.2,338.3 600.3,337.7 600.3,338.2 600.4,338.9 600.4,338.8 600.5,339.8 600.5,341.5 600.6,341.1 600.6,338.0 600.7,339.7 600.7,341.7 600.8,341.6 600.8,341.4 600.9,343.2 600.9,339.8 601.0,340.9 601.0,342.7 601.1,342.9 601.1,343.6 601.2,343.3 601.2,344.7 601.3,343.6 601.3,343.1 601.4,345.1 601.4,344.6 601.5,345.0 601.5,345.6 601.6,346.5 601.6,345.3 601.6,345.7 601.7,346.4 601.7,347.3 601.8,347.9 601.8,348.3 601.8,348.6 601.9,348.7 601.9,349.3 601.9,349.0 602.0,349.1 602.0,350.3 602.1,349.8 602.1,349.8 602.1,349.8 602.2,351.1 602.2,350.1 602.3,351.2 602.3,352.2 602.3,351.1 602.4,353.3 602.4,351.2 602.4,353.3 602.5,353.1 602.5,354.1 602.6,354.2 602.6,353.6 602.6,352.8 602.7,353.4 602.7,354.9 602.8,353.7 602.8,357.4 602.8,354.6 602.9,355.6 602.9,357.4 603.0,357.4 603.0,358.0 603.0,356.8 603.1,358.4 603.1,358.2 603.1,359.0 603.2,359.3 603.2,358.7 603.3,359.2 603.3,360.3 603.3,359.3 603.4,359.5 603.4,360.5 603.5,359.6 603.5,361.1 603.5,360.7 603.6,360.7 603.6,361.9 603.6,361.3 603.7,360.7 603.7,362.0 603.8,362.1 603.8,363.7 603.8,364.9 603.9,364.6 603.9,364.1 604.0,363.8 604.0,363.4 604.0,365.6 604.1,365.0 604.1,365.8 604.1,365.5 604.2,364.4 604.2,366.3 604.3,366.9 604.3,368.1 604.3,368.2 604.4,367.9 604.4,368.1 604.5,369.1 604.5,368.3 604.5,367.6 604.6,369.5 604.6,370.9 604.6,369.1 604.7,368.5 604.7,370.5 604.8,370.9 604.8,370.1 604.8,372.1 604.9,372.6 604.9,371.5 605.0,374.1 605.0,373.5 605.0,372.4 605.1,373.2 605.1,373.8 605.2,373.5 605.2,373.2 605.2,373.6 605.3,375.8 605.3,374.4 605.3,375.9 605.4,375.7 605.4,377.8 605.5,376.5 605.5,376.4 605.5,377.6 605.6,377.0 605.6,376.5 605.7,377.6 605.7,377.9 605.7,378.1 605.8,377.7 605.8,379.2 605.8,379.7 605.9,379.7 605.9,378.0 606.0,378.3 606.0,380.9 606.0,379.7 606.1,381.5 606.1,381.3 606.2,381.1 606.2,381.5 606.3,381.9 606.3,382.1 606.4,381.8 606.4,383.4 606.5,382.4 606.5,383.5 606.6,383.8 606.6,382.8 606.7,383.7 606.7,383.1 606.8,384.8 606.8,384.8 606.9,385.4 606.9,385.1 607.0,385.7 607.0,386.3 607.1,385.7 607.1,387.4 607.2,386.8 607.2,386.4 607.3,387.6 607.3,387.8 607.4,387.2 607.4,387.6 607.5,388.0 607.5,390.1 607.6,389.1 607.6,389.8 607.7,390.3 607.7,390.6 607.8,390.6 607.8,391.8 607.9,391.9 607.9,390.7 608.0,392.3 608.0,391.4 608.1,392.2 608.1,394.0 608.2,394.2 608.2,393.7 608.3,393.0 608.3,393.5 608.4,393.8 608.4,393.2 608.5,395.2 608.5,394.6 608.6,396.0 608.6,394.8 608.7,393.8 608.7,396.6 608.8,395.5 608.8,395.7 608.9,397.2 608.9,397.1 609.0,396.6 609.0,398.5 609.1,397.8 609.1,397.5 609.2,398.0 609.2,399.4 609.3,400.3 609.3,398.2 609.4,398.3 609.4,399.7 609.5,400.9 609.5,399.8 609.6,400.5 609.6,400.8 609.7,400.7 609.7,399.6 609.8,401.7 609.8,402.0 609.9,403.4 609.9,403.1 610.0,401.6 610.0,403.2 610.1,402.8 610.1,405.3 610.2,404.9 610.2,404.8 610.3,403.7 610.3,404.1 610.4,404.6 610.4,406.9 610.5,406.7 610.5,406.2 610.6,405.7 610.6,406.7 610.7,406.4 610.7,407.8 610.8,407.3 610.8,409.4 610.9,408.3 610.9,407.7 611.0,409.3 611.0,410.7 611.0,408.9 611.1,411.3 611.1,410.0 611.2,410.0 611.2,408.9 611.2,412.4 611.3,412.1 611.3,411.9 611.4,410.6 611.4,412.9 611.4,412.2 611.5,412.7 611.5,413.5 611.6,413.0 611.6,414.5 611.6,413.3 611.7,414.4 611.7,416.3 611.8,414.8 611.8,414.7 611.8,416.5 611.9,415.8 611.9,415.7 612.0,416.1 612.0,417.1 612.0,417.3 612.1,418.0 612.1,416.6 612.1,417.7 612.2,417.5 612.2,419.2 612.3,418.2 612.3,419.5 612.3,420.4 612.4,420.3 612.4,419.9 612.5,421.2 612.5,422.0 612.5,421.5 612.6,421.5 612.6,422.8 612.7,421.9 612.7,422.0 612.7,423.3 612.8,421.6 612.8,422.8 612.9,425.4 612.9,424.7 612.9,425.0 613.0,423.9 613.0,424.1 613.1,425.9 613.1,425.3 613.1,426.5 613.2,427.5 613.2,427.6 613.3,428.6 613.3,426.6 613.3,429.3 613.4,426.9 613.4,428.3 613.5,428.3 613.5,429.1 613.5,429.3 613.6,428.7 613.6,430.7 613.7,430.3 613.7,431.3 613.7,431.8 613.8,432.4 613.8,430.1 613.9,431.4 613.9,431.8 613.9,431.8 614.0,432.4 614.0,433.6 614.0,432.1 614.1,433.4 614.1,432.1 614.2,434.7 614.2,433.4 614.2,436.0 614.3,434.7 614.3,435.9 614.4,435.4 614.4,435.9 614.4,436.7 614.5,435.7 614.5,436.5 614.6,436.3 614.6,436.9 614.6,436.1 614.7,437.3 614.7,436.8 614.8,437.3 614.8,438.8 614.8,437.6 614.9,439.1 614.9,439.3 615.0,439.2 615.0,439.9 615.0,440.6 615.1,441.4 615.1,441.4 615.2,441.4 615.2,440.5 615.3,441.1 615.3,442.8 615.4,440.9 615.4,442.1 615.5,444.0 615.5,442.5 615.5,444.2 615.6,443.7 615.6,443.2 615.7,442.5 615.7,443.8 615.8,443.7 615.8,445.1 615.9,445.3 615.9,445.1 616.0,445.1 616.0,446.5 616.0,446.1 616.1,447.3 616.1,447.5 616.2,446.7 616.2,448.7 616.3,447.4 616.3,447.9 616.4,448.3 616.4,447.9 616.5,449.3 616.5,449.4 616.5,448.6 616.6,451.5 616.6,450.4 616.7,450.8 616.7,449.3 616.8,450.1 616.8,450.4 616.9,451.1 616.9,452.5 617.0,453.2 617.0,450.9 617.0,452.1 617.1,453.0 617.1,452.7 617.2,453.4 617.2,453.7 617.3,455.3 617.3,454.5 617.4,454.6 617.4,455.5 617.5,454.5 617.5,454.3 617.6,454.8 617.6,455.2 617.6,454.5 617.7,457.7 617.7,456.8 617.8,456.3 617.8,456.5 617.9,458.3 617.9,457.1 618.0,458.9 618.0,458.8 618.1,459.0 618.1,459.6 618.1,458.5 618.2,458.8 618.2,459.2 618.3,460.1 618.3,461.3 618.4,461.1 618.4,461.4 618.5,460.3 618.5,462.7 618.6,462.3 618.6,462.1 618.6,462.8 618.7,462.2 618.7,462.5 618.8,463.2 618.8,464.1 618.9,462.0 618.9,464.5 619.0,464.0 619.0,465.0 619.1,464.1 619.1,465.5 619.1,464.4 619.2,467.5 619.2,466.9 619.3,466.0 619.3,467.5 619.4,467.6 619.4,467.3 619.5,467.3 619.5,467.3 619.6,469.5 619.6,469.2 619.6,469.5 619.7,468.8 619.8,469.8 619.8,470.6 619.9,470.4 619.9,470.7 620.0,470.8 620.0,472.6 620.1,471.4 620.1,472.4 620.1,472.1 620.2,472.4 620.2,472.1 620.3,472.8 620.4,473.7 620.4,472.3 620.5,474.3 620.5,474.2 620.6,473.7 620.6,474.9 620.6,475.7 620.7,475.9 620.8,475.1 620.8,476.0 620.9,475.9 620.9,476.9 621.0,477.2 621.0,476.4 621.1,477.1 621.1,479.0 621.1,478.2 621.2,478.1 621.2,478.3 621.3,478.3 621.4,479.7 621.4,480.3 621.5,480.0 621.5,480.0 621.5,481.2 621.6,481.4 621.6,482.3 621.7,482.6 621.8,480.2 621.8,481.6 621.9,481.9 621.9,482.2 622.0,482.8 622.0,485.1 622.0,483.3 622.1,483.6 622.1,484.2 622.2,485.1 622.2,484.4 622.3,483.5 622.4,484.9 622.4,485.2 622.5,485.2 622.5,485.8 622.5,487.5 622.6,486.8 622.6,487.8 622.7,488.3 622.8,487.7 622.8,488.8 622.9,488.5 622.9,488.1 623.0,489.3 623.0,488.1 623.1,491.4 623.1,490.6 623.2,489.9 623.3,490.5 623.3,488.5 623.4,490.4 623.5,492.5 623.5,491.9 623.6,492.1 623.7,491.4 623.7,492.0 623.8,493.1 623.9,492.9 623.9,492.5 624.0,493.8 624.1,493.8 624.1,493.9 624.2,496.0 624.3,496.2 624.4,494.6 624.4,494.6 624.5,494.7 624.6,495.6 624.6,495.2 624.7,496.6 624.8,497.8 624.8,497.5 624.9,497.4 625.0,498.5 625.0,498.6 625.1,498.5 625.2,500.5 625.2,500.8 625.3,499.7 625.4,499.7 625.4,500.6 625.5,500.9 625.6,501.5 625.6,501.1 625.7,502.0 625.8,500.9 625.8,503.0 625.9,504.1 626.0,501.6 626.0,504.7 626.1,504.1 626.2,502.7 626.2,504.5 626.3,504.9 626.4,505.6 626.5,505.8 626.5,504.6 626.6,506.6 626.7,505.8 626.7,506.2 626.8,506.3 626.9,506.9 626.9,506.5 627.0,506.4 627.1,509.5 627.1,508.4 627.2,508.1 627.3,510.1 627.3,510.0 627.4,509.4 627.5,510.9 627.5,508.2 627.6,510.9 627.7,512.2 627.7,511.4 627.8,511.4 627.9,511.1 627.9,511.9 628.0,512.9 628.1,511.3 628.2,510.9 628.2,514.5 628.3,514.3 628.4,514.4 628.4,514.6 628.5,515.3 628.6,514.2 628.6,515.3 628.7,515.9 628.8,515.8 628.9,517.9 628.9,516.8 629.0,516.3 629.1,517.4 629.1,518.7 629.2,517.8 629.3,517.8 629.3,519.0 629.4,518.2 629.5,517.2 629.5,520.1 629.6,519.9 629.7,517.7 629.8,519.7 629.8,520.8 629.9,519.3 630.0,521.1 630.0,521.8 630.1,522.6 630.2,521.8 630.2,522.8 630.3,523.5 630.4,522.2 630.5,522.3 630.5,523.3 630.6,523.7 630.7,524.2 630.7,523.6 630.8,523.9 630.9,523.9 630.9,524.5 631.0,524.3 631.1,523.7 631.1,525.3 631.2,526.9 631.3,525.2 631.4,528.0 631.4,525.6 631.5,528.3 631.6,524.8 631.6,528.9 631.7,529.4 631.8,529.2 631.8,527.5 631.9,529.7 632.0,527.2 632.1,531.0 632.1,529.1 632.2,528.3 632.3,529.9 632.3,528.5 632.4,530.2 632.5,530.5 632.6,531.1 632.7,532.1 632.8,529.8 632.9,531.6 633.0,530.4 633.1,533.6 633.2,532.3 633.2,535.0 633.3,534.7 633.4,532.1 633.5,533.6 633.6,534.3 633.7,533.2 633.8,536.7 633.9,535.6 634.0,532.9 634.1,535.3 634.2,535.8 634.3,536.1 634.4,539.2 634.5,536.7 634.6,536.2 634.7,537.8 634.8,535.6 634.9,537.8 634.9,537.8 635.0,539.0 635.1,536.9 635.2,539.4 635.3,541.1 635.4,541.5 635.5,541.5 635.6,539.4 635.7,541.1 635.8,540.6 635.9,542.3 636.0,541.0 636.1,545.4 636.2,542.2 636.3,544.3 636.4,545.2 636.5,542.6 636.5,543.7 636.6,544.7 636.7,543.7 636.8,543.1 636.9,545.6 637.0,545.3 637.1,545.2 637.2,548.6 637.3,545.7 637.4,546.8 637.5,545.5 637.6,547.1 637.7,548.7 637.8,549.2 637.9,548.5 638.0,546.8 638.1,549.5 638.2,547.0 638.2,549.5 638.3,548.2 638.4,549.4 638.5,551.3 638.6,550.0 638.7,553.0 638.8,549.5 638.9,549.8 639.0,550.5 639.1,551.7 639.2,552.1 639.4,553.1 639.5,550.3 639.6,551.1 639.7,551.1 639.9,554.3 640.0,552.7 640.1,552.6 640.2,553.8 640.4,550.9 640.5,553.8 640.6,555.8 640.7,554.8 640.8,553.5 641.0,554.6 641.1,557.0 641.2,554.9 641.3,558.1 641.5,555.1 641.6,555.9 641.7,556.8 641.8,557.6 642.0,556.1 642.1,556.3 642.2,556.9 642.3,559.3 642.5,558.6 642.6,557.4 642.7,556.6 642.8,558.7 642.9,557.3 643.1,559.8 643.2,561.1 643.3,561.6 643.4,560.2 643.6,559.9 643.7,562.0 643.8,562.7 643.9,562.3 644.1,562.2 644.2,561.6 644.3,564.3 644.4,562.4 644.5,562.7 644.7,564.0 644.8,563.8 644.9,565.7 645.0,565.8 645.2,564.6 645.3,562.0 645.4,566.3 645.5,568.5 645.7,565.2 645.8,562.8 645.9,565.9 646.0,567.1 646.2,564.6 646.3,566.0 646.4,568.0 646.5,565.7 646.6,568.4 646.8,568.0 646.9,568.3 647.0,565.6 647.1,567.9 647.3,569.1 647.4,566.5 647.5,565.7 647.6,568.3 647.8,569.4 647.9,566.3 648.0,568.7 648.2,567.5 648.4,568.1 648.6,565.9 648.7,566.4 648.9,567.6 649.1,570.0 649.3,567.6 649.5,568.6 649.7,569.3 649.9,569.6 650.0,570.5 650.2,571.3 650.4,569.1 650.6,568.1 650.8,569.8 651.0,570.7 651.2,567.5 651.3,572.6 651.5,570.3 651.7,571.0 651.9,570.0 652.1,571.3 652.3,572.7 652.5,573.4 652.7,573.4 652.8,571.7 653.0,572.2 653.2,575.2 653.4,573.4 653.6,573.1 653.8,572.2 654.0,573.8 654.1,575.9 654.3,578.7 654.5,578.6 654.7,576.8 654.9,578.6 655.1,577.3 655.3,574.8 655.4,575.6 655.6,581.9 655.8,575.2 656.0,577.3 656.2,576.3 656.5,580.5 656.7,580.3 656.9,577.4 657.2,576.8 657.4,580.2 657.6,576.3 657.9,577.0 658.1,580.0 658.3,584.9 658.6,581.1 658.8,576.9 659.0,584.2 659.3,579.2 659.5,581.5 659.7,580.4 660.0,583.1 660.2,582.6 660.4,580.8 660.7,582.3 660.9,582.0 661.1,584.0 661.3,583.2 661.6,585.2 661.8,582.8 662.0,587.6 662.3,583.1 662.5,581.2 662.7,582.1 663.0,586.4 663.2,584.6 663.4,585.5 663.7,589.7 663.9,584.9 664.1,584.6 664.4,588.6 664.6,587.5 664.8,587.8 665.1,586.9 665.3,591.4 665.5,587.3 665.8,584.9 666.0,586.0 666.3,586.3 666.6,586.8 666.9,588.0 667.1,586.2 667.4,591.3 667.7,590.9 668.0,585.7 668.3,587.3 668.6,591.3 668.9,587.4 669.1,589.9 669.4,589.2 669.7,592.0 670.0,589.4 670.3,585.8 670.6,589.7 670.9,590.1 671.1,594.0 671.4,591.3 671.7,589.0 672.0,592.1 672.3,587.7 672.6,588.7 672.9,593.3 673.1,594.2 673.4,591.5 673.7,595.0 674.0,594.6 674.3,593.1 674.6,591.1 674.9,590.3 675.1,589.3 675.4,588.5 675.7,590.8 676.0,590.0 676.3,590.2 676.6,592.4 676.9,591.9 677.1,589.2 677.4,589.1 677.7,590.6 678.0,592.0 678.3,592.0 678.6,586.1 678.9,593.0 679.2,592.6 679.5,594.3 679.8,594.8 680.0,593.8 680.3,592.8 680.6,593.8 680.9,594.2 681.2,595.4 681.5,593.7 681.8,593.5 682.1,594.2 682.4,593.0 682.7,593.8 683.0,592.4 683.3,591.8 683.6,592.0 683.9,591.7 684.1,590.7 684.4,594.3 684.7,594.4 685.0,591.9 685.3,591.2 685.6,594.6 685.9,594.4 686.2,595.2 686.5,598.1 686.8,595.8 687.1,595.2 687.4,593.8 687.7,601.6 688.0,594.7 688.2,602.1 688.5,601.8 688.8,596.1 689.1,598.9 689.4,596.1 689.7,595.7 690.0,598.0 690.3,596.1 690.6,594.9 690.9,599.2 691.2,596.7 691.5,599.9 691.8,596.2 692.0,597.3 692.3,594.2 692.6,596.5 692.9,597.5 693.2,599.6 693.5,597.2 693.8,596.2 694.1,596.1 694.4,592.9 694.7,598.9 695.0,597.7 695.3,599.0 695.6,593.4 695.9,599.6 696.1,599.5 696.4,598.0 696.7,596.0 697.0,601.8 697.3,600.5 697.6,596.9 697.9,595.4 698.2,598.7 698.5,597.7 698.8,599.3 699.1,595.7 699.4,598.7 699.7,599.0 700.0,599.5 700.2,594.6 700.5,599.7 700.8,600.7 701.1,599.9 701.4,598.5 701.7,599.4 702.0,599.1 702.3,602.6 702.6,597.5 702.9,597.9 703.2,597.9 703.5,598.6 703.8,594.4 704.0,597.0 704.3,597.1 704.6,601.7 704.9,597.6 705.2,602.7 705.5,602.6 705.8,598.0 706.1,598.7 706.4,604.5 706.7,593.4 707.0,597.0 707.3,596.0 707.6,595.1 707.9,596.2 708.1,598.1 708.4,603.8 708.7,600.6 709.0,598.3 709.3,599.4 709.6,597.1 709.9,601.7 710.2,598.7 710.5,603.3 710.8,599.0 711.1,597.3 711.4,597.4 711.7,602.6 712.0,601.8 712.2,602.7 712.5,603.3 712.8,600.8 713.1,603.7 713.4,602.7 713.7,602.7 714.0,600.9 714.3,602.2 714.6,598.7 714.9,601.6 715.2,604.1 715.5,602.6 715.8,600.9 716.1,601.6 716.4,607.9 716.7,605.4 717.0,605.2 717.3,602.4 717.6,604.4 717.9,602.3 718.2,602.3 718.5,602.2 718.8,599.4 719.1,605.4 719.4,599.7 719.7,606.2 720.0,603.8 720.3,603.1 720.6,600.7 720.9,603.2 721.2,598.5 721.5,603.6 721.8,601.3 722.1,605.1 722.4,601.5 722.6,604.2 722.9,602.0 723.2,602.4 723.5,601.3 723.8,601.6 724.1,601.2 724.4,600.2 724.7,604.8 725.0,607.2 725.3,600.3 725.6,604.3 725.9,598.9 726.2,598.3 726.5,601.7 726.8,605.3 727.1,601.9 727.4,602.7 727.7,600.1 728.0,597.3 728.3,605.5 728.6,601.3 728.9,603.5 729.2,602.4 729.5,601.3 729.8,601.6 730.1,600.0 730.4,603.8 730.7,600.5 731.0,602.2 731.3,603.7 731.6,600.8 731.9,603.6 732.2,603.6 732.5,599.6 732.8,600.6 733.1,601.1 733.4,604.4 733.7,600.9 734.0,603.1 734.3,598.7 734.6,600.9 734.9,605.3 735.2,603.8 735.5,605.1 735.8,601.6 736.1,603.2 736.4,599.6 736.7,601.3 737.0,601.0 737.3,608.0 737.6,602.2 737.9,603.3 738.2,602.5 738.5,600.5 738.8,602.9 739.1,602.2 739.4,602.7 739.7,601.3 740.0,602.1 740.2,603.2 740.5,605.2 740.8,606.8 741.1,600.2 741.4,605.8 741.7,603.3 742.0,602.4 742.3,602.7 742.6,603.3 742.9,602.8 743.2,600.3 743.5,605.4 743.8,602.7 744.1,600.2 744.4,603.1 744.7,605.4 745.0,600.7 745.3,603.7 745.6,602.0 745.9,602.6 746.2,602.6 746.5,601.8 746.8,602.1 747.1,605.9 747.4,605.2 747.7,602.3 748.0,606.3 748.3,606.6 748.6,603.7 748.9,604.5 749.2,604.0 749.5,609.2 749.8,605.1 750.1,606.4 750.4,600.6 750.7,606.2 751.0,608.0 751.3,603.5 751.6,607.4 751.9,604.6 752.2,606.4 752.5,602.7 752.8,606.3 753.1,605.1 753.4,603.3 753.7,604.8 754.0,607.2 754.3,606.3 754.6,606.9 754.9,607.0 755.2,606.4 755.5,607.0 755.8,604.4 756.1,608.0 756.4,604.4 756.7,610.8 757.0,609.5 757.3,602.9 757.6,604.5 757.9,606.0 758.2,607.6 758.5,603.2 758.8,605.8 759.1,605.6 759.4,604.9 759.7,606.7 760.0,606.6 760.3,601.1 760.6,605.4 760.9,606.7 761.2,605.5 761.5,604.1 761.8,605.6 762.1,610.8 762.4,606.4 762.7,606.9 763.0,604.8 763.3,606.5 763.6,604.1 763.9,609.4 764.2,607.8 764.5,609.5 764.8,605.9 765.1,606.5 765.4,606.7 765.7,606.0 765.9,605.6 766.2,608.1 766.5,608.4 766.8,606.4 767.1,607.2 767.4,606.4 767.7,605.1 768.0,609.2 768.3,606.9 768.6,605.1 768.9,605.3 769.2,605.6 769.5,605.0 769.8,610.0 770.1,610.9 770.4,610.9 770.7,608.3 771.0,610.9 771.3,610.5 771.6,604.8 771.9,609.8 772.2,605.6 772.5,607.6 772.8,609.7 773.1,612.8 773.4,614.1 773.7,608.2 774.0,608.1 774.3,611.3 774.6,609.8 774.9,607.2 775.2,610.4 775.5,609.6 775.8,607.4 776.1,608.5 776.4,606.7 776.7,608.1 777.0,607.1 777.3,607.3 777.6,607.4 777.9,605.7 778.2,607.9 778.5,607.8 778.8,607.0 779.1,606.0 779.4,603.2 779.7,607.9 780.0,605.3 780.3,604.2 780.6,604.7 780.9,607.8 781.2,603.9 781.5,607.4 781.8,607.7 782.1,604.2 782.4,604.5 782.7,602.9 783.0,601.2 783.3,602.6 783.6,610.3 783.9,606.2 784.2,604.8 784.5,608.0 784.8,607.7 785.1,606.0 785.4,604.5 785.7,607.5 786.0,607.3 786.3,605.2 786.6,604.9 786.9,607.1 787.2,606.5 787.5,608.6 787.8,606.2 788.1,610.0 788.4,606.9 788.7,612.1 789.0,609.4 789.3,604.2 789.6,605.8 789.9,607.1 790.2,605.2 790.5,604.6 790.8,603.2 791.1,607.2 791.4,609.1 791.6,607.1 791.9,602.0 792.2,605.1 792.5,609.6 792.8,605.6 793.1,608.1 793.4,609.1 793.7,606.5 794.0,604.8 794.3,604.9 794.6,606.2 794.9,606.8 795.2,605.6 795.5,605.4 795.8,603.3 796.1,602.3 796.4,610.0 796.7,608.9 797.0,604.8 797.3,604.9 797.6,608.3 797.9,603.9 798.2,604.9 798.5,608.4 798.8,612.3 799.1,605.1 799.4,608.8 799.7,607.4 800.0,605.1 800.3,603.1 800.6,607.8 800.9,605.3 801.2,605.9 801.5,609.4 801.8,604.7 802.1,607.9 802.4,608.2 802.7,606.2 803.0,608.5 803.3,606.3 803.6,608.9 803.9,608.8 804.2,608.3 804.5,608.3 804.8,610.8 805.1,608.6 805.4,610.4 805.7,612.1 806.0,611.1 806.3,610.4 806.6,604.0 806.9,608.6 807.2,608.5 807.5,609.1 807.8,609.7 808.1,613.9 808.4,608.3 808.6,610.4 808.9,604.5 809.2,605.9 809.5,610.4 809.8,612.6 810.1,608.5 810.4,609.0 810.7,606.7 811.0,611.2 811.3,609.4 811.6,609.1 811.9,609.3 812.2,609.8 812.5,610.4 812.8,609.7 813.1,606.3 813.4,612.4 813.7,607.5 814.0,611.8 814.3,609.4 814.6,610.3 814.9,610.8 815.2,608.0 815.5,609.4 815.8,608.3 816.1,606.7 816.4,614.2 816.7,612.6 817.0,614.5 817.3,609.5 817.6,607.1 817.9,606.2 818.2,608.7 818.5,609.0 818.8,608.2 819.1,608.9 819.4,607.2 819.7,611.4 820.0,611.6 820.3,610.0 820.6,611.8 820.9,612.7 821.2,607.6 821.5,613.7 821.8,613.6 822.1,612.6 822.4,612.2 822.7,613.7 823.0,609.2 823.3,608.6 823.6,611.3 823.9,610.4 824.2,610.3 824.5,608.6 824.8,606.7 825.1,611.6 825.4,611.4 825.7,609.7 826.0,608.8 826.3,607.0 826.6,613.7 826.9,611.4 827.2,608.0 827.5,609.6 827.8,608.4 828.1,612.5 828.4,606.0 828.7,608.0 829.0,607.4 829.3,610.5 829.6,608.0 829.9,608.6 830.2,611.3 830.5,608.9 830.8,606.6 831.1,606.6 831.4,611.8 831.7,608.0 832.0,608.4 832.3,612.8 832.6,607.3 832.9,610.4 833.2,610.9 833.5,612.0 833.8,607.7 834.1,613.9 834.3,610.3 834.6,610.1 834.9,613.2 835.2,607.5 835.5,610.0 835.8,611.5 836.1,612.1 836.4,612.6 836.7,613.2 837.0,616.2 837.3,611.8 837.6,610.1 837.9,605.8 838.2,617.0 838.5,609.8 838.8,611.7 839.1,609.6 839.4,613.3 839.7,613.3 840.0,612.4 840.3,614.3 840.6,614.5 840.9,611.9 841.2,612.6 841.5,612.6 841.8,610.6 842.1,607.9 842.4,614.4 842.7,609.7 843.0,608.2 843.3,611.2 843.6,610.6 843.9,612.7 844.2,613.4 844.5,611.5 844.8,606.6 845.1,609.9 845.4,610.2 845.7,608.0 846.0,612.3 846.3,611.6 846.6,608.4 846.9,615.6 847.2,611.0 847.5,613.5 847.8,610.2 848.1,614.8 848.4,611.1 848.7,611.6 849.0,612.7 849.3,615.4 849.6,612.2 849.9,615.2 850.2,610.0 850.5,610.5 850.8,615.9 851.1,610.3 851.4,612.4 851.7,610.1 852.0,611.4 852.3,610.8 852.6,613.4 852.9,612.0 853.2,612.9 853.5,612.4 853.8,608.5 854.1,611.5 854.4,612.3 854.7,612.6 855.0,607.1 855.3,609.7 855.6,612.9 855.9,613.1 856.2,612.5 856.5,612.9 856.8,609.3 857.1,611.0 857.4,610.9 857.7,612.8 858.0,611.1 858.3,612.4 858.6,613.4 858.9,612.0 859.2,613.7 859.5,611.6 859.8,607.3 860.1,613.7 860.4,613.1 860.7,609.8 861.0,609.8 861.3,606.1 861.6,616.2 861.9,611.5 862.2,610.4 862.5,611.0 862.8,609.6 863.1,612.0 863.4,613.8 863.7,612.8 864.0,611.3 864.3,612.4 864.6,613.0 864.9,611.6 865.2,613.5 865.5,613.1 865.8,609.2 866.1,609.6 866.4,611.1 866.7,611.9 867.0,616.4 867.3,611.6 867.6,611.5 867.9,611.0 868.2,612.5 868.5,611.0 868.9,612.2 869.2,610.0 869.5,613.5 869.8,614.4 870.1,613.4 870.4,612.2 870.7,608.3 871.0,614.7 871.3,618.3 871.6,613.1 871.9,610.1 872.2,610.7 872.5,610.5 872.8,613.5 873.1,614.2 873.4,613.4 873.7,612.5 874.0,612.8 874.3,616.6 874.6,614.6 874.9,611.4 875.2,611.8 875.5,618.1 875.8,613.3 876.1,612.5 876.4,615.7 876.7,614.0 877.0,612.2 877.3,613.5 877.6,615.1 877.9,611.9 878.2,607.1 878.5,614.3 878.8,613.9 879.1,613.3 879.4,613.9 879.7,614.5 880.0,617.5 880.3,611.4 880.6,615.3 880.9,614.5 881.2,617.3 881.5,611.4 881.8,617.1 882.1,613.9 882.4,612.4 882.7,615.2 883.0,609.8 883.3,615.2 883.6,614.2 883.9,612.1 884.2,613.5 884.5,615.7 884.8,615.7 885.1,612.2 885.4,615.2 885.7,617.2 886.0,612.6 886.3,612.7 886.6,613.7 886.9,608.8 887.2,610.8 887.5,612.9 887.8,611.6 888.1,609.3 888.4,614.3 888.7,614.2 889.0,611.4 889.3,613.5 889.6,611.3 889.9,613.6 890.2,610.5 890.5,615.4 890.8,611.6 891.1,611.2 891.4,615.3 891.7,611.6 892.0,614.8 892.3,615.6 892.6,613.6 892.9,616.3 893.2,608.0 893.5,614.4 893.8,616.6 894.1,614.7 894.4,611.7 894.7,614.5 895.0,614.1 895.3,616.0 895.6,612.4 895.9,613.3 896.2,614.8 896.5,608.4 896.8,613.5 897.1,613.0 897.4,613.7 897.7,610.9 898.0,610.0 898.3,612.7 898.6,614.9 898.9,608.6 899.2,614.8 899.5,612.7 899.8,610.0 900.1,611.6 900.4,613.6 900.6,611.5 900.9,613.7 901.2,611.7 901.5,616.7 901.8,615.3 902.1,613.0 902.4,614.8 902.7,616.4 903.0,612.4 903.3,613.3 903.6,611.0 903.9,613.9 904.2,615.9 904.5,616.4 904.8,614.2 905.1,614.9 905.4,614.1 905.7,614.4 906.0,616.1 906.3,616.4 906.6,617.1 906.9,615.6 907.2,615.5 907.5,617.4 907.8,616.1 908.1,617.1 908.4,615.0 908.7,614.5 909.0,615.9 909.3,612.5 909.6,618.1 909.9,615.0 910.2,613.8 910.5,615.8 910.8,613.4 911.1,615.6 911.4,613.4 911.7,615.5 912.0,613.4 912.3,609.9 912.6,618.4 912.9,612.4 913.2,621.2 913.5,612.7 913.8,614.7 914.1,614.9 914.4,616.6 914.7,615.4 915.0,618.3 915.3,616.7 915.6,613.7 915.9,616.8 916.2,614.4 916.5,616.9 916.8,617.6 917.1,614.7 917.4,614.4 917.7,612.0 918.0,612.1 918.3,615.4 918.6,611.7 918.9,616.8 919.2,614.8 919.5,617.3 919.8,615.0 920.1,614.7 920.4,616.1 920.7,616.4 921.0,617.0 921.3,617.6 921.6,614.4 921.9,615.0 922.2,613.5 922.5,610.6 922.8,615.7 923.1,610.8 923.4,615.9 923.7,611.2 924.0,613.2 924.3,615.5 924.6,613.2 924.9,612.8 925.2,619.2 925.5,613.5 925.8,614.5 926.1,612.7 926.4,614.8 926.7,616.7 927.0,616.1 927.3,614.1 927.6,614.7 927.9,616.8 928.2,614.4 928.5,619.6 928.8,614.8 929.1,616.6 929.4,616.9 929.6,617.9 929.9,616.9 930.2,616.1 930.5,618.5 930.8,617.8 931.1,616.6 931.4,619.8 931.7,619.5 932.0,617.3 932.3,618.0 932.6,617.6 932.9,617.3 933.2,617.0 933.5,621.2 933.8,619.3 934.1,619.3 934.4,615.0 934.7,618.4 935.0,617.3 935.3,616.3 935.6,620.7 935.9,615.9 936.2,615.3 936.5,616.7 936.8,617.3 937.1,617.7 937.4,618.8 937.7,618.9 938.0,620.1 938.3,618.5 938.6,618.7 938.9,618.6 939.2,616.6 939.5,617.7 939.8,618.2 940.1,617.7 940.4,623.7 940.7,618.3 941.0,623.5 941.3,620.3 941.6,615.5 941.9,622.2 942.2,620.5 942.5,618.7 942.8,620.6 943.1,616.7 943.4,617.0 943.7,621.1 944.0,622.1 944.3,622.8 944.6,617.4 944.9,619.5 945.2,617.2 945.5,616.8 945.8,616.8 946.1,616.4 946.4,615.2 946.7,615.6 947.0,614.8 947.3,617.2 947.6,618.9 947.9,614.4 948.2,619.1 948.5,618.2 948.8,617.0 949.1,617.1 949.4,619.2 949.7,616.8 950.0,616.2 950.3,620.0 950.6,620.9 950.9,611.7 951.2,620.0 951.5,617.8 951.8,611.4 952.1,621.1 952.4,619.4 952.7,616.7 953.0,614.3 953.3,615.2 953.6,616.4 953.9,614.8 954.2,617.9 954.5,618.1 954.8,614.8 955.1,616.4 955.4,617.2 955.7,615.8 956.0,617.4 956.3,622.0 956.6,619.1 956.9,613.7 957.2,618.9 957.5,615.3 957.8,617.4 958.1,618.6 958.4,616.6 958.7,615.7 959.0,617.6 959.3,617.5 959.6,615.8 959.9,619.9 960.2,620.5 960.5,615.8 960.8,619.3 961.1,617.6 961.5,619.7 961.8,615.8 962.1,617.3 962.4,619.6 962.7,620.9 963.0,619.3 963.3,614.0 963.6,616.2 963.9,619.1 964.2,619.2 964.5,617.3 964.8,617.5 965.1,616.8 965.4,620.0 965.7,618.3 966.0,615.2 966.3,615.7 966.6,617.5 966.9,615.7 967.2,617.9 967.5,614.5 967.8,619.7 968.1,616.4 968.4,617.2 968.7,619.9 969.0,617.1 969.3,615.1 969.6,618.2 969.9,618.4 970.2,618.8 970.5,617.4 970.8,614.6 971.1,621.7 971.4,619.4 971.7,617.4 972.0,617.1 972.3,617.2 972.6,615.7 972.9,615.1 973.2,613.2 973.5,620.0 973.8,615.0 974.1,615.4 974.4,619.2 974.7,612.9 975.0,619.5 975.3,617.2 975.6,617.8 975.9,615.6 976.2,617.3 976.5,618.3 976.8,621.0 977.1,616.8 977.4,614.2 977.7,617.4 978.0,616.6 978.3,618.3 978.6,618.9 978.9,619.4 979.2,618.8 979.5,620.4 979.8,615.1 980.1,614.7 980.4,616.4 980.7,618.1 981.0,619.0 981.3,615.5 981.6,620.8 981.9,614.8 982.2,619.0 982.5,615.0 982.8,615.7 983.1,612.5 983.4,611.5 983.7,616.5 984.0,613.6 984.3,618.2 984.6,614.0 984.9,613.9 985.2,614.0 985.5,615.9 985.8,618.9 986.1,618.5 986.4,617.2 986.7,616.9 987.0,615.7 987.3,617.0 987.6,619.0 987.9,616.4 988.2,618.4 988.5,614.5 988.8,616.8 989.1,615.4 989.4,615.4 989.7,621.2 990.0,618.2 990.3,616.1 990.6,615.2 990.9,616.6 991.2,616.2 991.5,613.1 991.8,618.1 992.1,615.5 992.4,614.3 992.7,615.1 993.0,615.8 993.3,615.8 993.6,617.5 993.9,614.6 994.2,616.3 994.5,614.7 994.8,615.0 995.1,612.5 995.4,612.1 995.7,614.6 996.0,614.8 996.3,613.6 996.6,613.1 996.9,611.4 997.2,616.2 997.5,612.7 997.8,619.4 998.1,618.2 998.4,613.7 998.7,616.7 999.0,614.5 999.3,613.7 999.6,614.7 999.9,616.8 1000.2,618.6 1000.5,616.0 1000.8,616.4 1001.1,617.5 1001.4,621.4 1001.7,622.3 1002.0,613.2 1002.3,617.1 1002.6,615.2 1002.9,615.3 1003.2,616.9 1003.5,616.6 1003.8,617.2 1004.1,615.0 1004.4,616.8 1004.7,617.6 1005.0,618.6 1005.3,620.1 1005.6,615.5 1005.9,615.5 1006.2,610.6 1006.5,614.7 1006.8,614.7 1007.1,614.8 1007.4,614.3 1007.7,613.0 1008.0,616.3 1008.3,616.4 1008.6,612.5 1008.9,616.8 1009.2,614.0 1009.5,613.7 1009.8,615.5 1010.1,617.3 1010.4,613.8 1010.7,612.5 1011.0,616.4 1011.3,612.7 1011.6,613.9 1011.9,614.5 1012.2,616.0 1012.5,613.8 1012.9,614.0 1013.2,616.9 1013.5,620.9 1013.8,614.4 1014.1,615.7 1014.4,616.6 1014.7,614.5 1015.0,615.0 1015.3,616.8 1015.6,616.5 1015.9,617.3 1016.2,616.1 1016.5,620.7 1016.8,617.2 1017.1,619.3 1017.4,618.1 1017.7,617.9 1018.0,619.9 1018.3,618.8 1018.6,619.0 1018.9,615.4 1019.2,614.9 1019.5,614.3 1019.8,618.4 1020.1,612.6 1020.4,616.7 1020.7,612.8 1021.0,615.8 1021.3,615.5 1021.6,615.7 1021.9,616.3 1022.2,613.9 1022.5,615.4 1022.8,612.6 1023.1,615.3 1023.4,613.8 1023.7,615.2 1024.0,615.1 1024.3,615.4 1024.6,614.0 1024.9,612.4 1025.2,615.7 1025.5,613.1 1025.8,611.3 1026.1,613.4 1026.4,616.1 1026.7,614.4 1027.0,619.2 1027.3,611.8 1027.6,617.2 1027.9,613.5 1028.2,613.1 1028.5,610.4 1028.8,616.0 1029.1,618.8 1029.4,613.0 1029.7,615.4 1030.0,614.8 1030.3,619.0 1030.6,612.3 1030.9,613.4 1031.2,611.3 1031.5,618.8 1031.8,617.8 1032.1,615.2 1032.4,614.9 1032.7,613.4 1033.0,615.2 1033.2,614.0 1033.5,614.8 1033.8,612.6 1034.1,611.1 1034.4,610.8 1034.7,612.7 1035.0,616.2 1035.3,611.9 1035.6,610.5 1035.9,611.0 1036.2,612.9 1036.5,616.9 1036.8,613.6 1037.1,609.2 1037.4,612.1 1037.7,613.5 1038.0,616.4 1038.3,614.5 1038.6,614.9 1038.9,610.8 1039.2,616.6 1039.5,610.8 1039.8,613.6 1040.0,612.9 1040.3,614.1 1040.6,611.5 1040.9,616.8 1041.2,611.9 1041.5,612.5 1041.8,616.8 1042.1,612.1 1042.4,614.4 1042.7,610.3 1043.0,615.5 1043.3,614.2 1043.5,609.2 1043.8,613.2 1044.1,614.4 1044.4,610.8 1044.6,612.2 1044.9,613.9 1045.2,609.7 1045.4,614.9 1045.7,613.3 1046.0,609.8 1046.3,610.7 1046.5,613.2 1046.8,611.7 1047.1,607.7 1047.3,611.7 1047.6,610.1 1047.9,610.5 1048.2,610.6 1048.4,608.7 1048.7,614.3 1049.0,610.4 1049.2,612.7 1049.5,611.8 1049.8,608.6 1050.1,609.6 1050.3,608.9 1050.6,614.3 1050.9,608.4 1051.1,609.6 1051.4,612.0 1051.7,607.7 1052.0,609.4 1052.2,609.8 1052.5,612.9 1052.8,610.1 1053.1,608.7 1053.3,611.4 1053.6,616.6 1053.9,614.3 1054.2,612.9 1054.4,613.8 1054.7,610.6 1055.0,613.5 1055.3,612.0 1055.5,614.8 1055.8,613.8 1056.1,612.8 1056.4,611.1 1056.6,610.5 1056.9,616.6 1057.2,619.9 1057.5,612.1 1057.7,612.6 1058.0,616.7 1058.3,612.2 1058.6,615.9 1058.9,615.5 1059.2,611.6 1059.5,619.0 1059.8,613.1 1060.1,614.9 1060.4,615.1 1060.7,615.0 1061.0,612.1 1061.3,614.3 1061.6,612.7 1061.9,609.6 1062.2,615.0 1062.5,613.9 1062.8,609.1 1063.1,609.7 1063.4,613.4 1063.7,611.9 1064.0,612.3 1064.3,612.7 1064.6,612.3 1064.9,612.5 1065.2,612.1 1065.5,612.3 1065.8,616.6 1066.1,610.7 1066.4,610.7 1066.7,611.7 1067.0,613.3 1067.3,609.3 1067.6,611.7 1067.9,612.0 1068.2,610.5 1068.5,609.2 1068.8,612.4 1069.1,615.3 1069.4,611.4 1069.7,611.6 1070.0,616.1 1070.3,617.1 1070.6,611.2 1070.9,613.7 1071.2,618.5 1071.5,613.5 1071.8,612.6 1072.1,615.5 1072.4,612.8 1072.7,612.5 1073.0,613.4 1073.3,611.4 1073.6,609.2 1073.9,611.8 1074.2,614.0 1074.5,613.9 1074.8,613.1 1075.1,612.8 1075.4,612.1 1075.7,615.5 1076.0,618.9 1076.3,616.2 1076.6,614.0 1076.9,614.8 1077.2,617.4 1077.5,610.6 1077.8,613.9 1078.1,610.6 1078.4,611.3 1078.7,607.7 1079.0,613.3 1079.3,612.0 1079.6,609.9 1079.9,611.9 1080.2,615.9 1080.5,610.9 1080.8,614.1 1081.1,617.0 1081.4,616.5 1081.7,617.7 1082.0,607.8 1082.3,613.4 1082.6,613.2 1082.9,608.5 1083.2,612.4 1083.5,613.6 1083.8,608.1 1084.1,610.0 1084.4,610.8 1084.7,615.9 1085.0,614.2 1085.3,613.5 1085.6,612.6 1085.8,612.1 1086.1,613.6 1086.4,615.2 1086.7,613.8 1087.0,613.8 1087.3,612.6 1087.6,608.9 1087.9,611.2 1088.2,615.3 1088.5,614.5 1088.8,613.3 1089.1,614.9 1089.4,613.7 1089.7,614.1 1090.0,612.4 1090.3,613.7 1090.6,614.8 1090.9,613.7 1091.2,614.7 1091.5,615.8 1091.8,616.8 1092.1,611.1 1092.4,614.2 1092.7,616.4 1093.0,616.5 1093.3,613.7 1093.6,617.4 1093.9,611.6 1094.2,616.1 1094.4,613.2 1094.7,618.6 1095.0,614.5 1095.3,614.6 1095.6,613.8 1095.9,614.8 1096.2,620.6 1096.5,618.6 1096.8,620.4 1097.1,616.4 1097.4,618.8 1097.7,617.4 1098.0,616.8 1098.3,618.8 1098.6,615.6 1098.9,614.4 1099.2,617.7 1099.5,613.7 1099.7,612.5 1100.0,613.5 1100.3,613.4 1100.6,614.8 1100.9,617.2 1101.2,614.8 1101.4,616.5 1101.7,615.4 1102.0,617.0 1102.3,615.6 1102.6,613.3 1102.9,613.1 1103.2,615.3 1103.4,614.3 1103.7,609.9 1104.0,615.1 1104.3,613.0 1104.6,616.4 1104.9,616.0 1105.2,619.0 1105.4,617.1 1105.7,617.0 1106.0,615.3 1106.3,617.4 1106.6,618.8 1106.9,618.0 1107.2,621.8 1107.4,617.9 1107.7,617.7 1108.0,620.8 1108.3,619.7 1108.6,618.4 1108.9,620.7 1109.1,620.6 1109.4,620.0 1109.7,618.5 1110.0,619.8 1110.3,618.7 1110.6,617.8 1110.9,618.8 1111.1,620.2 1111.4,619.8 1111.7,616.8 1112.0,621.7 1112.3,619.1 1112.6,620.8 1112.8,621.8 1113.1,624.4 1113.4,621.8 1113.7,625.2 1114.0,622.2 1114.3,621.0 1114.6,621.2 1114.8,621.2 1115.1,621.5 1115.4,621.3 1115.7,621.7 1116.0,623.1 1116.3,624.9 1116.6,619.4 1116.9,622.4 1117.2,623.7 1117.5,622.4 1117.8,622.0 1118.1,623.2 1118.4,620.6 1118.7,622.4 1119.0,623.5 1119.3,623.4 1119.6,623.2 1119.9,617.9 1120.2,619.7 1120.5,621.3 1120.8,621.4 1121.1,620.9 1121.4,621.0 1121.7,620.3 1122.0,621.8 1122.3,623.2 1122.6,625.2 1122.9,623.1 1123.2,620.9 1123.5,621.4 1123.8,620.1 1124.1,624.5 1124.3,623.5 1124.6,621.2 1124.9,620.8 1125.2,623.9 1125.5,623.9 1125.8,622.2 1126.1,624.6 1126.4,625.5 1126.7,619.7 1127.0,624.0 1127.3,624.3 1127.6,622.0 1127.9,622.8 1128.2,622.9 1128.5,622.8 1128.8,622.4 1129.1,619.2 1129.4,624.4 1129.7,621.8 1130.0,626.0 1130.3,624.5 1130.6,626.0 1130.9,623.6 1131.2,621.3 1131.5,627.4 1131.8,622.6 1132.1,625.0 1132.4,625.4 1132.7,623.9 1133.0,627.1 1133.3,623.0 1133.6,623.8 1133.9,623.9 1134.2,623.8 1134.5,625.8 1134.8,624.4 1135.1,624.2 1135.4,625.5 1135.7,624.8 1136.0,624.3 1136.3,625.1 1136.6,624.5 1136.9,625.9 1137.2,626.9 1137.5,623.4 1137.8,623.5 1138.1,622.2 1138.4,622.2 1138.7,624.1 1139.0,625.8 1139.3,621.1 1139.6,619.2 1139.9,624.9 1140.2,620.9 1140.5,620.7 1140.8,622.3 1141.1,619.8 1141.4,620.9 1141.6,621.0 1141.9,623.3 1142.2,623.6 1142.5,626.4 1142.8,623.2 1143.1,626.3 1143.4,623.6 1143.7,624.7 1144.0,620.6 1144.3,627.1 1144.6,624.0 1144.9,622.5 1145.2,621.2 1145.5,620.9 1145.8,622.5 1146.1,623.4 1146.4,622.3 1146.7,623.3 1147.0,619.5 1147.3,623.9 1147.6,620.7 1147.9,623.2 1148.2,623.6 1148.5,621.6 1148.8,621.9 1149.1,623.7 1149.4,622.5 1149.7,618.6 1150.0,620.0 1150.3,624.5 1150.6,622.2 1150.9,620.6 1151.2,621.5 1151.5,621.7 1151.8,624.4 1152.1,622.6 1152.4,622.6 1152.6,624.7 1152.9,623.7 1153.2,624.6 1153.5,624.0 1153.8,622.7 1154.1,626.7 1154.4,624.1 1154.7,623.9 1155.0,622.6 1155.3,626.3 1155.6,625.0 1155.9,625.2 1156.2,625.8 1156.5,625.6 1156.8,624.9 1157.1,626.1 1157.4,624.9 1157.6,623.7 1157.9,623.5 1158.2,624.6 1158.5,627.5 1158.8,623.9 1159.1,626.2 1159.4,625.8 1159.7,621.2 1160.0,624.1 1160.3,623.1 1160.6,622.3 1160.9,623.6 1161.2,621.6 1161.5,625.5 1161.8,622.7 1162.1,624.0 1162.4,623.0 1162.7,624.4 1163.0,623.7 1163.3,621.3 1163.6,626.3 1163.9,622.6 1164.2,621.7 1164.5,624.6 1164.8,625.1 1165.1,625.1 1165.4,624.5 1165.7,624.9 1166.0,623.5 1166.3,624.3 1166.6,625.8 1166.9,624.4 1167.2,623.8 1167.5,625.7 1167.8,624.7 1168.1,625.3 1168.4,624.6 1168.7,624.7 1169.0,624.7 1169.3,625.5 1169.6,623.3 1169.9,621.2 1170.2,624.2 1170.5,623.4 1170.8,622.8 1171.1,625.8 1171.4,625.1 1171.7,623.1 1172.0,627.6 1172.3,626.0 1172.6,625.7 1172.9,625.3 1173.2,625.0 1173.5,624.6 1173.8,623.3 1174.1,625.9 1174.4,627.2 1174.7,625.2 1175.0,626.5 1175.3,627.3 1175.6,624.9 1175.9,629.2 1176.2,625.9 1176.5,625.7 1176.8,626.3 1177.1,626.6 1177.4,626.5 1177.7,626.6 1178.0,627.0 1178.3,623.7 1178.6,626.3 1178.9,623.7 1179.2,625.5 1179.5,624.3 1179.8,622.0 1180.1,623.4 1180.4,624.7 1180.7,624.9 1181.0,627.8 1181.3,624.5 1181.6,626.5 1181.9,622.4 1182.2,624.8 1182.5,624.0 1182.8,627.1 1183.1,623.5 1183.4,624.1 1183.7,625.9 1184.0,626.8 1184.3,625.3 1184.6,625.7 1184.9,627.2 1185.2,623.0 1185.5,625.9 1185.8,624.4 1186.1,623.3 1186.4,623.1 1186.7,623.6 1187.0,625.0 1187.3,626.7 1187.6,625.3 1187.9,625.0 1188.2,622.4 1188.5,624.1 1188.8,623.6 1189.1,625.5 1189.4,621.4 1189.7,624.3 1190.0,622.5 1190.3,623.2 1190.6,625.0 1190.9,625.1 1191.2,623.2 1191.5,623.1 1191.8,624.5 1192.1,624.9 1192.4,622.5 1192.7,622.0 1193.0,626.0 1193.3,623.8 1193.6,626.4 1193.9,624.3 1194.2,623.5 1194.5,623.7 1194.8,624.8 1195.1,623.8 1195.4,622.8 1195.7,624.1 1196.0,623.7 1196.3,624.2 1196.6,626.8 1196.9,623.9 1197.2,625.4 1197.5,625.5 1197.8,624.7 1198.1,625.1 1198.4,627.0 1198.7,625.2 1199.0,624.1 1199.3,627.5 1199.6,622.8 1199.9,626.3 1200.2,622.8 1200.5,624.6 1200.8,626.4 1201.1,627.4 1201.4,626.9 1201.7,626.5 1202.0,625.0 1202.3,626.2 1202.6,624.2 1202.9,626.0 1203.2,626.0 1203.5,626.3 1203.8,626.9 1204.1,623.3 1204.4,627.3 1204.7,624.9 1205.0,626.7 1205.3,623.8 1205.6,625.0 1205.9,625.5 1206.2,622.9 1206.5,625.6 1206.8,626.3 1207.1,626.5 1207.4,626.1 1207.7,625.1 1208.0,621.5 1208.3,624.9 1208.6,624.1 1208.9,625.8 1209.2,628.1 1209.5,626.1 1209.8,625.8 1210.1,626.6 1210.4,625.4 1210.7,624.7 1211.0,626.7 1211.3,624.1 1211.7,626.8 1212.0,627.7 1212.3,628.1 1212.6,625.5 1212.9,625.0 1213.2,626.4 1213.5,627.3 1213.8,626.3 1214.1,626.6 1214.4,627.0 1214.7,627.1 1215.0,625.7 1215.3,625.3 1215.6,627.2 1215.9,626.3 1216.2,628.1 1216.5,624.4 1216.8,627.0 1217.1,628.3 1217.4,625.4 1217.7,625.7 1218.0,627.7 1218.3,627.0 1218.6,625.9 1218.9,626.2 1219.2,625.7 1219.5,627.4 1219.8,627.5 1220.1,627.1 1220.4,626.6 1220.7,626.2 1221.0,624.8 1221.3,627.9 1221.6,624.0 1221.9,626.0 1222.2,625.4 1222.5,626.8 1222.8,625.5 1223.1,624.4 1223.4,625.1 1223.7,624.5 1224.0,625.8 1224.3,626.0 1224.6,625.0 1224.9,626.9 1225.2,624.9 1225.5,627.6 1225.8,627.0 1226.1,626.0 1226.4,624.5 1226.7,625.4 1227.0,624.0 1227.3,625.1 1227.6,623.4 1227.9,625.1 1228.2,625.6 1228.5,624.3 1228.8,625.3 1229.1,625.1 1229.4,623.1 1229.7,624.9 1230.0,625.7 1230.3,624.0 1230.6,624.8 1230.9,621.7 1231.2,623.7 1231.5,623.4 1231.8,622.1 1232.1,625.8 1232.4,621.6 1232.7,623.0 1233.0,622.9 1233.3,625.9 1233.6,624.4 1233.9,625.0 1234.2,624.0 1234.5,623.7 1234.8,623.1 1235.1,623.5 1235.4,621.2 1235.7,624.3 1236.0,622.7 1236.3,622.5 1236.6,627.0 1236.9,623.2 1237.2,622.8 1237.5,626.1 1237.8,626.7 1238.1,625.5 1238.4,622.1 1238.7,625.3 1239.0,624.7 1239.3,627.2 1239.6,623.6 1239.9,621.7 1240.2,622.5 1240.5,625.0 1240.8,623.0 1241.1,627.4 1241.4,624.1 1241.7,623.4 1242.0,623.2 1242.3,624.8 1242.6,625.4 1242.9,623.5 1243.2,623.4 1243.5,622.9 1243.8,624.8 1244.1,624.6 1244.4,624.0 1244.7,623.6 1245.0,626.1 1245.3,624.1 1245.6,622.5 1245.9,624.9 1246.2,625.4 1246.5,625.0 1246.8,625.8 1247.1,625.1 1247.4,623.4 1247.7,624.0 1248.0,625.5 1248.3,625.8 1248.6,625.4 1248.9,625.5 1249.2,625.4 1249.5,627.5 1249.8,624.8 1250.1,624.8 1250.4,625.8 1250.7,627.0 1251.0,625.8 1251.3,623.3 1251.6,624.9 1251.9,623.2 1252.2,622.7 1252.5,626.1 1252.8,622.9 1253.1,623.8 1253.4,624.4 1253.7,625.9 1254.0,621.9 1254.3,623.7 1254.6,623.4 1254.9,625.1 1255.2,623.1 1255.5,621.6 1255.8,622.1 1256.1,623.5 1256.4,624.4 1256.7,624.2 1257.0,621.1 1257.3,626.8 1257.6,625.2 1257.9,623.7 1258.2,623.0 1258.5,625.0 1258.8,626.5 1259.1,623.7 1259.4,626.9 1259.7,627.0 1260.0,625.9 1260.3,626.2 1260.6,626.0 1260.9,628.5 1261.2,626.1 1261.5,624.2 1261.8,625.6 1262.1,624.7 1262.4,626.7 1262.7,627.5 1263.0,628.8 1263.3,624.9 1263.6,625.5 1263.9,626.5 1264.2,627.0 1264.5,628.8 1264.8,624.3 1265.1,627.5 1265.4,626.6 1265.7,628.7 1266.0,628.1 1266.3,626.3 1266.6,627.5 1266.9,625.3 1267.2,626.0 1267.5,623.8 1267.8,627.1 1268.1,625.8 1268.4,627.1 1268.7,625.3 1269.0,627.3 1269.3,624.2 1269.6,624.9 1269.9,625.0 1270.2,627.4 1270.5,625.8 1270.8,627.1 1271.1,626.5 1271.4,624.2 1271.7,625.5 1272.0,623.7 1272.3,628.3 1272.6,624.0 1272.9,625.8 1273.2,627.6 1273.5,627.0 1273.8,624.3 1274.1,629.3 1274.4,626.5 1274.7,627.4 1275.0,626.6 1275.3,625.1 1275.6,624.9 1275.9,627.2 1276.2,624.1 1276.5,624.4 1276.8,625.8 1277.1,623.1 1277.4,625.5 1277.7,626.0 1278.0,624.0 1278.3,625.8 1278.6,624.9 1278.9,625.2 1279.2,623.6 1279.5,626.7 1279.8,625.2 1280.1,628.0 1280.4,624.1 1280.7,626.9 1281.0,626.6 1281.3,626.6 1281.6,626.3 1281.9,625.9 1282.2,626.9 1282.5,627.0 1282.8,627.5 1283.1,626.1 1283.4,627.5 1283.7,625.6 1284.0,624.9 1284.3,627.4 1284.6,625.0 1284.9,627.7 1285.2,626.8 1285.5,626.1 1285.8,625.5 1286.1,627.1 1286.4,627.2 1286.7,627.0 1287.0,625.3 1287.3,626.3 1287.6,627.3 1287.9,627.4 1288.2,624.7 1288.5,626.2 1288.8,627.1 1289.1,625.8 1289.4,625.6 1289.7,626.3 1290.0,626.5 1290.3,627.2 1290.6,626.2 1290.9,622.9 1291.2,626.0 1291.5,625.3 1291.8,623.6 1292.1,624.2 1292.4,622.4 1292.7,624.0 1293.0,626.3 1293.3,624.2 1293.6,625.0 1293.9,622.1 1294.2,625.6 1294.5,623.1 1294.8,624.8 1295.1,626.6 1295.4,622.5 1295.7,624.5 1296.0,623.1 1296.3,625.7 1296.6,625.1 1296.9,628.1 1297.2,626.8 1297.5,626.9 1297.8,625.7 1298.1,625.8 1298.4,628.0 1298.7,626.2 1299.0,626.8 1299.3,626.9 1299.6,624.2 1299.9,628.0 1300.2,628.2 1300.5,629.0 1300.8,626.7 1301.1,629.6 1301.4,627.8 1301.7,630.2 1302.0,628.2 1302.3,625.3 1302.6,628.6 1302.9,629.3 1303.2,626.1 1303.5,627.3 1303.8,626.8 1304.1,628.5 1304.4,628.4 1304.7,629.4 1305.0,626.3 1305.3,627.1 1305.6,629.0 1305.9,625.4 1306.2,627.5 1306.5,628.3 1306.8,627.9 1307.1,627.2 1307.4,630.1 1307.7,626.4 1308.0,629.5 1308.3,628.5 1308.6,630.2 1308.9,627.8 1309.2,628.8 1309.5,626.9 1309.8,628.3 1310.1,629.5 1310.4,628.0 1310.7,629.3 1311.0,628.8 1311.3,627.6 1311.6,627.2 1311.9,627.5 1312.2,627.8 1312.5,629.2 1312.8,627.5 1313.1,625.5 1313.4,629.8 1313.7,627.2 1314.0,627.0 1314.3,627.5 1314.6,628.6 1314.9,628.4 1315.2,626.6 1315.5,627.6 1315.8,628.0 1316.1,627.3 1316.4,626.3 1316.7,629.3 1317.0,628.4 1317.3,629.6 1317.6,628.3 1317.9,627.7 1318.2,629.3 1318.5,627.9 1318.8,628.6 1319.1,628.7 1319.4,627.2 1319.7,627.3 1320.0,627.6 1320.3,625.7 1320.6,627.2 1320.9,630.9 1321.2,629.3 1321.5,628.9 1321.8,629.2 1322.1,628.7 1322.4,628.3 1322.7,631.4 1323.0,627.9 1323.3,629.8 1323.6,626.4 1323.9,628.2 1324.2,629.5 1324.5,630.6 1324.8,625.6 1325.1,627.4 1325.4,627.1 1325.7,628.5 1326.0,628.5 1326.3,627.2 1326.6,630.1 1326.9,629.7 1327.2,629.5 1327.5,628.6 1327.8,628.1 1328.1,629.5 1328.4,628.8 1328.7,629.4 1329.0,629.4 1329.3,624.8 1329.6,624.6 1329.9,627.0 1330.2,626.6 1330.5,629.1 1330.8,628.5 1331.1,627.5 1331.4,626.9 1331.7,630.0 1332.0,628.2 1332.3,630.1 1332.6,628.5 1332.9,630.0 1333.2,629.3 1333.5,627.3 1333.8,629.0 1334.1,631.5 1334.4,630.2 1334.7,628.9 1335.0,630.3 1335.3,627.3 1335.6,627.6 1335.9,630.2 1336.2,626.4 1336.5,625.5 1336.8,626.1 1337.1,628.2 1337.4,626.5 1337.7,628.8 1338.0,630.5 1338.3,625.9 1338.6,628.2 1338.9,628.6 1339.2,628.1 1339.5,627.4 1339.8,627.7 1340.1,626.9 1340.4,629.6 1340.7,626.1 1341.0,629.5 1341.3,628.6 1341.6,630.8 1341.9,630.1 1342.2,630.8 1342.5,631.2 1342.8,627.2 1343.1,629.5 1343.4,630.1 1343.7,629.5 1344.0,628.2 1344.3,631.2 1344.6,629.1 1344.9,630.2 1345.2,631.7 1345.5,628.7 1345.8,629.0 1346.1,629.2 1346.4,630.0 1346.7,627.7 1347.0,628.5 1347.3,629.9 1347.6,629.7 1347.9,629.2 1348.2,628.2 1348.5,628.0 1348.8,629.2 1349.1,627.5 1349.4,628.5 1349.7,629.0 1350.0,627.7 1350.3,627.7 1350.6,627.9 1350.9,628.5 1351.2,627.6 1351.5,628.3 1351.8,628.7 1352.1,630.6 1352.4,628.9 1352.7,629.4 1353.0,628.4 1353.3,626.7 1353.6,628.2 1353.9,630.1 1354.2,629.2 1354.5,628.8 1354.8,627.8 1355.1,628.8 1355.4,632.1 1355.7,630.5 1356.0,630.6 1356.3,629.9 1356.6,629.1 1356.9,629.3 1357.2,630.6 1357.5,631.5 1357.8,630.9 1358.1,630.1 1358.4,630.6 1358.7,631.7 1359.0,629.4 1359.3,629.1 1359.6,632.3 1359.9,630.4 1360.2,633.0 1360.5,629.0 1360.8,628.2 1361.1,629.6 1361.4,632.1 1361.7,630.5 1362.0,628.8 1362.3,628.3 1362.6,628.1 1362.8,629.2 1363.1,633.3 1363.4,630.9 1363.7,628.7 1364.0,629.5 1364.3,629.3 1364.6,629.8 1364.9,628.4 1365.2,628.3 1365.5,628.4 1365.8,630.3 1366.1,628.5 1366.4,627.9 1366.7,627.4 1367.0,625.3 1367.3,625.6 1367.6,625.8 1367.9,627.5 1368.2,627.9 1368.5,626.1 1368.8,628.0 1369.1,625.4 1369.4,627.6 1369.7,627.8 1370.0,628.3 1370.3,629.2 1370.6,627.1 1370.9,626.8 1371.2,628.0 1371.5,628.2 1371.8,627.3 1372.1,628.8 1372.4,629.2 1372.7,626.5 1373.0,627.0 1373.3,628.4 1373.6,628.5 1373.9,626.8 1374.2,627.2 1374.5,629.8 1374.8,624.7 1375.1,628.4 1375.4,624.1 1375.7,627.1 1376.0,624.4 1376.3,624.5 1376.6,623.8 1376.9,625.5 1377.2,624.6 1377.5,624.7 1377.8,625.9 1378.1,623.5 1378.4,626.4 1378.7,624.7 1379.0,624.9 1379.3,627.1 1379.6,623.9 1379.9,623.9 1380.2,626.2 1380.5,627.6 1380.8,628.1 1381.1,625.5 1381.4,627.8 1381.7,626.9 1382.0,629.0 1382.3,627.7 1382.6,627.1 1382.9,626.6 1383.2,628.0 1383.5,628.9 1383.8,630.3 1384.1,624.4 1384.4,625.9 1384.7,626.7 1385.0,625.2 1385.3,626.7 1385.6,625.4 1385.9,626.0 1386.2,625.3 1386.5,627.8 1386.8,627.9 1387.1,626.8 1387.4,626.6 1387.7,626.6 1388.0,625.4 1388.3,629.6 1388.6,628.3 1388.9,627.2 1389.2,628.4 1389.5,628.6 1389.8,628.6 1390.1,629.3 1390.4,629.3 1390.7,625.5 1391.0,631.4 1391.3,627.1 1391.6,630.4 1391.9,626.2 1392.2,627.7 1392.5,629.2 1392.8,629.4 1393.1,629.4 1393.4,628.0 1393.7,627.6 1394.0,628.8"/>
</g>
<text font-size="24.6" fill="#000" stroke="#000" stroke-width="0.35"><tspan x="73.83" y="60.00" textLength="44.50" lengthAdjust="spacingAndGlyphs">500</tspan></text>
<text font-size="24.6" fill="#000" stroke="#000" stroke-width="0.35"><tspan x="74.40" y="196.00" textLength="44.17" lengthAdjust="spacingAndGlyphs">450</tspan></text>
<text font-size="24.6" fill="#000" stroke="#000" stroke-width="0.35"><tspan x="74.40" y="339.00" textLength="44.17" lengthAdjust="spacingAndGlyphs">400</tspan></text>
<text font-size="24.6" fill="#000" stroke="#000" stroke-width="0.35"><tspan x="73.81" y="482.00" textLength="44.84" lengthAdjust="spacingAndGlyphs">350</tspan></text>
<text font-size="24.6" fill="#000" stroke="#000" stroke-width="0.35"><tspan x="73.81" y="625.00" textLength="44.84" lengthAdjust="spacingAndGlyphs">300</tspan></text>
<text font-size="24.6" fill="#000" stroke="#000" stroke-width="0.35"><tspan x="73.68" y="760.00" textLength="44.91" lengthAdjust="spacingAndGlyphs">250</tspan></text>
<text font-size="24.6" fill="#000" stroke="#000" stroke-width="0.35"><tspan x="124.40" y="790.00" textLength="66.20" lengthAdjust="spacingAndGlyphs">07:00</tspan></text>
<text font-size="24.6" fill="#000" stroke="#000" stroke-width="0.35"><tspan x="445.94" y="790.00" textLength="67.17" lengthAdjust="spacingAndGlyphs">07:05</tspan></text>
<text font-size="24.6" fill="#000" stroke="#000" stroke-width="0.35"><tspan x="767.40" y="790.00" textLength="66.49" lengthAdjust="spacingAndGlyphs">07:10</tspan></text>
<text font-size="24.6" fill="#000" stroke="#000" stroke-width="0.35"><tspan x="1088.94" y="790.00" textLength="67.17" lengthAdjust="spacingAndGlyphs">07:15</tspan></text>
<text font-size="32.9" fill="#000"><tspan x="326.44" y="35.00" textLength="165.69" lengthAdjust="spacingAndGlyphs">04.11.2024</tspan> <tspan x="506.04" y="35.00" textLength="149.05" lengthAdjust="spacingAndGlyphs">Kislovodsk</tspan> <tspan x="669.88" y="35.00" textLength="35.40" lengthAdjust="spacingAndGlyphs">RT</tspan><tspan x="702.65" y="32.20" textLength="26.17" lengthAdjust="spacingAndGlyphs">-</tspan><tspan x="727.80" y="35.00" textLength="18.42" lengthAdjust="spacingAndGlyphs">2</tspan><tspan x="746.84" y="35.00" textLength="11.24" lengthAdjust="spacingAndGlyphs">(</tspan><tspan x="760.11" y="35.00" textLength="73.16" lengthAdjust="spacingAndGlyphs">9350</tspan><tspan x="833.19" y="35.00" textLength="58.47" lengthAdjust="spacingAndGlyphs">MHz</tspan><tspan x="893.12" y="35.00" textLength="11.32" lengthAdjust="spacingAndGlyphs">)</tspan> <tspan x="919.03" y="35.00" textLength="23.26" lengthAdjust="spacingAndGlyphs">&amp;</tspan> <tspan x="957.88" y="35.00" textLength="34.87" lengthAdjust="spacingAndGlyphs">RT</tspan><tspan x="991.17" y="32.20" textLength="24.78" lengthAdjust="spacingAndGlyphs">-</tspan><tspan x="1015.39" y="35.00" textLength="18.84" lengthAdjust="spacingAndGlyphs">3</tspan><tspan x="1033.98" y="35.00" textLength="12.44" lengthAdjust="spacingAndGlyphs">(</tspan><tspan x="1047.25" y="35.00" textLength="73.07" lengthAdjust="spacingAndGlyphs">6150</tspan><tspan x="1120.70" y="35.00" textLength="58.14" lengthAdjust="spacingAndGlyphs">MHz</tspan><tspan x="1179.78" y="35.00" textLength="11.32" lengthAdjust="spacingAndGlyphs">)</tspan></text>
<text font-size="27.5" fill="#000"><tspan x="1328.77" y="753.00" textLength="32.83" lengthAdjust="spacingAndGlyphs">UT</tspan></text>
<text font-size="37.3" fill="#0000ff"><tspan x="986.22" y="95.80" textLength="108.03" lengthAdjust="spacingAndGlyphs">3.2cm</tspan><tspan x="1094.60" y="95.80" textLength="13.88" lengthAdjust="spacingAndGlyphs">(</tspan><tspan x="1108.04" y="94.20" textLength="31.38" lengthAdjust="spacingAndGlyphs">-</tspan><tspan x="1137.78" y="95.80" textLength="65.81" lengthAdjust="spacingAndGlyphs">230</tspan><tspan x="1205.02" y="95.80" textLength="68.06" lengthAdjust="spacingAndGlyphs">sfu)</tspan></text>
<text font-size="37.3" fill="#ff0000"><tspan x="986.91" y="133.80" textLength="107.29" lengthAdjust="spacingAndGlyphs">4.9cm</tspan></text>
<text x="745.5" y="822" font-size="35" fill="#000" textLength="30" lengthAdjust="spacingAndGlyphs">UT</text>
<g stroke-width="3" shape-rendering="crispEdges"><path d="M951 78.5h29" stroke="#0000ff"/><path d="M951 115.5h29" stroke="#ff0000"/></g>
<g transform="translate(55.5,476) rotate(-90)">
<text x="0" y="0" font-size="25" fill="#000" stroke="#000" stroke-width="0.4" textLength="148" lengthAdjust="spacingAndGlyphs">10<tspan font-size="13" dy="-11"><tspan textLength="7.5" lengthAdjust="spacingAndGlyphs">-</tspan>22</tspan><tspan dy="11">Wm</tspan><tspan font-size="13" dy="-11"><tspan textLength="7.5" lengthAdjust="spacingAndGlyphs">-</tspan>2</tspan><tspan dy="11">Hz</tspan><tspan font-size="13" dy="-11"><tspan textLength="7.5" lengthAdjust="spacingAndGlyphs">-</tspan>1</tspan></text>
</g></svg>
</body></html>
